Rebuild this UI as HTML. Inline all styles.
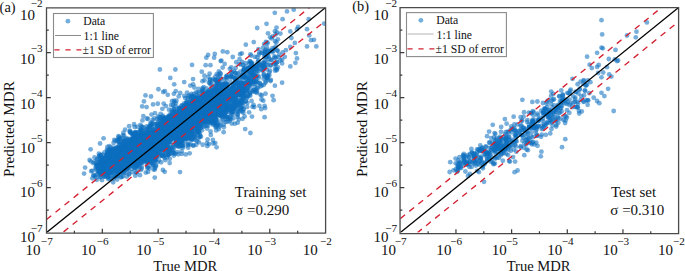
<!DOCTYPE html><html><head><meta charset="utf-8"><style>html,body{margin:0;padding:0;background:#fff;width:685px;height:271px;overflow:hidden;}svg{display:block}</style></head><body><svg xmlns="http://www.w3.org/2000/svg" width="685" height="271" viewBox="0 0 685 271" font-family='"Liberation Serif", serif' fill="#111"><clipPath id="ca"><rect x="46.5" y="7.6" width="279.1" height="225.0"/></clipPath><g clip-path="url(#ca)" fill="#0d6fbe" fill-opacity="0.56"><circle cx="119.06" cy="168.07" r="2.4"/><circle cx="171.29" cy="128.56" r="2.4"/><circle cx="186.04" cy="114.1" r="2.4"/><circle cx="103.53" cy="166.3" r="2.4"/><circle cx="121.78" cy="151.91" r="2.4"/><circle cx="247.36" cy="90.76" r="2.4"/><circle cx="110.79" cy="155.19" r="2.4"/><circle cx="119.23" cy="158.8" r="2.4"/><circle cx="255.54" cy="91.9" r="2.4"/><circle cx="189.02" cy="139.14" r="2.4"/><circle cx="152.86" cy="142.19" r="2.4"/><circle cx="173.02" cy="105.25" r="2.4"/><circle cx="195.04" cy="101.21" r="2.4"/><circle cx="139.69" cy="143.36" r="2.4"/><circle cx="120.38" cy="150.51" r="2.4"/><circle cx="215.08" cy="93.02" r="2.4"/><circle cx="196.15" cy="115.65" r="2.4"/><circle cx="173.16" cy="116.81" r="2.4"/><circle cx="220.34" cy="96.39" r="2.4"/><circle cx="178.44" cy="130.1" r="2.4"/><circle cx="277.83" cy="-3.04" r="2.4"/><circle cx="129.74" cy="143.51" r="2.4"/><circle cx="179.11" cy="127.92" r="2.4"/><circle cx="169.05" cy="119.64" r="2.4"/><circle cx="150.65" cy="153.04" r="2.4"/><circle cx="184.6" cy="132.43" r="2.4"/><circle cx="134.07" cy="124.23" r="2.4"/><circle cx="217.64" cy="93.3" r="2.4"/><circle cx="230.66" cy="105.82" r="2.4"/><circle cx="119.09" cy="171.75" r="2.4"/><circle cx="166.69" cy="133.9" r="2.4"/><circle cx="139.95" cy="157.48" r="2.4"/><circle cx="112.67" cy="151.11" r="2.4"/><circle cx="237.62" cy="114.27" r="2.4"/><circle cx="161.44" cy="125.71" r="2.4"/><circle cx="121.75" cy="163.31" r="2.4"/><circle cx="196.59" cy="128.38" r="2.4"/><circle cx="129.42" cy="153.12" r="2.4"/><circle cx="239.1" cy="104.76" r="2.4"/><circle cx="131.51" cy="158.29" r="2.4"/><circle cx="104.42" cy="170.39" r="2.4"/><circle cx="129.21" cy="173.72" r="2.4"/><circle cx="149.59" cy="156.53" r="2.4"/><circle cx="166.96" cy="129.95" r="2.4"/><circle cx="240.41" cy="111.13" r="2.4"/><circle cx="200.19" cy="136" r="2.4"/><circle cx="148.69" cy="155.09" r="2.4"/><circle cx="100.62" cy="160.45" r="2.4"/><circle cx="123.46" cy="148.48" r="2.4"/><circle cx="165.65" cy="142.74" r="2.4"/><circle cx="199.23" cy="105.93" r="2.4"/><circle cx="108.28" cy="162.16" r="2.4"/><circle cx="104.62" cy="176.64" r="2.4"/><circle cx="226.06" cy="87.03" r="2.4"/><circle cx="184.06" cy="124.75" r="2.4"/><circle cx="144.39" cy="154.32" r="2.4"/><circle cx="145.6" cy="155.76" r="2.4"/><circle cx="113.53" cy="178.77" r="2.4"/><circle cx="125.26" cy="154.47" r="2.4"/><circle cx="102.61" cy="159.72" r="2.4"/><circle cx="224.7" cy="100.88" r="2.4"/><circle cx="166.58" cy="136.99" r="2.4"/><circle cx="118.87" cy="163.19" r="2.4"/><circle cx="206.78" cy="101.04" r="2.4"/><circle cx="128.49" cy="153.94" r="2.4"/><circle cx="109.46" cy="173.72" r="2.4"/><circle cx="185.59" cy="122.63" r="2.4"/><circle cx="237.57" cy="84.2" r="2.4"/><circle cx="103.15" cy="165.62" r="2.4"/><circle cx="218.17" cy="105.87" r="2.4"/><circle cx="127.72" cy="160.06" r="2.4"/><circle cx="114.05" cy="156.72" r="2.4"/><circle cx="100.93" cy="171.05" r="2.4"/><circle cx="142.17" cy="147.35" r="2.4"/><circle cx="204.82" cy="108.71" r="2.4"/><circle cx="170.41" cy="116.57" r="2.4"/><circle cx="227.53" cy="99.38" r="2.4"/><circle cx="131.52" cy="133.42" r="2.4"/><circle cx="145.3" cy="158.35" r="2.4"/><circle cx="137.28" cy="151.08" r="2.4"/><circle cx="275.35" cy="68.14" r="2.4"/><circle cx="252.25" cy="76.32" r="2.4"/><circle cx="148.88" cy="140.58" r="2.4"/><circle cx="162.29" cy="117.02" r="2.4"/><circle cx="145.17" cy="137.12" r="2.4"/><circle cx="207.97" cy="113.9" r="2.4"/><circle cx="105.73" cy="164.41" r="2.4"/><circle cx="110.33" cy="161.11" r="2.4"/><circle cx="157.79" cy="147.65" r="2.4"/><circle cx="135.44" cy="141.2" r="2.4"/><circle cx="225.93" cy="92.83" r="2.4"/><circle cx="207.2" cy="113.56" r="2.4"/><circle cx="177.97" cy="133.95" r="2.4"/><circle cx="194.84" cy="105.79" r="2.4"/><circle cx="199.42" cy="114.79" r="2.4"/><circle cx="213.84" cy="89.56" r="2.4"/><circle cx="247.11" cy="72.92" r="2.4"/><circle cx="122.04" cy="164.14" r="2.4"/><circle cx="189.64" cy="153.36" r="2.4"/><circle cx="121.18" cy="156.51" r="2.4"/><circle cx="163.3" cy="141.73" r="2.4"/><circle cx="214.76" cy="115.26" r="2.4"/><circle cx="237.29" cy="106.51" r="2.4"/><circle cx="210.09" cy="79.38" r="2.4"/><circle cx="104.88" cy="166.76" r="2.4"/><circle cx="151.51" cy="114.59" r="2.4"/><circle cx="123.91" cy="149.78" r="2.4"/><circle cx="121.23" cy="151.21" r="2.4"/><circle cx="135.33" cy="132.18" r="2.4"/><circle cx="151.2" cy="161.07" r="2.4"/><circle cx="109.29" cy="170.03" r="2.4"/><circle cx="231.35" cy="94.71" r="2.4"/><circle cx="191.14" cy="128.7" r="2.4"/><circle cx="123.45" cy="145.51" r="2.4"/><circle cx="171.14" cy="139.33" r="2.4"/><circle cx="112.02" cy="151.02" r="2.4"/><circle cx="187.43" cy="145.42" r="2.4"/><circle cx="133.56" cy="158.85" r="2.4"/><circle cx="105.48" cy="166.07" r="2.4"/><circle cx="117.19" cy="154.28" r="2.4"/><circle cx="179.33" cy="126.39" r="2.4"/><circle cx="191.23" cy="98.68" r="2.4"/><circle cx="146.65" cy="131.59" r="2.4"/><circle cx="192.18" cy="95.97" r="2.4"/><circle cx="150.48" cy="147.93" r="2.4"/><circle cx="119.36" cy="150.8" r="2.4"/><circle cx="145.3" cy="151.18" r="2.4"/><circle cx="156.55" cy="123.62" r="2.4"/><circle cx="242.32" cy="111.57" r="2.4"/><circle cx="117.25" cy="164.7" r="2.4"/><circle cx="113.1" cy="162.16" r="2.4"/><circle cx="180.23" cy="131.03" r="2.4"/><circle cx="264.12" cy="44.03" r="2.4"/><circle cx="240.74" cy="106.88" r="2.4"/><circle cx="200.63" cy="121.1" r="2.4"/><circle cx="110.22" cy="167.73" r="2.4"/><circle cx="218.41" cy="101.81" r="2.4"/><circle cx="198.08" cy="128.63" r="2.4"/><circle cx="121.22" cy="152.76" r="2.4"/><circle cx="166.39" cy="129.18" r="2.4"/><circle cx="107.38" cy="176.78" r="2.4"/><circle cx="217.58" cy="125.03" r="2.4"/><circle cx="203.48" cy="100.22" r="2.4"/><circle cx="218.08" cy="83.57" r="2.4"/><circle cx="210.29" cy="122.22" r="2.4"/><circle cx="138.56" cy="150.48" r="2.4"/><circle cx="215.38" cy="116.94" r="2.4"/><circle cx="136.02" cy="142.91" r="2.4"/><circle cx="120.37" cy="168.09" r="2.4"/><circle cx="155.87" cy="147.39" r="2.4"/><circle cx="171.08" cy="127.71" r="2.4"/><circle cx="141.17" cy="147.09" r="2.4"/><circle cx="186.67" cy="108.91" r="2.4"/><circle cx="186.19" cy="116.86" r="2.4"/><circle cx="134.7" cy="168.23" r="2.4"/><circle cx="189.12" cy="114.05" r="2.4"/><circle cx="151.21" cy="155.13" r="2.4"/><circle cx="206.04" cy="92.55" r="2.4"/><circle cx="141.81" cy="135.29" r="2.4"/><circle cx="217.01" cy="90.14" r="2.4"/><circle cx="159.34" cy="117.48" r="2.4"/><circle cx="179.04" cy="118.61" r="2.4"/><circle cx="196.59" cy="98.12" r="2.4"/><circle cx="174.02" cy="120.13" r="2.4"/><circle cx="137.2" cy="143.16" r="2.4"/><circle cx="276.35" cy="42.28" r="2.4"/><circle cx="114.49" cy="157.28" r="2.4"/><circle cx="146.66" cy="130.21" r="2.4"/><circle cx="178.44" cy="134.47" r="2.4"/><circle cx="103.53" cy="173.69" r="2.4"/><circle cx="122.77" cy="162.84" r="2.4"/><circle cx="217.1" cy="82.85" r="2.4"/><circle cx="214.33" cy="105.43" r="2.4"/><circle cx="191.23" cy="130.78" r="2.4"/><circle cx="239.2" cy="104.06" r="2.4"/><circle cx="209.47" cy="99.51" r="2.4"/><circle cx="142.99" cy="145.87" r="2.4"/><circle cx="192.39" cy="97.31" r="2.4"/><circle cx="148.8" cy="148.31" r="2.4"/><circle cx="208.52" cy="100.19" r="2.4"/><circle cx="155.08" cy="150.66" r="2.4"/><circle cx="122.53" cy="153.84" r="2.4"/><circle cx="232.76" cy="57.02" r="2.4"/><circle cx="199.13" cy="119.1" r="2.4"/><circle cx="207.67" cy="108.49" r="2.4"/><circle cx="179.96" cy="116.05" r="2.4"/><circle cx="214.17" cy="115.35" r="2.4"/><circle cx="163.97" cy="141.03" r="2.4"/><circle cx="180.86" cy="129.89" r="2.4"/><circle cx="109.56" cy="157.31" r="2.4"/><circle cx="179.3" cy="140.27" r="2.4"/><circle cx="219.94" cy="84.6" r="2.4"/><circle cx="201.44" cy="108.47" r="2.4"/><circle cx="217.81" cy="99.98" r="2.4"/><circle cx="170.83" cy="131.64" r="2.4"/><circle cx="233.93" cy="93.64" r="2.4"/><circle cx="116.21" cy="176.34" r="2.4"/><circle cx="232.58" cy="77.19" r="2.4"/><circle cx="153.18" cy="153.15" r="2.4"/><circle cx="113.78" cy="149.39" r="2.4"/><circle cx="188.65" cy="121.43" r="2.4"/><circle cx="164.96" cy="137.3" r="2.4"/><circle cx="161.21" cy="132.94" r="2.4"/><circle cx="227.34" cy="77.32" r="2.4"/><circle cx="120.36" cy="157.86" r="2.4"/><circle cx="188.3" cy="127.11" r="2.4"/><circle cx="159.15" cy="137.38" r="2.4"/><circle cx="175.44" cy="153.83" r="2.4"/><circle cx="171.3" cy="146.95" r="2.4"/><circle cx="119.84" cy="167.6" r="2.4"/><circle cx="173.11" cy="135.19" r="2.4"/><circle cx="229.5" cy="121" r="2.4"/><circle cx="125.06" cy="146.52" r="2.4"/><circle cx="98.87" cy="169.66" r="2.4"/><circle cx="110.35" cy="160.72" r="2.4"/><circle cx="165.66" cy="122.11" r="2.4"/><circle cx="272.05" cy="60.23" r="2.4"/><circle cx="106.49" cy="168.67" r="2.4"/><circle cx="176.56" cy="114.19" r="2.4"/><circle cx="117.88" cy="139.69" r="2.4"/><circle cx="159.83" cy="142.22" r="2.4"/><circle cx="130.14" cy="151.51" r="2.4"/><circle cx="202.78" cy="104.75" r="2.4"/><circle cx="177.35" cy="130.05" r="2.4"/><circle cx="141.47" cy="145.66" r="2.4"/><circle cx="136.9" cy="163.62" r="2.4"/><circle cx="230.58" cy="109.93" r="2.4"/><circle cx="211.28" cy="112.55" r="2.4"/><circle cx="162.32" cy="155.33" r="2.4"/><circle cx="157.99" cy="134.55" r="2.4"/><circle cx="206.49" cy="101.06" r="2.4"/><circle cx="269.17" cy="50.53" r="2.4"/><circle cx="112.15" cy="164.17" r="2.4"/><circle cx="123.35" cy="147.87" r="2.4"/><circle cx="151.92" cy="133.8" r="2.4"/><circle cx="172.49" cy="124.95" r="2.4"/><circle cx="110.94" cy="163.57" r="2.4"/><circle cx="108.08" cy="151.37" r="2.4"/><circle cx="131.84" cy="161.79" r="2.4"/><circle cx="155.24" cy="159.32" r="2.4"/><circle cx="206.78" cy="121.9" r="2.4"/><circle cx="187.27" cy="107.4" r="2.4"/><circle cx="103.64" cy="165.1" r="2.4"/><circle cx="106.63" cy="164.74" r="2.4"/><circle cx="164.56" cy="157.94" r="2.4"/><circle cx="232.39" cy="96.89" r="2.4"/><circle cx="243.03" cy="102.68" r="2.4"/><circle cx="152.31" cy="165.72" r="2.4"/><circle cx="235.41" cy="78.1" r="2.4"/><circle cx="247.68" cy="82.65" r="2.4"/><circle cx="158.15" cy="125.99" r="2.4"/><circle cx="207.9" cy="108.53" r="2.4"/><circle cx="152.35" cy="136.79" r="2.4"/><circle cx="122.58" cy="163.51" r="2.4"/><circle cx="182.22" cy="118.82" r="2.4"/><circle cx="113.14" cy="161.04" r="2.4"/><circle cx="195.12" cy="105.09" r="2.4"/><circle cx="218.93" cy="95.01" r="2.4"/><circle cx="243.16" cy="98.03" r="2.4"/><circle cx="163.99" cy="134.39" r="2.4"/><circle cx="117.49" cy="157.86" r="2.4"/><circle cx="239.39" cy="95.12" r="2.4"/><circle cx="231.35" cy="96.6" r="2.4"/><circle cx="266.93" cy="47.56" r="2.4"/><circle cx="184.95" cy="110.23" r="2.4"/><circle cx="196.6" cy="114.83" r="2.4"/><circle cx="153.46" cy="164.88" r="2.4"/><circle cx="126.73" cy="145.42" r="2.4"/><circle cx="142" cy="132.16" r="2.4"/><circle cx="203.8" cy="111.99" r="2.4"/><circle cx="146.67" cy="159.83" r="2.4"/><circle cx="199.31" cy="106.3" r="2.4"/><circle cx="171.7" cy="128.61" r="2.4"/><circle cx="164.13" cy="126.56" r="2.4"/><circle cx="266.95" cy="69.41" r="2.4"/><circle cx="124.34" cy="141.05" r="2.4"/><circle cx="169.55" cy="122.56" r="2.4"/><circle cx="123.44" cy="170.61" r="2.4"/><circle cx="250.8" cy="67.73" r="2.4"/><circle cx="169.76" cy="132.07" r="2.4"/><circle cx="147.65" cy="139.19" r="2.4"/><circle cx="124.65" cy="153.53" r="2.4"/><circle cx="184.97" cy="120.38" r="2.4"/><circle cx="157.07" cy="137.67" r="2.4"/><circle cx="118.87" cy="159.36" r="2.4"/><circle cx="104.29" cy="169.37" r="2.4"/><circle cx="156" cy="144.23" r="2.4"/><circle cx="183.38" cy="126.23" r="2.4"/><circle cx="174.09" cy="123.63" r="2.4"/><circle cx="238.72" cy="84.97" r="2.4"/><circle cx="242.01" cy="102.96" r="2.4"/><circle cx="250.34" cy="67.47" r="2.4"/><circle cx="217.18" cy="102" r="2.4"/><circle cx="168.19" cy="129.19" r="2.4"/><circle cx="174.8" cy="121.04" r="2.4"/><circle cx="156.84" cy="137.24" r="2.4"/><circle cx="157.15" cy="133.29" r="2.4"/><circle cx="106.02" cy="172.14" r="2.4"/><circle cx="217.02" cy="81.08" r="2.4"/><circle cx="135.57" cy="132.15" r="2.4"/><circle cx="103.66" cy="158.43" r="2.4"/><circle cx="166.61" cy="138.77" r="2.4"/><circle cx="203.36" cy="103.39" r="2.4"/><circle cx="162.29" cy="139.83" r="2.4"/><circle cx="152.18" cy="126.43" r="2.4"/><circle cx="194.4" cy="122.36" r="2.4"/><circle cx="123.88" cy="166.08" r="2.4"/><circle cx="98.82" cy="168.14" r="2.4"/><circle cx="184.72" cy="128.23" r="2.4"/><circle cx="175.76" cy="91.14" r="2.4"/><circle cx="230.32" cy="99.21" r="2.4"/><circle cx="159.45" cy="136.36" r="2.4"/><circle cx="214.73" cy="105.26" r="2.4"/><circle cx="100.92" cy="156.12" r="2.4"/><circle cx="103.22" cy="162.16" r="2.4"/><circle cx="185.62" cy="119.76" r="2.4"/><circle cx="132.79" cy="138.12" r="2.4"/><circle cx="110.3" cy="160.42" r="2.4"/><circle cx="118.95" cy="160.82" r="2.4"/><circle cx="153.67" cy="145.56" r="2.4"/><circle cx="148.38" cy="133.56" r="2.4"/><circle cx="180.57" cy="122.07" r="2.4"/><circle cx="235.47" cy="106.39" r="2.4"/><circle cx="152.39" cy="131.28" r="2.4"/><circle cx="126.88" cy="165.13" r="2.4"/><circle cx="182.63" cy="144.98" r="2.4"/><circle cx="93.58" cy="174.89" r="2.4"/><circle cx="155.08" cy="161.09" r="2.4"/><circle cx="145.58" cy="148.54" r="2.4"/><circle cx="155.45" cy="140.16" r="2.4"/><circle cx="107.63" cy="165.28" r="2.4"/><circle cx="179.18" cy="134.67" r="2.4"/><circle cx="189.36" cy="129.67" r="2.4"/><circle cx="208.46" cy="97.37" r="2.4"/><circle cx="260.47" cy="94.68" r="2.4"/><circle cx="150.86" cy="137.01" r="2.4"/><circle cx="194.07" cy="112.73" r="2.4"/><circle cx="163.14" cy="138.26" r="2.4"/><circle cx="131.22" cy="144.78" r="2.4"/><circle cx="235.9" cy="105.9" r="2.4"/><circle cx="207.87" cy="94.96" r="2.4"/><circle cx="253.01" cy="70.42" r="2.4"/><circle cx="221.26" cy="78.78" r="2.4"/><circle cx="243.8" cy="109.43" r="2.4"/><circle cx="118.99" cy="156.88" r="2.4"/><circle cx="100.28" cy="167.15" r="2.4"/><circle cx="128.91" cy="174.49" r="2.4"/><circle cx="158.92" cy="142.12" r="2.4"/><circle cx="198.72" cy="111.91" r="2.4"/><circle cx="162.64" cy="145.54" r="2.4"/><circle cx="173.3" cy="123.93" r="2.4"/><circle cx="210.39" cy="96.02" r="2.4"/><circle cx="110.81" cy="166.21" r="2.4"/><circle cx="197.32" cy="116.84" r="2.4"/><circle cx="107.28" cy="157.95" r="2.4"/><circle cx="135.94" cy="160.57" r="2.4"/><circle cx="204.06" cy="102.34" r="2.4"/><circle cx="198.03" cy="102.06" r="2.4"/><circle cx="157.96" cy="141.1" r="2.4"/><circle cx="142.4" cy="143.92" r="2.4"/><circle cx="222.53" cy="96.93" r="2.4"/><circle cx="139.61" cy="143.06" r="2.4"/><circle cx="104.05" cy="176.56" r="2.4"/><circle cx="135.75" cy="165.55" r="2.4"/><circle cx="101.79" cy="172.09" r="2.4"/><circle cx="219.21" cy="110.99" r="2.4"/><circle cx="118.18" cy="148.55" r="2.4"/><circle cx="271.66" cy="38.38" r="2.4"/><circle cx="130.93" cy="144.53" r="2.4"/><circle cx="144.01" cy="136.38" r="2.4"/><circle cx="183.67" cy="132.42" r="2.4"/><circle cx="144.32" cy="152.87" r="2.4"/><circle cx="154.31" cy="157.31" r="2.4"/><circle cx="115.64" cy="149.87" r="2.4"/><circle cx="155.68" cy="136.7" r="2.4"/><circle cx="102.76" cy="165.27" r="2.4"/><circle cx="132.47" cy="163.09" r="2.4"/><circle cx="241.38" cy="99.4" r="2.4"/><circle cx="140.46" cy="144.62" r="2.4"/><circle cx="139.07" cy="149.54" r="2.4"/><circle cx="197.47" cy="102.17" r="2.4"/><circle cx="234.31" cy="92.21" r="2.4"/><circle cx="142.58" cy="153.17" r="2.4"/><circle cx="153.89" cy="153.95" r="2.4"/><circle cx="202.86" cy="109.88" r="2.4"/><circle cx="215.81" cy="86.34" r="2.4"/><circle cx="187.84" cy="98.42" r="2.4"/><circle cx="126.15" cy="162.44" r="2.4"/><circle cx="126.4" cy="152.68" r="2.4"/><circle cx="209.87" cy="111.01" r="2.4"/><circle cx="201.64" cy="108.56" r="2.4"/><circle cx="237.71" cy="122.72" r="2.4"/><circle cx="213.62" cy="110.02" r="2.4"/><circle cx="160.2" cy="155.79" r="2.4"/><circle cx="119.72" cy="139.13" r="2.4"/><circle cx="236.2" cy="98.36" r="2.4"/><circle cx="199.91" cy="104.91" r="2.4"/><circle cx="182.39" cy="122.61" r="2.4"/><circle cx="197.85" cy="126.79" r="2.4"/><circle cx="155.13" cy="136.34" r="2.4"/><circle cx="149.25" cy="132.24" r="2.4"/><circle cx="182.25" cy="122.69" r="2.4"/><circle cx="168.93" cy="124.72" r="2.4"/><circle cx="201.97" cy="90.82" r="2.4"/><circle cx="250.26" cy="72.3" r="2.4"/><circle cx="226.35" cy="98.98" r="2.4"/><circle cx="155.46" cy="157.18" r="2.4"/><circle cx="153.35" cy="156.31" r="2.4"/><circle cx="246.88" cy="98.17" r="2.4"/><circle cx="156.46" cy="133.73" r="2.4"/><circle cx="217.28" cy="87.26" r="2.4"/><circle cx="114.03" cy="158.15" r="2.4"/><circle cx="164.43" cy="126.7" r="2.4"/><circle cx="173.71" cy="153.12" r="2.4"/><circle cx="218.86" cy="99.48" r="2.4"/><circle cx="233.03" cy="114.23" r="2.4"/><circle cx="122.45" cy="147.83" r="2.4"/><circle cx="188.33" cy="104.85" r="2.4"/><circle cx="190.08" cy="105.88" r="2.4"/><circle cx="122.29" cy="149.58" r="2.4"/><circle cx="223.6" cy="84.54" r="2.4"/><circle cx="179.07" cy="108" r="2.4"/><circle cx="263.05" cy="70.58" r="2.4"/><circle cx="127.18" cy="141.33" r="2.4"/><circle cx="174.97" cy="133.44" r="2.4"/><circle cx="146.46" cy="158.9" r="2.4"/><circle cx="192.04" cy="64.88" r="2.4"/><circle cx="187" cy="111.31" r="2.4"/><circle cx="173.17" cy="124.64" r="2.4"/><circle cx="146.66" cy="153.16" r="2.4"/><circle cx="171.95" cy="126.65" r="2.4"/><circle cx="153.32" cy="142.19" r="2.4"/><circle cx="236.28" cy="62.23" r="2.4"/><circle cx="165.91" cy="131.84" r="2.4"/><circle cx="167.85" cy="127.68" r="2.4"/><circle cx="137.34" cy="153.28" r="2.4"/><circle cx="136.67" cy="145.29" r="2.4"/><circle cx="258.42" cy="49.05" r="2.4"/><circle cx="145.13" cy="152.45" r="2.4"/><circle cx="230.89" cy="99.71" r="2.4"/><circle cx="185.06" cy="140.98" r="2.4"/><circle cx="277.44" cy="50.64" r="2.4"/><circle cx="124.05" cy="142.94" r="2.4"/><circle cx="252.49" cy="91.88" r="2.4"/><circle cx="212.35" cy="107.46" r="2.4"/><circle cx="181.18" cy="137.3" r="2.4"/><circle cx="201.95" cy="112.77" r="2.4"/><circle cx="204.08" cy="118.98" r="2.4"/><circle cx="164.04" cy="138.97" r="2.4"/><circle cx="190.87" cy="129.35" r="2.4"/><circle cx="133.12" cy="150.83" r="2.4"/><circle cx="101.83" cy="160.07" r="2.4"/><circle cx="197.06" cy="102.08" r="2.4"/><circle cx="167.74" cy="152.39" r="2.4"/><circle cx="240.25" cy="71.67" r="2.4"/><circle cx="138.11" cy="141.99" r="2.4"/><circle cx="220.58" cy="86.21" r="2.4"/><circle cx="238.19" cy="95.1" r="2.4"/><circle cx="264.77" cy="54.67" r="2.4"/><circle cx="123.35" cy="140.96" r="2.4"/><circle cx="124.2" cy="166.34" r="2.4"/><circle cx="133.08" cy="145.42" r="2.4"/><circle cx="151.8" cy="140" r="2.4"/><circle cx="117.21" cy="162.1" r="2.4"/><circle cx="122.17" cy="154.09" r="2.4"/><circle cx="101.07" cy="169.83" r="2.4"/><circle cx="249.19" cy="63.68" r="2.4"/><circle cx="151.75" cy="156.95" r="2.4"/><circle cx="189.63" cy="115.44" r="2.4"/><circle cx="164.91" cy="141.02" r="2.4"/><circle cx="207.4" cy="108.73" r="2.4"/><circle cx="218.36" cy="111.18" r="2.4"/><circle cx="154.83" cy="169.54" r="2.4"/><circle cx="176.46" cy="100.67" r="2.4"/><circle cx="114.69" cy="153.75" r="2.4"/><circle cx="141.12" cy="145.01" r="2.4"/><circle cx="132.3" cy="151.06" r="2.4"/><circle cx="144.36" cy="145.12" r="2.4"/><circle cx="146.6" cy="148.08" r="2.4"/><circle cx="182.19" cy="122.37" r="2.4"/><circle cx="147.77" cy="132.38" r="2.4"/><circle cx="146.94" cy="151.67" r="2.4"/><circle cx="223.15" cy="109.1" r="2.4"/><circle cx="99.11" cy="156.63" r="2.4"/><circle cx="96.02" cy="170.06" r="2.4"/><circle cx="108.68" cy="161.61" r="2.4"/><circle cx="230.26" cy="96.17" r="2.4"/><circle cx="190.76" cy="108.5" r="2.4"/><circle cx="204.96" cy="101.09" r="2.4"/><circle cx="260.61" cy="65.06" r="2.4"/><circle cx="131.63" cy="159.77" r="2.4"/><circle cx="244.6" cy="96.2" r="2.4"/><circle cx="135.09" cy="149.15" r="2.4"/><circle cx="174.09" cy="108.74" r="2.4"/><circle cx="197.74" cy="130.57" r="2.4"/><circle cx="216.73" cy="100.96" r="2.4"/><circle cx="135.87" cy="143.35" r="2.4"/><circle cx="168.11" cy="138.47" r="2.4"/><circle cx="106.73" cy="161.61" r="2.4"/><circle cx="141.46" cy="147.97" r="2.4"/><circle cx="277.89" cy="39.28" r="2.4"/><circle cx="240.12" cy="54.26" r="2.4"/><circle cx="183.22" cy="126.17" r="2.4"/><circle cx="214.8" cy="96.63" r="2.4"/><circle cx="239.31" cy="84.53" r="2.4"/><circle cx="147.64" cy="143" r="2.4"/><circle cx="277.42" cy="50.59" r="2.4"/><circle cx="164.06" cy="155.77" r="2.4"/><circle cx="123.33" cy="153.74" r="2.4"/><circle cx="175.7" cy="139.44" r="2.4"/><circle cx="184.9" cy="126.48" r="2.4"/><circle cx="199.5" cy="106.62" r="2.4"/><circle cx="196.24" cy="106.76" r="2.4"/><circle cx="105.99" cy="168.1" r="2.4"/><circle cx="191.54" cy="121.87" r="2.4"/><circle cx="245.13" cy="86.98" r="2.4"/><circle cx="196.11" cy="126.2" r="2.4"/><circle cx="272.67" cy="36.48" r="2.4"/><circle cx="173.04" cy="111.54" r="2.4"/><circle cx="219.12" cy="100.65" r="2.4"/><circle cx="120.71" cy="145.41" r="2.4"/><circle cx="237.51" cy="80.99" r="2.4"/><circle cx="162.35" cy="148.13" r="2.4"/><circle cx="232.81" cy="84.69" r="2.4"/><circle cx="146.09" cy="142.25" r="2.4"/><circle cx="189.38" cy="115.92" r="2.4"/><circle cx="226.21" cy="112.36" r="2.4"/><circle cx="202.34" cy="115.72" r="2.4"/><circle cx="188.73" cy="144.3" r="2.4"/><circle cx="269.11" cy="58.76" r="2.4"/><circle cx="113.36" cy="163.32" r="2.4"/><circle cx="115.33" cy="165.46" r="2.4"/><circle cx="178.8" cy="139.41" r="2.4"/><circle cx="258.87" cy="54.64" r="2.4"/><circle cx="198.54" cy="137.98" r="2.4"/><circle cx="144.52" cy="142.08" r="2.4"/><circle cx="116.13" cy="158.97" r="2.4"/><circle cx="164.03" cy="124.12" r="2.4"/><circle cx="168.58" cy="147.89" r="2.4"/><circle cx="166.87" cy="130.64" r="2.4"/><circle cx="188.65" cy="106.59" r="2.4"/><circle cx="139.34" cy="149.48" r="2.4"/><circle cx="233.7" cy="107.52" r="2.4"/><circle cx="141.52" cy="166.52" r="2.4"/><circle cx="116.04" cy="164.96" r="2.4"/><circle cx="150.04" cy="127.42" r="2.4"/><circle cx="250.12" cy="61.3" r="2.4"/><circle cx="123.4" cy="155.26" r="2.4"/><circle cx="140.03" cy="138.95" r="2.4"/><circle cx="246.79" cy="71.97" r="2.4"/><circle cx="149.92" cy="140.49" r="2.4"/><circle cx="225.5" cy="104.26" r="2.4"/><circle cx="106.7" cy="155.16" r="2.4"/><circle cx="235.69" cy="101.58" r="2.4"/><circle cx="134.34" cy="148.52" r="2.4"/><circle cx="126.37" cy="147.02" r="2.4"/><circle cx="207.27" cy="94.45" r="2.4"/><circle cx="261.56" cy="52.54" r="2.4"/><circle cx="208.93" cy="91.55" r="2.4"/><circle cx="242.81" cy="75.4" r="2.4"/><circle cx="178.97" cy="123.75" r="2.4"/><circle cx="121.32" cy="155.59" r="2.4"/><circle cx="226.79" cy="95.51" r="2.4"/><circle cx="156.64" cy="134.12" r="2.4"/><circle cx="144.94" cy="135.86" r="2.4"/><circle cx="171.52" cy="128.87" r="2.4"/><circle cx="104.77" cy="157.56" r="2.4"/><circle cx="101.14" cy="162.98" r="2.4"/><circle cx="138.15" cy="147.92" r="2.4"/><circle cx="185.22" cy="131.64" r="2.4"/><circle cx="208.45" cy="101.62" r="2.4"/><circle cx="260.31" cy="68.55" r="2.4"/><circle cx="220.61" cy="95.2" r="2.4"/><circle cx="252.29" cy="62.99" r="2.4"/><circle cx="191.14" cy="108.91" r="2.4"/><circle cx="205.91" cy="98.34" r="2.4"/><circle cx="183.99" cy="128.96" r="2.4"/><circle cx="112.42" cy="172.73" r="2.4"/><circle cx="109.46" cy="165.22" r="2.4"/><circle cx="210.24" cy="105.37" r="2.4"/><circle cx="129.43" cy="151.15" r="2.4"/><circle cx="215.39" cy="84.7" r="2.4"/><circle cx="166.27" cy="131.37" r="2.4"/><circle cx="96.94" cy="159.25" r="2.4"/><circle cx="180.24" cy="127.13" r="2.4"/><circle cx="163.29" cy="147.97" r="2.4"/><circle cx="111.31" cy="154.84" r="2.4"/><circle cx="137.69" cy="160.54" r="2.4"/><circle cx="144.1" cy="160.4" r="2.4"/><circle cx="149.58" cy="150.3" r="2.4"/><circle cx="201.64" cy="109.72" r="2.4"/><circle cx="124.5" cy="147.54" r="2.4"/><circle cx="163.32" cy="136.54" r="2.4"/><circle cx="186.82" cy="104.02" r="2.4"/><circle cx="254.6" cy="77.88" r="2.4"/><circle cx="117.15" cy="179.48" r="2.4"/><circle cx="112.11" cy="167.95" r="2.4"/><circle cx="127.94" cy="167.32" r="2.4"/><circle cx="132" cy="156.24" r="2.4"/><circle cx="123.87" cy="171.33" r="2.4"/><circle cx="111.62" cy="168.52" r="2.4"/><circle cx="130.45" cy="158.86" r="2.4"/><circle cx="132.39" cy="144.18" r="2.4"/><circle cx="168.47" cy="126.55" r="2.4"/><circle cx="192.81" cy="122.47" r="2.4"/><circle cx="152.14" cy="141.35" r="2.4"/><circle cx="124.63" cy="156.25" r="2.4"/><circle cx="114.3" cy="139.9" r="2.4"/><circle cx="137.97" cy="163.91" r="2.4"/><circle cx="125" cy="172.63" r="2.4"/><circle cx="168.68" cy="150.64" r="2.4"/><circle cx="231.52" cy="111.35" r="2.4"/><circle cx="203.14" cy="113.22" r="2.4"/><circle cx="129.56" cy="147.59" r="2.4"/><circle cx="104.96" cy="165.61" r="2.4"/><circle cx="110.35" cy="163.78" r="2.4"/><circle cx="162.26" cy="139.51" r="2.4"/><circle cx="152.1" cy="142.96" r="2.4"/><circle cx="197.94" cy="121.85" r="2.4"/><circle cx="112.78" cy="155.19" r="2.4"/><circle cx="136.77" cy="150.02" r="2.4"/><circle cx="198.44" cy="111.29" r="2.4"/><circle cx="181.19" cy="118.21" r="2.4"/><circle cx="173.78" cy="123.89" r="2.4"/><circle cx="239.16" cy="80.33" r="2.4"/><circle cx="116.92" cy="167.41" r="2.4"/><circle cx="128.47" cy="149.81" r="2.4"/><circle cx="180.82" cy="142.5" r="2.4"/><circle cx="180.79" cy="143.47" r="2.4"/><circle cx="277.03" cy="62.19" r="2.4"/><circle cx="274.56" cy="48.57" r="2.4"/><circle cx="183.97" cy="113.34" r="2.4"/><circle cx="210.03" cy="101.33" r="2.4"/><circle cx="200.2" cy="98.07" r="2.4"/><circle cx="119.68" cy="170.1" r="2.4"/><circle cx="186.16" cy="128.76" r="2.4"/><circle cx="143.97" cy="151.52" r="2.4"/><circle cx="151.45" cy="152.24" r="2.4"/><circle cx="122.96" cy="155.59" r="2.4"/><circle cx="97.59" cy="164.85" r="2.4"/><circle cx="227.68" cy="93.81" r="2.4"/><circle cx="203.23" cy="111.5" r="2.4"/><circle cx="208.91" cy="82.7" r="2.4"/><circle cx="141.48" cy="146.86" r="2.4"/><circle cx="159.66" cy="136.86" r="2.4"/><circle cx="125.75" cy="144.01" r="2.4"/><circle cx="186.14" cy="103.88" r="2.4"/><circle cx="224.71" cy="107.26" r="2.4"/><circle cx="213.45" cy="115.22" r="2.4"/><circle cx="249.39" cy="67.9" r="2.4"/><circle cx="137.6" cy="139.41" r="2.4"/><circle cx="200.79" cy="103.28" r="2.4"/><circle cx="118.8" cy="160.85" r="2.4"/><circle cx="176.6" cy="121.57" r="2.4"/><circle cx="116.49" cy="171.96" r="2.4"/><circle cx="177.18" cy="138.47" r="2.4"/><circle cx="177.44" cy="110.68" r="2.4"/><circle cx="149.76" cy="156.18" r="2.4"/><circle cx="150.12" cy="147.04" r="2.4"/><circle cx="202.3" cy="106.33" r="2.4"/><circle cx="168.68" cy="129.19" r="2.4"/><circle cx="158.29" cy="151.38" r="2.4"/><circle cx="116.83" cy="164.25" r="2.4"/><circle cx="140.67" cy="144.32" r="2.4"/><circle cx="226.31" cy="103.27" r="2.4"/><circle cx="270.11" cy="37.31" r="2.4"/><circle cx="153.45" cy="146.11" r="2.4"/><circle cx="231.45" cy="76.91" r="2.4"/><circle cx="232.12" cy="95.77" r="2.4"/><circle cx="131.65" cy="143.62" r="2.4"/><circle cx="139.48" cy="145.35" r="2.4"/><circle cx="199.99" cy="110.25" r="2.4"/><circle cx="144.01" cy="159.02" r="2.4"/><circle cx="259.22" cy="64.5" r="2.4"/><circle cx="152.31" cy="143.71" r="2.4"/><circle cx="205.32" cy="104.66" r="2.4"/><circle cx="201.71" cy="120.46" r="2.4"/><circle cx="131.02" cy="160.13" r="2.4"/><circle cx="230.36" cy="108.18" r="2.4"/><circle cx="147.2" cy="146.56" r="2.4"/><circle cx="116.46" cy="150.82" r="2.4"/><circle cx="107.52" cy="164.17" r="2.4"/><circle cx="164.53" cy="146.02" r="2.4"/><circle cx="190.65" cy="127.35" r="2.4"/><circle cx="139.14" cy="167.29" r="2.4"/><circle cx="225.26" cy="116.47" r="2.4"/><circle cx="138.6" cy="154.62" r="2.4"/><circle cx="226.39" cy="106.88" r="2.4"/><circle cx="104.43" cy="168.18" r="2.4"/><circle cx="137.91" cy="136.58" r="2.4"/><circle cx="123.41" cy="149.56" r="2.4"/><circle cx="163.95" cy="122.16" r="2.4"/><circle cx="150.31" cy="146.49" r="2.4"/><circle cx="156.48" cy="139.56" r="2.4"/><circle cx="227.24" cy="107.64" r="2.4"/><circle cx="182.85" cy="139.25" r="2.4"/><circle cx="186.62" cy="137.51" r="2.4"/><circle cx="155.82" cy="147.09" r="2.4"/><circle cx="218.71" cy="94.52" r="2.4"/><circle cx="171.64" cy="110.22" r="2.4"/><circle cx="207.89" cy="109.88" r="2.4"/><circle cx="242.79" cy="105.56" r="2.4"/><circle cx="187.58" cy="126.2" r="2.4"/><circle cx="162.17" cy="135.36" r="2.4"/><circle cx="138.05" cy="159.76" r="2.4"/><circle cx="242.12" cy="92.38" r="2.4"/><circle cx="211.05" cy="100.33" r="2.4"/><circle cx="217.15" cy="100.77" r="2.4"/><circle cx="132.11" cy="148.7" r="2.4"/><circle cx="162.39" cy="137.01" r="2.4"/><circle cx="234.48" cy="95.57" r="2.4"/><circle cx="135.57" cy="138.45" r="2.4"/><circle cx="219.81" cy="91.99" r="2.4"/><circle cx="176.94" cy="125.55" r="2.4"/><circle cx="131.74" cy="146.42" r="2.4"/><circle cx="153.77" cy="145.02" r="2.4"/><circle cx="111.66" cy="159.61" r="2.4"/><circle cx="196.55" cy="110.96" r="2.4"/><circle cx="204.79" cy="108.24" r="2.4"/><circle cx="103.59" cy="138.3" r="2.4"/><circle cx="143.36" cy="146.83" r="2.4"/><circle cx="211.71" cy="99.53" r="2.4"/><circle cx="129.16" cy="126.14" r="2.4"/><circle cx="176.7" cy="141.85" r="2.4"/><circle cx="218.31" cy="101.47" r="2.4"/><circle cx="181.46" cy="113.29" r="2.4"/><circle cx="118.17" cy="154.37" r="2.4"/><circle cx="241.29" cy="89.55" r="2.4"/><circle cx="208" cy="115.27" r="2.4"/><circle cx="180.73" cy="122.91" r="2.4"/><circle cx="147.78" cy="155.77" r="2.4"/><circle cx="183.25" cy="112.54" r="2.4"/><circle cx="156.03" cy="139.86" r="2.4"/><circle cx="117.67" cy="161.79" r="2.4"/><circle cx="118.16" cy="148.51" r="2.4"/><circle cx="106.68" cy="172.21" r="2.4"/><circle cx="124.94" cy="163.66" r="2.4"/><circle cx="135.51" cy="142.43" r="2.4"/><circle cx="190.99" cy="113.41" r="2.4"/><circle cx="182.94" cy="135.55" r="2.4"/><circle cx="184.45" cy="129.74" r="2.4"/><circle cx="221.35" cy="102.67" r="2.4"/><circle cx="114.36" cy="167.36" r="2.4"/><circle cx="155.66" cy="139.55" r="2.4"/><circle cx="112.11" cy="161.55" r="2.4"/><circle cx="159.86" cy="134.72" r="2.4"/><circle cx="112.04" cy="161.48" r="2.4"/><circle cx="110.16" cy="158.19" r="2.4"/><circle cx="115.65" cy="164.37" r="2.4"/><circle cx="155.8" cy="139.76" r="2.4"/><circle cx="210.74" cy="102.54" r="2.4"/><circle cx="140.62" cy="139.14" r="2.4"/><circle cx="207.2" cy="101.51" r="2.4"/><circle cx="133.78" cy="156.06" r="2.4"/><circle cx="141.36" cy="149.31" r="2.4"/><circle cx="167.31" cy="125.5" r="2.4"/><circle cx="111.47" cy="164.44" r="2.4"/><circle cx="164.11" cy="135.34" r="2.4"/><circle cx="183.43" cy="105.57" r="2.4"/><circle cx="221.84" cy="90.84" r="2.4"/><circle cx="108.53" cy="156.54" r="2.4"/><circle cx="217.22" cy="108.17" r="2.4"/><circle cx="181.42" cy="139.15" r="2.4"/><circle cx="182.67" cy="119.21" r="2.4"/><circle cx="107.68" cy="150.33" r="2.4"/><circle cx="233.58" cy="111.32" r="2.4"/><circle cx="139.98" cy="162.74" r="2.4"/><circle cx="178.06" cy="121.42" r="2.4"/><circle cx="176.93" cy="124.38" r="2.4"/><circle cx="241.55" cy="107.43" r="2.4"/><circle cx="186.03" cy="105.82" r="2.4"/><circle cx="133.62" cy="155.99" r="2.4"/><circle cx="194.94" cy="114.16" r="2.4"/><circle cx="182.46" cy="129.21" r="2.4"/><circle cx="173.33" cy="128.34" r="2.4"/><circle cx="189.86" cy="127.37" r="2.4"/><circle cx="178.66" cy="137.22" r="2.4"/><circle cx="148.34" cy="157.9" r="2.4"/><circle cx="191.91" cy="114.82" r="2.4"/><circle cx="112.71" cy="153.14" r="2.4"/><circle cx="168.39" cy="139.93" r="2.4"/><circle cx="164.67" cy="151.29" r="2.4"/><circle cx="130.96" cy="148.09" r="2.4"/><circle cx="181.19" cy="112.21" r="2.4"/><circle cx="196.08" cy="118.85" r="2.4"/><circle cx="118.56" cy="148.77" r="2.4"/><circle cx="142.74" cy="153.12" r="2.4"/><circle cx="109.48" cy="151.07" r="2.4"/><circle cx="185.41" cy="114.04" r="2.4"/><circle cx="112.46" cy="171.09" r="2.4"/><circle cx="133.24" cy="142.78" r="2.4"/><circle cx="163.97" cy="137.39" r="2.4"/><circle cx="164.52" cy="136.74" r="2.4"/><circle cx="104.41" cy="167.72" r="2.4"/><circle cx="255.06" cy="75.62" r="2.4"/><circle cx="133.33" cy="158" r="2.4"/><circle cx="187.28" cy="117.33" r="2.4"/><circle cx="132.23" cy="140.54" r="2.4"/><circle cx="185.21" cy="98.09" r="2.4"/><circle cx="150.58" cy="134.39" r="2.4"/><circle cx="145.77" cy="140.38" r="2.4"/><circle cx="167.74" cy="126.25" r="2.4"/><circle cx="183.83" cy="125.92" r="2.4"/><circle cx="185.56" cy="138.28" r="2.4"/><circle cx="198.85" cy="103.88" r="2.4"/><circle cx="138.75" cy="152.08" r="2.4"/><circle cx="113.87" cy="157.42" r="2.4"/><circle cx="136.6" cy="161.48" r="2.4"/><circle cx="146.91" cy="138.95" r="2.4"/><circle cx="186.9" cy="109.74" r="2.4"/><circle cx="159.24" cy="139.09" r="2.4"/><circle cx="144.74" cy="138.78" r="2.4"/><circle cx="114.81" cy="161.86" r="2.4"/><circle cx="185.33" cy="119.76" r="2.4"/><circle cx="116.45" cy="163.61" r="2.4"/><circle cx="173.81" cy="155.49" r="2.4"/><circle cx="198.83" cy="110.49" r="2.4"/><circle cx="189.2" cy="115.48" r="2.4"/><circle cx="123.44" cy="149.51" r="2.4"/><circle cx="151.03" cy="126.63" r="2.4"/><circle cx="252.22" cy="67.39" r="2.4"/><circle cx="113.75" cy="157.13" r="2.4"/><circle cx="197.39" cy="122.62" r="2.4"/><circle cx="162.35" cy="108.82" r="2.4"/><circle cx="187.8" cy="143.6" r="2.4"/><circle cx="156.34" cy="147.02" r="2.4"/><circle cx="118.39" cy="160.35" r="2.4"/><circle cx="180.36" cy="108.57" r="2.4"/><circle cx="96.5" cy="164.91" r="2.4"/><circle cx="229.93" cy="90.68" r="2.4"/><circle cx="217" cy="119.83" r="2.4"/><circle cx="153.53" cy="147.47" r="2.4"/><circle cx="176.75" cy="116.23" r="2.4"/><circle cx="175.33" cy="132.51" r="2.4"/><circle cx="276.62" cy="69.26" r="2.4"/><circle cx="106.4" cy="162.45" r="2.4"/><circle cx="142.84" cy="152.01" r="2.4"/><circle cx="158.21" cy="139.28" r="2.4"/><circle cx="214.97" cy="101.42" r="2.4"/><circle cx="205.29" cy="117.69" r="2.4"/><circle cx="160.51" cy="141.44" r="2.4"/><circle cx="98.95" cy="153.59" r="2.4"/><circle cx="192.84" cy="119.26" r="2.4"/><circle cx="158.17" cy="143.98" r="2.4"/><circle cx="117.41" cy="162.66" r="2.4"/><circle cx="190.36" cy="115.47" r="2.4"/><circle cx="163.55" cy="132.13" r="2.4"/><circle cx="144.06" cy="154.69" r="2.4"/><circle cx="138.82" cy="149.95" r="2.4"/><circle cx="174.37" cy="102.11" r="2.4"/><circle cx="135.81" cy="163" r="2.4"/><circle cx="156.27" cy="132.11" r="2.4"/><circle cx="252.65" cy="66.36" r="2.4"/><circle cx="168.21" cy="147.21" r="2.4"/><circle cx="136.62" cy="163.58" r="2.4"/><circle cx="174.43" cy="135" r="2.4"/><circle cx="243.75" cy="68.72" r="2.4"/><circle cx="230.42" cy="99.94" r="2.4"/><circle cx="197.17" cy="113.97" r="2.4"/><circle cx="238.45" cy="88.44" r="2.4"/><circle cx="209.65" cy="107.69" r="2.4"/><circle cx="197.6" cy="92.61" r="2.4"/><circle cx="161.17" cy="134.19" r="2.4"/><circle cx="121.99" cy="163.3" r="2.4"/><circle cx="205.61" cy="104.08" r="2.4"/><circle cx="190.83" cy="112.26" r="2.4"/><circle cx="267.12" cy="77.39" r="2.4"/><circle cx="146.11" cy="144.63" r="2.4"/><circle cx="232.83" cy="99.24" r="2.4"/><circle cx="131.71" cy="164.6" r="2.4"/><circle cx="254.56" cy="86.65" r="2.4"/><circle cx="107.01" cy="165.33" r="2.4"/><circle cx="146.62" cy="160.81" r="2.4"/><circle cx="267.42" cy="65.31" r="2.4"/><circle cx="196.19" cy="144.83" r="2.4"/><circle cx="119.89" cy="166.19" r="2.4"/><circle cx="96.77" cy="179.84" r="2.4"/><circle cx="136.02" cy="157.95" r="2.4"/><circle cx="253.73" cy="42.08" r="2.4"/><circle cx="218.13" cy="78.79" r="2.4"/><circle cx="161.23" cy="135.03" r="2.4"/><circle cx="210.43" cy="65.17" r="2.4"/><circle cx="239.33" cy="103.38" r="2.4"/><circle cx="143.15" cy="153.43" r="2.4"/><circle cx="232.28" cy="93.32" r="2.4"/><circle cx="138.88" cy="132.05" r="2.4"/><circle cx="147.2" cy="145.79" r="2.4"/><circle cx="106.58" cy="154.97" r="2.4"/><circle cx="123.51" cy="159.73" r="2.4"/><circle cx="178.7" cy="145.78" r="2.4"/><circle cx="102.46" cy="165.46" r="2.4"/><circle cx="177.97" cy="117.36" r="2.4"/><circle cx="124.88" cy="151.16" r="2.4"/><circle cx="208.34" cy="90.68" r="2.4"/><circle cx="118.98" cy="166.91" r="2.4"/><circle cx="130.09" cy="154.51" r="2.4"/><circle cx="138.79" cy="147.55" r="2.4"/><circle cx="183.31" cy="119.35" r="2.4"/><circle cx="218.8" cy="91.74" r="2.4"/><circle cx="209.08" cy="95.51" r="2.4"/><circle cx="207.1" cy="111.38" r="2.4"/><circle cx="197.83" cy="124.03" r="2.4"/><circle cx="177.61" cy="133.26" r="2.4"/><circle cx="149.15" cy="148.61" r="2.4"/><circle cx="126.27" cy="161.58" r="2.4"/><circle cx="229.86" cy="104.35" r="2.4"/><circle cx="158.51" cy="134.65" r="2.4"/><circle cx="193.18" cy="105.79" r="2.4"/><circle cx="110.46" cy="154.99" r="2.4"/><circle cx="151.72" cy="136.86" r="2.4"/><circle cx="115.11" cy="157.1" r="2.4"/><circle cx="150.83" cy="148.69" r="2.4"/><circle cx="205.81" cy="112.4" r="2.4"/><circle cx="148.94" cy="143.26" r="2.4"/><circle cx="197.9" cy="132.61" r="2.4"/><circle cx="118.3" cy="155.11" r="2.4"/><circle cx="155.11" cy="160.23" r="2.4"/><circle cx="158.64" cy="121.18" r="2.4"/><circle cx="172.68" cy="123.42" r="2.4"/><circle cx="133.1" cy="155.31" r="2.4"/><circle cx="200.39" cy="110.87" r="2.4"/><circle cx="234.16" cy="96.3" r="2.4"/><circle cx="219.57" cy="82.01" r="2.4"/><circle cx="103.98" cy="158.38" r="2.4"/><circle cx="169.69" cy="131.4" r="2.4"/><circle cx="149.35" cy="146.7" r="2.4"/><circle cx="181.88" cy="118.58" r="2.4"/><circle cx="112.69" cy="155.39" r="2.4"/><circle cx="205.23" cy="109.49" r="2.4"/><circle cx="159.58" cy="143.63" r="2.4"/><circle cx="253.5" cy="104.84" r="2.4"/><circle cx="101.24" cy="172.2" r="2.4"/><circle cx="159.71" cy="150.69" r="2.4"/><circle cx="169.49" cy="150.75" r="2.4"/><circle cx="223.11" cy="114.6" r="2.4"/><circle cx="209.61" cy="73.64" r="2.4"/><circle cx="126.58" cy="152.25" r="2.4"/><circle cx="144.25" cy="141.54" r="2.4"/><circle cx="206.22" cy="113.9" r="2.4"/><circle cx="159.99" cy="117.53" r="2.4"/><circle cx="137.97" cy="147.18" r="2.4"/><circle cx="248.22" cy="68.41" r="2.4"/><circle cx="225.5" cy="83.76" r="2.4"/><circle cx="150.95" cy="138.96" r="2.4"/><circle cx="178.51" cy="107.87" r="2.4"/><circle cx="247.7" cy="92.99" r="2.4"/><circle cx="131.43" cy="156.45" r="2.4"/><circle cx="241.28" cy="82.98" r="2.4"/><circle cx="234.69" cy="91.75" r="2.4"/><circle cx="204.72" cy="104.69" r="2.4"/><circle cx="198.48" cy="88.94" r="2.4"/><circle cx="198.33" cy="116.13" r="2.4"/><circle cx="177.74" cy="123.2" r="2.4"/><circle cx="183.25" cy="128.54" r="2.4"/><circle cx="128.73" cy="158.14" r="2.4"/><circle cx="180.39" cy="146.01" r="2.4"/><circle cx="196.53" cy="107.98" r="2.4"/><circle cx="169.32" cy="116.74" r="2.4"/><circle cx="197.47" cy="114.25" r="2.4"/><circle cx="165.43" cy="117.87" r="2.4"/><circle cx="217.87" cy="113.97" r="2.4"/><circle cx="203.84" cy="110.65" r="2.4"/><circle cx="113.51" cy="161.91" r="2.4"/><circle cx="211.8" cy="94.31" r="2.4"/><circle cx="141.03" cy="147.08" r="2.4"/><circle cx="112.42" cy="156.07" r="2.4"/><circle cx="118.03" cy="140.96" r="2.4"/><circle cx="146.53" cy="156.18" r="2.4"/><circle cx="174.92" cy="129.67" r="2.4"/><circle cx="147.41" cy="142.56" r="2.4"/><circle cx="129.59" cy="160.1" r="2.4"/><circle cx="211.79" cy="99.82" r="2.4"/><circle cx="153.53" cy="169.58" r="2.4"/><circle cx="232.17" cy="106.49" r="2.4"/><circle cx="135.36" cy="155.15" r="2.4"/><circle cx="199.06" cy="130.27" r="2.4"/><circle cx="151.24" cy="124.67" r="2.4"/><circle cx="226.85" cy="75.89" r="2.4"/><circle cx="192.62" cy="103.43" r="2.4"/><circle cx="197.37" cy="97.49" r="2.4"/><circle cx="114.04" cy="153.95" r="2.4"/><circle cx="208.77" cy="110.01" r="2.4"/><circle cx="150.81" cy="147.11" r="2.4"/><circle cx="206.93" cy="143.22" r="2.4"/><circle cx="225.92" cy="88.03" r="2.4"/><circle cx="118.2" cy="158.61" r="2.4"/><circle cx="100.17" cy="177.07" r="2.4"/><circle cx="209.87" cy="115.75" r="2.4"/><circle cx="267.58" cy="55.24" r="2.4"/><circle cx="238.81" cy="119.42" r="2.4"/><circle cx="162.23" cy="144.82" r="2.4"/><circle cx="223.61" cy="124.65" r="2.4"/><circle cx="102.36" cy="167.11" r="2.4"/><circle cx="108.91" cy="162" r="2.4"/><circle cx="183.13" cy="147.53" r="2.4"/><circle cx="175.34" cy="135.96" r="2.4"/><circle cx="221.9" cy="93.86" r="2.4"/><circle cx="133.81" cy="158.25" r="2.4"/><circle cx="166.07" cy="119.58" r="2.4"/><circle cx="143.55" cy="131.12" r="2.4"/><circle cx="157.84" cy="151.66" r="2.4"/><circle cx="186.92" cy="129.21" r="2.4"/><circle cx="126.68" cy="151.08" r="2.4"/><circle cx="199.22" cy="118.28" r="2.4"/><circle cx="159.21" cy="142.88" r="2.4"/><circle cx="157.32" cy="148.16" r="2.4"/><circle cx="137.09" cy="155.81" r="2.4"/><circle cx="166.46" cy="130.27" r="2.4"/><circle cx="182.16" cy="110.37" r="2.4"/><circle cx="156.13" cy="137.97" r="2.4"/><circle cx="172.21" cy="122.7" r="2.4"/><circle cx="191.09" cy="117.15" r="2.4"/><circle cx="227.28" cy="89.81" r="2.4"/><circle cx="180.17" cy="113.91" r="2.4"/><circle cx="154.77" cy="152.24" r="2.4"/><circle cx="262.92" cy="47.95" r="2.4"/><circle cx="125.24" cy="150.12" r="2.4"/><circle cx="106.71" cy="157.71" r="2.4"/><circle cx="241.05" cy="82.74" r="2.4"/><circle cx="138.36" cy="155.77" r="2.4"/><circle cx="122.29" cy="160.78" r="2.4"/><circle cx="155.15" cy="140.53" r="2.4"/><circle cx="149.19" cy="168.5" r="2.4"/><circle cx="150.85" cy="151.43" r="2.4"/><circle cx="227.15" cy="102.3" r="2.4"/><circle cx="141.82" cy="153.37" r="2.4"/><circle cx="119.64" cy="165.84" r="2.4"/><circle cx="131.31" cy="160.82" r="2.4"/><circle cx="256.21" cy="79.31" r="2.4"/><circle cx="161.28" cy="144.04" r="2.4"/><circle cx="151.7" cy="132.84" r="2.4"/><circle cx="213.2" cy="106.13" r="2.4"/><circle cx="250.07" cy="84.27" r="2.4"/><circle cx="172.85" cy="121.32" r="2.4"/><circle cx="219.93" cy="102.22" r="2.4"/><circle cx="138.18" cy="149.7" r="2.4"/><circle cx="150.25" cy="132.93" r="2.4"/><circle cx="182.4" cy="113.25" r="2.4"/><circle cx="134.22" cy="157.44" r="2.4"/><circle cx="139.68" cy="160.69" r="2.4"/><circle cx="127.35" cy="159.45" r="2.4"/><circle cx="137.86" cy="144.06" r="2.4"/><circle cx="224.74" cy="115.35" r="2.4"/><circle cx="216.29" cy="110.38" r="2.4"/><circle cx="117.01" cy="161.3" r="2.4"/><circle cx="150.04" cy="160.63" r="2.4"/><circle cx="204.05" cy="95.69" r="2.4"/><circle cx="228.98" cy="97.04" r="2.4"/><circle cx="180.05" cy="141.61" r="2.4"/><circle cx="204.74" cy="125.98" r="2.4"/><circle cx="134.36" cy="149.4" r="2.4"/><circle cx="213.97" cy="91.03" r="2.4"/><circle cx="221.13" cy="94.2" r="2.4"/><circle cx="158.2" cy="139.1" r="2.4"/><circle cx="134.14" cy="151.65" r="2.4"/><circle cx="104.43" cy="152.52" r="2.4"/><circle cx="190.14" cy="106.43" r="2.4"/><circle cx="190.58" cy="144.54" r="2.4"/><circle cx="92.03" cy="170.85" r="2.4"/><circle cx="174.28" cy="122.77" r="2.4"/><circle cx="251.19" cy="82.96" r="2.4"/><circle cx="103.57" cy="162.17" r="2.4"/><circle cx="120.3" cy="152.8" r="2.4"/><circle cx="108.79" cy="168.35" r="2.4"/><circle cx="162.37" cy="123.25" r="2.4"/><circle cx="155.08" cy="140.53" r="2.4"/><circle cx="231.3" cy="76.15" r="2.4"/><circle cx="110.17" cy="159.55" r="2.4"/><circle cx="129.18" cy="155.83" r="2.4"/><circle cx="251.01" cy="62.77" r="2.4"/><circle cx="101.22" cy="163.28" r="2.4"/><circle cx="137.42" cy="126.87" r="2.4"/><circle cx="156.41" cy="133.8" r="2.4"/><circle cx="90.58" cy="161.29" r="2.4"/><circle cx="141.36" cy="156.12" r="2.4"/><circle cx="186.25" cy="120.45" r="2.4"/><circle cx="188.05" cy="125.9" r="2.4"/><circle cx="187.1" cy="131.18" r="2.4"/><circle cx="193.27" cy="114.69" r="2.4"/><circle cx="187.94" cy="135.71" r="2.4"/><circle cx="104.71" cy="164.61" r="2.4"/><circle cx="193.85" cy="102.43" r="2.4"/><circle cx="183.47" cy="117.11" r="2.4"/><circle cx="131.6" cy="155.91" r="2.4"/><circle cx="159.97" cy="145.46" r="2.4"/><circle cx="134.4" cy="144.25" r="2.4"/><circle cx="230.81" cy="75.54" r="2.4"/><circle cx="140.18" cy="150.56" r="2.4"/><circle cx="123.89" cy="156.3" r="2.4"/><circle cx="216.62" cy="95.05" r="2.4"/><circle cx="210.41" cy="110" r="2.4"/><circle cx="227.37" cy="91.85" r="2.4"/><circle cx="197.19" cy="109.38" r="2.4"/><circle cx="159.59" cy="128.09" r="2.4"/><circle cx="167.89" cy="139.95" r="2.4"/><circle cx="179.32" cy="124.4" r="2.4"/><circle cx="185.24" cy="117.83" r="2.4"/><circle cx="254.08" cy="90.09" r="2.4"/><circle cx="138.3" cy="153.88" r="2.4"/><circle cx="211.65" cy="103.1" r="2.4"/><circle cx="100.64" cy="177.23" r="2.4"/><circle cx="127.73" cy="158.4" r="2.4"/><circle cx="253.71" cy="90.46" r="2.4"/><circle cx="136.28" cy="153.81" r="2.4"/><circle cx="172.97" cy="135.83" r="2.4"/><circle cx="243.49" cy="91.08" r="2.4"/><circle cx="193.82" cy="110.34" r="2.4"/><circle cx="169.74" cy="119.92" r="2.4"/><circle cx="200.87" cy="103.96" r="2.4"/><circle cx="275.41" cy="64.07" r="2.4"/><circle cx="252.33" cy="76.09" r="2.4"/><circle cx="126.47" cy="165.57" r="2.4"/><circle cx="120.68" cy="152.7" r="2.4"/><circle cx="141.47" cy="140.03" r="2.4"/><circle cx="121.39" cy="162.15" r="2.4"/><circle cx="210.9" cy="105.75" r="2.4"/><circle cx="223.64" cy="84.15" r="2.4"/><circle cx="120.77" cy="151.96" r="2.4"/><circle cx="111.2" cy="162.75" r="2.4"/><circle cx="146.5" cy="152.95" r="2.4"/><circle cx="198.61" cy="132.45" r="2.4"/><circle cx="211.96" cy="108.84" r="2.4"/><circle cx="165.79" cy="145.68" r="2.4"/><circle cx="191.54" cy="119.63" r="2.4"/><circle cx="243.82" cy="76.83" r="2.4"/><circle cx="233.66" cy="108.98" r="2.4"/><circle cx="117.54" cy="163.25" r="2.4"/><circle cx="202.63" cy="112.21" r="2.4"/><circle cx="213.06" cy="121.51" r="2.4"/><circle cx="240.75" cy="89.87" r="2.4"/><circle cx="159.77" cy="146.69" r="2.4"/><circle cx="122.93" cy="154.07" r="2.4"/><circle cx="167.65" cy="128.64" r="2.4"/><circle cx="153.04" cy="136.63" r="2.4"/><circle cx="156.34" cy="143.59" r="2.4"/><circle cx="217.74" cy="98.21" r="2.4"/><circle cx="193.42" cy="116.49" r="2.4"/><circle cx="197.6" cy="102.28" r="2.4"/><circle cx="193.54" cy="145.69" r="2.4"/><circle cx="120.91" cy="161.82" r="2.4"/><circle cx="108.89" cy="167.39" r="2.4"/><circle cx="156.52" cy="137.6" r="2.4"/><circle cx="226.86" cy="84.37" r="2.4"/><circle cx="192.96" cy="116.22" r="2.4"/><circle cx="215.67" cy="99.74" r="2.4"/><circle cx="189.11" cy="124.14" r="2.4"/><circle cx="214.42" cy="99" r="2.4"/><circle cx="202.64" cy="120.99" r="2.4"/><circle cx="229.41" cy="88.84" r="2.4"/><circle cx="270.79" cy="65.52" r="2.4"/><circle cx="207" cy="128.49" r="2.4"/><circle cx="219.64" cy="102.36" r="2.4"/><circle cx="112.01" cy="156.18" r="2.4"/><circle cx="105.06" cy="160.1" r="2.4"/><circle cx="245.71" cy="83.2" r="2.4"/><circle cx="134.41" cy="152.6" r="2.4"/><circle cx="143.91" cy="142.07" r="2.4"/><circle cx="120" cy="153.86" r="2.4"/><circle cx="190.88" cy="136.47" r="2.4"/><circle cx="103.74" cy="168.55" r="2.4"/><circle cx="217.07" cy="102.1" r="2.4"/><circle cx="142.93" cy="148.64" r="2.4"/><circle cx="207.53" cy="99.92" r="2.4"/><circle cx="241.74" cy="76.18" r="2.4"/><circle cx="199.12" cy="110.28" r="2.4"/><circle cx="160.67" cy="141.53" r="2.4"/><circle cx="189.46" cy="102.4" r="2.4"/><circle cx="228.03" cy="106.01" r="2.4"/><circle cx="202.33" cy="110.61" r="2.4"/><circle cx="136.45" cy="132.92" r="2.4"/><circle cx="97.27" cy="165.52" r="2.4"/><circle cx="233.55" cy="85.37" r="2.4"/><circle cx="189.24" cy="122.81" r="2.4"/><circle cx="109.71" cy="155.44" r="2.4"/><circle cx="178.71" cy="96.38" r="2.4"/><circle cx="184.23" cy="117.63" r="2.4"/><circle cx="142.23" cy="151.82" r="2.4"/><circle cx="235.08" cy="78.65" r="2.4"/><circle cx="134.69" cy="126.94" r="2.4"/><circle cx="121.21" cy="151.91" r="2.4"/><circle cx="144.47" cy="155.12" r="2.4"/><circle cx="148.56" cy="143.72" r="2.4"/><circle cx="234.59" cy="102.3" r="2.4"/><circle cx="194.19" cy="99.58" r="2.4"/><circle cx="118.13" cy="162.38" r="2.4"/><circle cx="156.33" cy="134.98" r="2.4"/><circle cx="115.44" cy="158.51" r="2.4"/><circle cx="201.47" cy="103.86" r="2.4"/><circle cx="227.95" cy="116.88" r="2.4"/><circle cx="114.13" cy="159.15" r="2.4"/><circle cx="171.37" cy="129.78" r="2.4"/><circle cx="135.38" cy="149.71" r="2.4"/><circle cx="141.06" cy="159.87" r="2.4"/><circle cx="208.02" cy="92.07" r="2.4"/><circle cx="274.22" cy="64.09" r="2.4"/><circle cx="140.2" cy="145.12" r="2.4"/><circle cx="177.5" cy="133.07" r="2.4"/><circle cx="144.61" cy="147.14" r="2.4"/><circle cx="109.49" cy="164.74" r="2.4"/><circle cx="186.18" cy="138.68" r="2.4"/><circle cx="122.83" cy="161.14" r="2.4"/><circle cx="198.72" cy="98.45" r="2.4"/><circle cx="208.08" cy="125.85" r="2.4"/><circle cx="121" cy="156.36" r="2.4"/><circle cx="185.28" cy="138.49" r="2.4"/><circle cx="130.28" cy="139.48" r="2.4"/><circle cx="210.75" cy="120.9" r="2.4"/><circle cx="141.18" cy="159.34" r="2.4"/><circle cx="199.01" cy="113.93" r="2.4"/><circle cx="192.84" cy="108.84" r="2.4"/><circle cx="182.22" cy="146.23" r="2.4"/><circle cx="131.59" cy="151.38" r="2.4"/><circle cx="223.73" cy="88.76" r="2.4"/><circle cx="150.87" cy="145.68" r="2.4"/><circle cx="212.02" cy="110.29" r="2.4"/><circle cx="167.82" cy="130.33" r="2.4"/><circle cx="164" cy="118.9" r="2.4"/><circle cx="202.48" cy="88.14" r="2.4"/><circle cx="148.9" cy="126.82" r="2.4"/><circle cx="210.8" cy="134.89" r="2.4"/><circle cx="163.55" cy="124.84" r="2.4"/><circle cx="206.99" cy="95.82" r="2.4"/><circle cx="200.22" cy="109.52" r="2.4"/><circle cx="254.13" cy="66.73" r="2.4"/><circle cx="158.43" cy="89.25" r="2.4"/><circle cx="150.05" cy="146.15" r="2.4"/><circle cx="173.73" cy="132.88" r="2.4"/><circle cx="159.82" cy="132.6" r="2.4"/><circle cx="200.7" cy="116.19" r="2.4"/><circle cx="136.15" cy="156.85" r="2.4"/><circle cx="260.64" cy="86.24" r="2.4"/><circle cx="209.19" cy="100.83" r="2.4"/><circle cx="193.01" cy="136.17" r="2.4"/><circle cx="142.02" cy="147.99" r="2.4"/><circle cx="218.95" cy="110.16" r="2.4"/><circle cx="244.32" cy="68.74" r="2.4"/><circle cx="215.68" cy="86.35" r="2.4"/><circle cx="242.21" cy="61.95" r="2.4"/><circle cx="113.95" cy="166.28" r="2.4"/><circle cx="207.1" cy="117.33" r="2.4"/><circle cx="230.43" cy="91.25" r="2.4"/><circle cx="167.99" cy="155.05" r="2.4"/><circle cx="112.23" cy="166.57" r="2.4"/><circle cx="177.5" cy="116.1" r="2.4"/><circle cx="135.08" cy="149.94" r="2.4"/><circle cx="104.33" cy="159.73" r="2.4"/><circle cx="250.15" cy="88.57" r="2.4"/><circle cx="223.35" cy="104.2" r="2.4"/><circle cx="190.86" cy="121.11" r="2.4"/><circle cx="208.3" cy="96.79" r="2.4"/><circle cx="196.31" cy="102.88" r="2.4"/><circle cx="166.09" cy="124.63" r="2.4"/><circle cx="118.04" cy="157.05" r="2.4"/><circle cx="141.58" cy="151.65" r="2.4"/><circle cx="172.26" cy="135.82" r="2.4"/><circle cx="183.22" cy="126.25" r="2.4"/><circle cx="143.37" cy="161.7" r="2.4"/><circle cx="118.87" cy="164.83" r="2.4"/><circle cx="149.11" cy="162.05" r="2.4"/><circle cx="127.09" cy="151.47" r="2.4"/><circle cx="248.2" cy="78.77" r="2.4"/><circle cx="132.05" cy="163.01" r="2.4"/><circle cx="156.38" cy="132.15" r="2.4"/><circle cx="177.4" cy="128.22" r="2.4"/><circle cx="136.46" cy="150.64" r="2.4"/><circle cx="170.66" cy="128.4" r="2.4"/><circle cx="178.96" cy="123.83" r="2.4"/><circle cx="107.34" cy="169.43" r="2.4"/><circle cx="255.1" cy="83.68" r="2.4"/><circle cx="176.84" cy="142.04" r="2.4"/><circle cx="121.52" cy="152.6" r="2.4"/><circle cx="124.64" cy="148.33" r="2.4"/><circle cx="204.88" cy="115.67" r="2.4"/><circle cx="168.88" cy="143.28" r="2.4"/><circle cx="137.19" cy="140.74" r="2.4"/><circle cx="154.35" cy="131.71" r="2.4"/><circle cx="168.7" cy="154.06" r="2.4"/><circle cx="153.13" cy="133.46" r="2.4"/><circle cx="135.71" cy="158.52" r="2.4"/><circle cx="159.48" cy="125.02" r="2.4"/><circle cx="162.26" cy="132.94" r="2.4"/><circle cx="198.73" cy="118.87" r="2.4"/><circle cx="128.76" cy="158.18" r="2.4"/><circle cx="106.71" cy="166.24" r="2.4"/><circle cx="223.63" cy="132.19" r="2.4"/><circle cx="110.61" cy="156.8" r="2.4"/><circle cx="190.42" cy="122.6" r="2.4"/><circle cx="178.42" cy="115.47" r="2.4"/><circle cx="272.52" cy="95.79" r="2.4"/><circle cx="127.69" cy="148.05" r="2.4"/><circle cx="235.49" cy="92.29" r="2.4"/><circle cx="119.31" cy="166.22" r="2.4"/><circle cx="125.1" cy="139.98" r="2.4"/><circle cx="193.71" cy="108.45" r="2.4"/><circle cx="124.28" cy="164.23" r="2.4"/><circle cx="183.86" cy="131.17" r="2.4"/><circle cx="196.84" cy="108.87" r="2.4"/><circle cx="118.62" cy="136.26" r="2.4"/><circle cx="215.45" cy="92.56" r="2.4"/><circle cx="160.47" cy="142.62" r="2.4"/><circle cx="266.55" cy="23.84" r="2.4"/><circle cx="98.86" cy="166.94" r="2.4"/><circle cx="112.01" cy="151.14" r="2.4"/><circle cx="188.77" cy="112.89" r="2.4"/><circle cx="137.15" cy="152.58" r="2.4"/><circle cx="157.6" cy="146.08" r="2.4"/><circle cx="241.2" cy="95.28" r="2.4"/><circle cx="149.32" cy="147" r="2.4"/><circle cx="107.71" cy="152.89" r="2.4"/><circle cx="121.1" cy="158.71" r="2.4"/><circle cx="179.38" cy="132.98" r="2.4"/><circle cx="212.75" cy="92.7" r="2.4"/><circle cx="209.84" cy="82.58" r="2.4"/><circle cx="167.33" cy="130.68" r="2.4"/><circle cx="134.68" cy="138.72" r="2.4"/><circle cx="119.05" cy="155.55" r="2.4"/><circle cx="132.37" cy="134.64" r="2.4"/><circle cx="129.16" cy="154.82" r="2.4"/><circle cx="240.78" cy="93.48" r="2.4"/><circle cx="158.31" cy="144.42" r="2.4"/><circle cx="117.39" cy="157.14" r="2.4"/><circle cx="191.41" cy="117.04" r="2.4"/><circle cx="165.3" cy="143.11" r="2.4"/><circle cx="103.61" cy="167.6" r="2.4"/><circle cx="276.71" cy="70.15" r="2.4"/><circle cx="254.58" cy="81.77" r="2.4"/><circle cx="137.9" cy="135.97" r="2.4"/><circle cx="223.48" cy="102.14" r="2.4"/><circle cx="164.99" cy="147.76" r="2.4"/><circle cx="196.64" cy="119.41" r="2.4"/><circle cx="193.64" cy="121.41" r="2.4"/><circle cx="205.59" cy="109.88" r="2.4"/><circle cx="162.93" cy="152.71" r="2.4"/><circle cx="121.6" cy="143.43" r="2.4"/><circle cx="218.02" cy="114.56" r="2.4"/><circle cx="162.92" cy="139.73" r="2.4"/><circle cx="163.15" cy="126.48" r="2.4"/><circle cx="210.09" cy="105.66" r="2.4"/><circle cx="198.38" cy="101.1" r="2.4"/><circle cx="155.52" cy="129.97" r="2.4"/><circle cx="190.92" cy="96.5" r="2.4"/><circle cx="112.76" cy="166.41" r="2.4"/><circle cx="116.81" cy="156.34" r="2.4"/><circle cx="136.79" cy="161.57" r="2.4"/><circle cx="140.34" cy="149.98" r="2.4"/><circle cx="163.73" cy="141.02" r="2.4"/><circle cx="133.15" cy="151.07" r="2.4"/><circle cx="250.28" cy="95.72" r="2.4"/><circle cx="161.16" cy="162.36" r="2.4"/><circle cx="154.74" cy="134.61" r="2.4"/><circle cx="239.27" cy="87.7" r="2.4"/><circle cx="216.45" cy="87.13" r="2.4"/><circle cx="211.95" cy="103.98" r="2.4"/><circle cx="242.76" cy="83.77" r="2.4"/><circle cx="206.34" cy="121.48" r="2.4"/><circle cx="143.95" cy="101.4" r="2.4"/><circle cx="262.81" cy="65.26" r="2.4"/><circle cx="103.19" cy="169.49" r="2.4"/><circle cx="237.93" cy="73.54" r="2.4"/><circle cx="159.95" cy="127.22" r="2.4"/><circle cx="148.46" cy="141.02" r="2.4"/><circle cx="167.76" cy="119.12" r="2.4"/><circle cx="157.19" cy="142.25" r="2.4"/><circle cx="229.14" cy="105.2" r="2.4"/><circle cx="218.35" cy="75.11" r="2.4"/><circle cx="207.99" cy="110.12" r="2.4"/><circle cx="133.7" cy="134.25" r="2.4"/><circle cx="162.84" cy="144.48" r="2.4"/><circle cx="111.48" cy="157.1" r="2.4"/><circle cx="207.31" cy="95.96" r="2.4"/><circle cx="106.12" cy="171.54" r="2.4"/><circle cx="156.65" cy="154.53" r="2.4"/><circle cx="122.23" cy="163.34" r="2.4"/><circle cx="227.34" cy="101.75" r="2.4"/><circle cx="244.13" cy="86.19" r="2.4"/><circle cx="141.69" cy="153.64" r="2.4"/><circle cx="231.82" cy="109.31" r="2.4"/><circle cx="126.02" cy="162.66" r="2.4"/><circle cx="202.31" cy="120.93" r="2.4"/><circle cx="136.23" cy="145.75" r="2.4"/><circle cx="163.64" cy="141.95" r="2.4"/><circle cx="187.43" cy="137.94" r="2.4"/><circle cx="150.35" cy="153.76" r="2.4"/><circle cx="128.8" cy="157.16" r="2.4"/><circle cx="184.06" cy="138.41" r="2.4"/><circle cx="216.14" cy="97.76" r="2.4"/><circle cx="146.3" cy="160.15" r="2.4"/><circle cx="137.2" cy="153.78" r="2.4"/><circle cx="111.69" cy="164.33" r="2.4"/><circle cx="129.77" cy="147.74" r="2.4"/><circle cx="102.92" cy="168.03" r="2.4"/><circle cx="136.09" cy="157.63" r="2.4"/><circle cx="204.64" cy="119.87" r="2.4"/><circle cx="117.11" cy="167.59" r="2.4"/><circle cx="192.61" cy="96.32" r="2.4"/><circle cx="142.44" cy="120.41" r="2.4"/><circle cx="133.16" cy="138.77" r="2.4"/><circle cx="169.05" cy="130.33" r="2.4"/><circle cx="162.32" cy="133.45" r="2.4"/><circle cx="163.82" cy="149.26" r="2.4"/><circle cx="117.52" cy="167.18" r="2.4"/><circle cx="180.68" cy="112.86" r="2.4"/><circle cx="239.29" cy="87.37" r="2.4"/><circle cx="98.01" cy="161.56" r="2.4"/><circle cx="112.36" cy="161.62" r="2.4"/><circle cx="183.78" cy="119.2" r="2.4"/><circle cx="145.77" cy="146.45" r="2.4"/><circle cx="136.4" cy="146.84" r="2.4"/><circle cx="144.31" cy="136.69" r="2.4"/><circle cx="244.88" cy="92.11" r="2.4"/><circle cx="188.28" cy="122.77" r="2.4"/><circle cx="103.86" cy="169.28" r="2.4"/><circle cx="138.37" cy="149.59" r="2.4"/><circle cx="111.59" cy="159.12" r="2.4"/><circle cx="176.83" cy="127.54" r="2.4"/><circle cx="241.05" cy="109.52" r="2.4"/><circle cx="107.94" cy="166.77" r="2.4"/><circle cx="103.38" cy="170.3" r="2.4"/><circle cx="103.66" cy="167.7" r="2.4"/><circle cx="139.36" cy="155.13" r="2.4"/><circle cx="124.36" cy="158.53" r="2.4"/><circle cx="267.4" cy="42.42" r="2.4"/><circle cx="212.79" cy="98.54" r="2.4"/><circle cx="251.53" cy="63.84" r="2.4"/><circle cx="182.89" cy="139.53" r="2.4"/><circle cx="221.17" cy="109.99" r="2.4"/><circle cx="201.96" cy="120.14" r="2.4"/><circle cx="142.05" cy="139" r="2.4"/><circle cx="193.54" cy="108.6" r="2.4"/><circle cx="141.65" cy="153.38" r="2.4"/><circle cx="166.29" cy="141.15" r="2.4"/><circle cx="221.48" cy="100.31" r="2.4"/><circle cx="132.01" cy="140.05" r="2.4"/><circle cx="125.58" cy="142.83" r="2.4"/><circle cx="227.24" cy="109.26" r="2.4"/><circle cx="166.14" cy="124.72" r="2.4"/><circle cx="125.43" cy="153.92" r="2.4"/><circle cx="145.67" cy="133.29" r="2.4"/><circle cx="140.43" cy="124.85" r="2.4"/><circle cx="237.69" cy="82.64" r="2.4"/><circle cx="167.5" cy="126.08" r="2.4"/><circle cx="244.66" cy="116.39" r="2.4"/><circle cx="167.15" cy="129.36" r="2.4"/><circle cx="251.59" cy="100.93" r="2.4"/><circle cx="243.51" cy="92.87" r="2.4"/><circle cx="181.11" cy="114.11" r="2.4"/><circle cx="214.78" cy="122.29" r="2.4"/><circle cx="141.35" cy="129.28" r="2.4"/><circle cx="117.22" cy="160.53" r="2.4"/><circle cx="186.44" cy="113.43" r="2.4"/><circle cx="108.37" cy="167.66" r="2.4"/><circle cx="166.75" cy="126.61" r="2.4"/><circle cx="188.75" cy="125.03" r="2.4"/><circle cx="211.5" cy="105.73" r="2.4"/><circle cx="237.81" cy="117.07" r="2.4"/><circle cx="129.68" cy="144.16" r="2.4"/><circle cx="230.24" cy="87.91" r="2.4"/><circle cx="170.86" cy="137.15" r="2.4"/><circle cx="189.15" cy="122.5" r="2.4"/><circle cx="165.97" cy="154.93" r="2.4"/><circle cx="226.45" cy="104.66" r="2.4"/><circle cx="143.16" cy="143.85" r="2.4"/><circle cx="97.5" cy="166" r="2.4"/><circle cx="222.74" cy="90.43" r="2.4"/><circle cx="194.86" cy="102.49" r="2.4"/><circle cx="203.15" cy="100.5" r="2.4"/><circle cx="118.45" cy="155.88" r="2.4"/><circle cx="129.97" cy="151.4" r="2.4"/><circle cx="189.54" cy="121.37" r="2.4"/><circle cx="208.08" cy="92.66" r="2.4"/><circle cx="194.79" cy="131.29" r="2.4"/><circle cx="185.24" cy="132.13" r="2.4"/><circle cx="193.85" cy="112.03" r="2.4"/><circle cx="121.77" cy="169.85" r="2.4"/><circle cx="164.37" cy="138.26" r="2.4"/><circle cx="147.31" cy="161.86" r="2.4"/><circle cx="206.28" cy="117.2" r="2.4"/><circle cx="173.88" cy="93.8" r="2.4"/><circle cx="203.7" cy="126.58" r="2.4"/><circle cx="199.8" cy="99.52" r="2.4"/><circle cx="240.15" cy="95.19" r="2.4"/><circle cx="228.23" cy="109.76" r="2.4"/><circle cx="107.77" cy="172.54" r="2.4"/><circle cx="195.76" cy="107.34" r="2.4"/><circle cx="153.49" cy="147.3" r="2.4"/><circle cx="115.17" cy="159.46" r="2.4"/><circle cx="168.29" cy="116.4" r="2.4"/><circle cx="225.52" cy="112.75" r="2.4"/><circle cx="216.58" cy="126.97" r="2.4"/><circle cx="115.86" cy="157.74" r="2.4"/><circle cx="129.43" cy="138.85" r="2.4"/><circle cx="199.82" cy="108.32" r="2.4"/><circle cx="267.34" cy="43.58" r="2.4"/><circle cx="111.8" cy="154.39" r="2.4"/><circle cx="113.47" cy="158.33" r="2.4"/><circle cx="199.92" cy="125.42" r="2.4"/><circle cx="188.16" cy="117.29" r="2.4"/><circle cx="219.28" cy="85.41" r="2.4"/><circle cx="128.86" cy="147.72" r="2.4"/><circle cx="170.57" cy="130.46" r="2.4"/><circle cx="217.4" cy="96.02" r="2.4"/><circle cx="154.74" cy="143.27" r="2.4"/><circle cx="157.16" cy="134.09" r="2.4"/><circle cx="104.38" cy="165.9" r="2.4"/><circle cx="216.84" cy="82.36" r="2.4"/><circle cx="163.79" cy="132.25" r="2.4"/><circle cx="154.13" cy="139.72" r="2.4"/><circle cx="193.94" cy="134.47" r="2.4"/><circle cx="227.53" cy="121.76" r="2.4"/><circle cx="230.42" cy="96.26" r="2.4"/><circle cx="149.13" cy="148.96" r="2.4"/><circle cx="187.03" cy="101.07" r="2.4"/><circle cx="155.46" cy="148.77" r="2.4"/><circle cx="224.64" cy="108.79" r="2.4"/><circle cx="216.07" cy="92.01" r="2.4"/><circle cx="194.88" cy="136.87" r="2.4"/><circle cx="221.64" cy="99.24" r="2.4"/><circle cx="172.79" cy="151.95" r="2.4"/><circle cx="181.61" cy="151.2" r="2.4"/><circle cx="123.85" cy="170.17" r="2.4"/><circle cx="201.81" cy="110.54" r="2.4"/><circle cx="141.5" cy="150.83" r="2.4"/><circle cx="180.28" cy="126.92" r="2.4"/><circle cx="93.47" cy="175.8" r="2.4"/><circle cx="156.85" cy="139.48" r="2.4"/><circle cx="188.13" cy="119.42" r="2.4"/><circle cx="190.32" cy="116.97" r="2.4"/><circle cx="180.56" cy="110.09" r="2.4"/><circle cx="136.42" cy="141.01" r="2.4"/><circle cx="193.79" cy="122.93" r="2.4"/><circle cx="194.8" cy="122.19" r="2.4"/><circle cx="184.36" cy="133.9" r="2.4"/><circle cx="153.99" cy="140.82" r="2.4"/><circle cx="122.37" cy="150.39" r="2.4"/><circle cx="179.53" cy="110.18" r="2.4"/><circle cx="107.82" cy="162.16" r="2.4"/><circle cx="243.41" cy="93.46" r="2.4"/><circle cx="150.55" cy="154.77" r="2.4"/><circle cx="140.76" cy="170.06" r="2.4"/><circle cx="164.37" cy="119.29" r="2.4"/><circle cx="115.59" cy="164.27" r="2.4"/><circle cx="234.62" cy="96.6" r="2.4"/><circle cx="276.53" cy="27.6" r="2.4"/><circle cx="221.59" cy="106.07" r="2.4"/><circle cx="182.01" cy="124.52" r="2.4"/><circle cx="252.13" cy="73.16" r="2.4"/><circle cx="147.44" cy="162.23" r="2.4"/><circle cx="166.42" cy="149.08" r="2.4"/><circle cx="125.1" cy="129.53" r="2.4"/><circle cx="160.7" cy="135.25" r="2.4"/><circle cx="247.14" cy="106.92" r="2.4"/><circle cx="195.12" cy="119.32" r="2.4"/><circle cx="177.95" cy="127.24" r="2.4"/><circle cx="176.55" cy="121.67" r="2.4"/><circle cx="190.95" cy="119.46" r="2.4"/><circle cx="187.27" cy="133.08" r="2.4"/><circle cx="164.63" cy="136.06" r="2.4"/><circle cx="172.94" cy="118.08" r="2.4"/><circle cx="115.24" cy="164.15" r="2.4"/><circle cx="163.34" cy="156.18" r="2.4"/><circle cx="196.8" cy="125.5" r="2.4"/><circle cx="132.39" cy="172.18" r="2.4"/><circle cx="139.92" cy="137.56" r="2.4"/><circle cx="218.12" cy="97.77" r="2.4"/><circle cx="120.09" cy="160.94" r="2.4"/><circle cx="128.47" cy="151.06" r="2.4"/><circle cx="220.68" cy="74.09" r="2.4"/><circle cx="117.99" cy="164.18" r="2.4"/><circle cx="143.23" cy="158.82" r="2.4"/><circle cx="241.64" cy="75.34" r="2.4"/><circle cx="159.04" cy="160.2" r="2.4"/><circle cx="220.49" cy="103.24" r="2.4"/><circle cx="210.99" cy="83.64" r="2.4"/><circle cx="101.48" cy="158.05" r="2.4"/><circle cx="131.86" cy="153.44" r="2.4"/><circle cx="242.09" cy="88.53" r="2.4"/><circle cx="146.16" cy="147.58" r="2.4"/><circle cx="157.77" cy="141.45" r="2.4"/><circle cx="249.76" cy="80.01" r="2.4"/><circle cx="116.41" cy="150.63" r="2.4"/><circle cx="269.87" cy="51.03" r="2.4"/><circle cx="192.66" cy="102.79" r="2.4"/><circle cx="189.99" cy="106.84" r="2.4"/><circle cx="91.26" cy="171.16" r="2.4"/><circle cx="190.32" cy="122.45" r="2.4"/><circle cx="221.37" cy="60.57" r="2.4"/><circle cx="156.38" cy="149.94" r="2.4"/><circle cx="111.19" cy="153.63" r="2.4"/><circle cx="119.55" cy="164.6" r="2.4"/><circle cx="111.86" cy="159.19" r="2.4"/><circle cx="159.33" cy="141.78" r="2.4"/><circle cx="220.41" cy="107.02" r="2.4"/><circle cx="108.94" cy="167.2" r="2.4"/><circle cx="158.03" cy="147.25" r="2.4"/><circle cx="157.34" cy="140.97" r="2.4"/><circle cx="156.95" cy="119.05" r="2.4"/><circle cx="175.22" cy="125.58" r="2.4"/><circle cx="176.45" cy="139.65" r="2.4"/><circle cx="129.68" cy="148.37" r="2.4"/><circle cx="216.23" cy="130.44" r="2.4"/><circle cx="173.83" cy="133.25" r="2.4"/><circle cx="150.48" cy="123.24" r="2.4"/><circle cx="264.59" cy="117.17" r="2.4"/><circle cx="201.49" cy="115.77" r="2.4"/><circle cx="123.91" cy="148.14" r="2.4"/><circle cx="268.02" cy="33.28" r="2.4"/><circle cx="182.66" cy="110.27" r="2.4"/><circle cx="148.82" cy="149.36" r="2.4"/><circle cx="134.37" cy="137.78" r="2.4"/><circle cx="110.39" cy="149.62" r="2.4"/><circle cx="135.28" cy="153.34" r="2.4"/><circle cx="141.62" cy="146.83" r="2.4"/><circle cx="149.36" cy="153.13" r="2.4"/><circle cx="184.72" cy="108.28" r="2.4"/><circle cx="128" cy="165.35" r="2.4"/><circle cx="153.08" cy="104.47" r="2.4"/><circle cx="161.78" cy="133.71" r="2.4"/><circle cx="112.67" cy="157.28" r="2.4"/><circle cx="166.88" cy="139.85" r="2.4"/><circle cx="172.57" cy="122.52" r="2.4"/><circle cx="241.42" cy="88.39" r="2.4"/><circle cx="161.9" cy="140.46" r="2.4"/><circle cx="198.87" cy="131.41" r="2.4"/><circle cx="197.53" cy="113.43" r="2.4"/><circle cx="125.58" cy="159.11" r="2.4"/><circle cx="181.06" cy="116.29" r="2.4"/><circle cx="164.13" cy="134.97" r="2.4"/><circle cx="123.86" cy="157.67" r="2.4"/><circle cx="102.46" cy="168.69" r="2.4"/><circle cx="113.71" cy="166.71" r="2.4"/><circle cx="235.22" cy="83.24" r="2.4"/><circle cx="152.51" cy="156.14" r="2.4"/><circle cx="112.46" cy="169.85" r="2.4"/><circle cx="264.91" cy="60.69" r="2.4"/><circle cx="194.66" cy="98.24" r="2.4"/><circle cx="157.86" cy="138.01" r="2.4"/><circle cx="224.46" cy="99.29" r="2.4"/><circle cx="201.78" cy="71.67" r="2.4"/><circle cx="159.41" cy="134.24" r="2.4"/><circle cx="203.36" cy="116.52" r="2.4"/><circle cx="206.55" cy="105.78" r="2.4"/><circle cx="125.19" cy="146.59" r="2.4"/><circle cx="203.12" cy="113.46" r="2.4"/><circle cx="243.51" cy="75.39" r="2.4"/><circle cx="198.72" cy="116.82" r="2.4"/><circle cx="217.11" cy="99.53" r="2.4"/><circle cx="216.57" cy="147.28" r="2.4"/><circle cx="167.08" cy="122.1" r="2.4"/><circle cx="180.33" cy="114.86" r="2.4"/><circle cx="211.38" cy="99.89" r="2.4"/><circle cx="190.55" cy="114.18" r="2.4"/><circle cx="110.86" cy="166.67" r="2.4"/><circle cx="109.18" cy="155.37" r="2.4"/><circle cx="139.32" cy="151.04" r="2.4"/><circle cx="220.63" cy="91.07" r="2.4"/><circle cx="132.14" cy="165.87" r="2.4"/><circle cx="145.83" cy="129.57" r="2.4"/><circle cx="221.56" cy="95.51" r="2.4"/><circle cx="119.11" cy="158.27" r="2.4"/><circle cx="140.33" cy="156.4" r="2.4"/><circle cx="137.04" cy="159.51" r="2.4"/><circle cx="107.04" cy="162.63" r="2.4"/><circle cx="207.33" cy="146.05" r="2.4"/><circle cx="146.06" cy="134.9" r="2.4"/><circle cx="158.29" cy="125.87" r="2.4"/><circle cx="147.8" cy="155.25" r="2.4"/><circle cx="110.08" cy="164.6" r="2.4"/><circle cx="225.85" cy="77.15" r="2.4"/><circle cx="119.9" cy="157.72" r="2.4"/><circle cx="141.13" cy="133.1" r="2.4"/><circle cx="203.83" cy="122.69" r="2.4"/><circle cx="149.96" cy="152.38" r="2.4"/><circle cx="172.36" cy="123.8" r="2.4"/><circle cx="147.41" cy="158.47" r="2.4"/><circle cx="180.04" cy="172.05" r="2.4"/><circle cx="145.6" cy="152.75" r="2.4"/><circle cx="165.18" cy="138.17" r="2.4"/><circle cx="97.84" cy="169.11" r="2.4"/><circle cx="100.12" cy="162.49" r="2.4"/><circle cx="172.38" cy="127.85" r="2.4"/><circle cx="220.4" cy="108.79" r="2.4"/><circle cx="217.81" cy="104.67" r="2.4"/><circle cx="174.89" cy="130.94" r="2.4"/><circle cx="192.31" cy="129.89" r="2.4"/><circle cx="196.3" cy="109.49" r="2.4"/><circle cx="205.22" cy="112.23" r="2.4"/><circle cx="149.3" cy="159.19" r="2.4"/><circle cx="163.75" cy="125.53" r="2.4"/><circle cx="213.48" cy="118.03" r="2.4"/><circle cx="131.36" cy="148.99" r="2.4"/><circle cx="114.48" cy="168.45" r="2.4"/><circle cx="238.42" cy="101.42" r="2.4"/><circle cx="100.35" cy="162.03" r="2.4"/><circle cx="237.09" cy="111.19" r="2.4"/><circle cx="242.98" cy="77.47" r="2.4"/><circle cx="124.27" cy="141.05" r="2.4"/><circle cx="209.41" cy="99.4" r="2.4"/><circle cx="141.59" cy="162.32" r="2.4"/><circle cx="139.1" cy="144.4" r="2.4"/><circle cx="235.31" cy="91.48" r="2.4"/><circle cx="210.96" cy="105.99" r="2.4"/><circle cx="162.3" cy="128.21" r="2.4"/><circle cx="181.54" cy="121.3" r="2.4"/><circle cx="276.98" cy="32.52" r="2.4"/><circle cx="203.92" cy="114.75" r="2.4"/><circle cx="106.94" cy="149.73" r="2.4"/><circle cx="216.91" cy="112.31" r="2.4"/><circle cx="224.47" cy="111.75" r="2.4"/><circle cx="233.87" cy="98" r="2.4"/><circle cx="189.05" cy="112.63" r="2.4"/><circle cx="105.29" cy="158.39" r="2.4"/><circle cx="230.7" cy="112.86" r="2.4"/><circle cx="160.31" cy="139.71" r="2.4"/><circle cx="128.62" cy="151.74" r="2.4"/><circle cx="130.3" cy="132.68" r="2.4"/><circle cx="129.32" cy="157.38" r="2.4"/><circle cx="220.14" cy="116.03" r="2.4"/><circle cx="111.13" cy="172.99" r="2.4"/><circle cx="244.04" cy="88.29" r="2.4"/><circle cx="100.62" cy="164.46" r="2.4"/><circle cx="204.15" cy="106.16" r="2.4"/><circle cx="133.4" cy="153.96" r="2.4"/><circle cx="173.51" cy="137.5" r="2.4"/><circle cx="125.91" cy="153.79" r="2.4"/><circle cx="238.62" cy="88.33" r="2.4"/><circle cx="122.9" cy="135.39" r="2.4"/><circle cx="166.66" cy="134.96" r="2.4"/><circle cx="187.08" cy="134.26" r="2.4"/><circle cx="164.73" cy="141.46" r="2.4"/><circle cx="131.38" cy="156.29" r="2.4"/><circle cx="141.75" cy="168.69" r="2.4"/><circle cx="249.65" cy="82.26" r="2.4"/><circle cx="118.59" cy="159.03" r="2.4"/><circle cx="100.82" cy="165.28" r="2.4"/><circle cx="241.16" cy="100.82" r="2.4"/><circle cx="235.13" cy="94.42" r="2.4"/><circle cx="198.35" cy="111.24" r="2.4"/><circle cx="167.39" cy="125.01" r="2.4"/><circle cx="257.36" cy="66.45" r="2.4"/><circle cx="159.07" cy="152.59" r="2.4"/><circle cx="99.4" cy="164.38" r="2.4"/><circle cx="162.18" cy="124.37" r="2.4"/><circle cx="175.58" cy="131.12" r="2.4"/><circle cx="178.33" cy="154.26" r="2.4"/><circle cx="235.61" cy="80.9" r="2.4"/><circle cx="110.37" cy="155.33" r="2.4"/><circle cx="227.78" cy="97.44" r="2.4"/><circle cx="174.58" cy="134.05" r="2.4"/><circle cx="205.64" cy="93.94" r="2.4"/><circle cx="159.15" cy="135.34" r="2.4"/><circle cx="142.62" cy="148.32" r="2.4"/><circle cx="148.18" cy="146.56" r="2.4"/><circle cx="139.58" cy="145.21" r="2.4"/><circle cx="164.78" cy="125.59" r="2.4"/><circle cx="185.51" cy="121.61" r="2.4"/><circle cx="223.08" cy="111.99" r="2.4"/><circle cx="125.51" cy="160.4" r="2.4"/><circle cx="164.28" cy="134.09" r="2.4"/><circle cx="175.99" cy="125.09" r="2.4"/><circle cx="220.62" cy="105.37" r="2.4"/><circle cx="202.16" cy="103" r="2.4"/><circle cx="189.21" cy="125.18" r="2.4"/><circle cx="196.74" cy="101.54" r="2.4"/><circle cx="164.01" cy="121.61" r="2.4"/><circle cx="218.43" cy="92.54" r="2.4"/><circle cx="224.35" cy="97.51" r="2.4"/><circle cx="180.92" cy="115.97" r="2.4"/><circle cx="117.44" cy="174.26" r="2.4"/><circle cx="160.91" cy="124.28" r="2.4"/><circle cx="138.2" cy="161.64" r="2.4"/><circle cx="127.95" cy="161.38" r="2.4"/><circle cx="142.7" cy="151.99" r="2.4"/><circle cx="220.84" cy="121.45" r="2.4"/><circle cx="149.88" cy="146.48" r="2.4"/><circle cx="161.39" cy="142.69" r="2.4"/><circle cx="154.8" cy="143.9" r="2.4"/><circle cx="126.94" cy="146.55" r="2.4"/><circle cx="181.66" cy="122.07" r="2.4"/><circle cx="159.57" cy="149.68" r="2.4"/><circle cx="250.46" cy="85.04" r="2.4"/><circle cx="188.52" cy="131.3" r="2.4"/><circle cx="275.06" cy="41.24" r="2.4"/><circle cx="228.8" cy="111.71" r="2.4"/><circle cx="170.07" cy="141.89" r="2.4"/><circle cx="100.48" cy="157.14" r="2.4"/><circle cx="130.92" cy="156.14" r="2.4"/><circle cx="117.77" cy="158.23" r="2.4"/><circle cx="206.51" cy="105.22" r="2.4"/><circle cx="120.35" cy="172.47" r="2.4"/><circle cx="192.43" cy="116.07" r="2.4"/><circle cx="146.33" cy="138.11" r="2.4"/><circle cx="168.61" cy="134.67" r="2.4"/><circle cx="209.66" cy="98.34" r="2.4"/><circle cx="142.93" cy="154.93" r="2.4"/><circle cx="125.13" cy="158.76" r="2.4"/><circle cx="141.48" cy="155.81" r="2.4"/><circle cx="253.37" cy="81.65" r="2.4"/><circle cx="178.98" cy="140.85" r="2.4"/><circle cx="141.35" cy="158.98" r="2.4"/><circle cx="121.47" cy="155.36" r="2.4"/><circle cx="110.45" cy="171.88" r="2.4"/><circle cx="147.94" cy="144.67" r="2.4"/><circle cx="187.87" cy="96.5" r="2.4"/><circle cx="165.24" cy="133.08" r="2.4"/><circle cx="219.49" cy="100.16" r="2.4"/><circle cx="181.5" cy="142.59" r="2.4"/><circle cx="149.48" cy="149.61" r="2.4"/><circle cx="216.27" cy="122.77" r="2.4"/><circle cx="113.46" cy="169.32" r="2.4"/><circle cx="210.14" cy="89.87" r="2.4"/><circle cx="234.01" cy="102.68" r="2.4"/><circle cx="212.97" cy="107.16" r="2.4"/><circle cx="114.86" cy="165.24" r="2.4"/><circle cx="183.07" cy="129.12" r="2.4"/><circle cx="217.63" cy="106.93" r="2.4"/><circle cx="158.85" cy="141.85" r="2.4"/><circle cx="225.69" cy="96.84" r="2.4"/><circle cx="124.33" cy="159.97" r="2.4"/><circle cx="175.51" cy="126.2" r="2.4"/><circle cx="179.76" cy="108.99" r="2.4"/><circle cx="215.11" cy="109.01" r="2.4"/><circle cx="158.91" cy="144.87" r="2.4"/><circle cx="137.29" cy="137.84" r="2.4"/><circle cx="202.46" cy="124.4" r="2.4"/><circle cx="117.05" cy="164.54" r="2.4"/><circle cx="152.7" cy="137.38" r="2.4"/><circle cx="166.83" cy="129.04" r="2.4"/><circle cx="215.03" cy="124.26" r="2.4"/><circle cx="160.7" cy="149.86" r="2.4"/><circle cx="180.33" cy="129.33" r="2.4"/><circle cx="197.33" cy="103.62" r="2.4"/><circle cx="196.92" cy="103.6" r="2.4"/><circle cx="264.19" cy="67.52" r="2.4"/><circle cx="166.14" cy="139.76" r="2.4"/><circle cx="181.72" cy="127.51" r="2.4"/><circle cx="101.33" cy="166.56" r="2.4"/><circle cx="127.96" cy="167.61" r="2.4"/><circle cx="135.96" cy="172.63" r="2.4"/><circle cx="130.68" cy="154.99" r="2.4"/><circle cx="174.13" cy="100.69" r="2.4"/><circle cx="129.01" cy="151.01" r="2.4"/><circle cx="181.47" cy="141.42" r="2.4"/><circle cx="222.09" cy="117.37" r="2.4"/><circle cx="111.12" cy="161.65" r="2.4"/><circle cx="135.13" cy="161.84" r="2.4"/><circle cx="170.92" cy="130.43" r="2.4"/><circle cx="106.83" cy="170.44" r="2.4"/><circle cx="121.13" cy="166.76" r="2.4"/><circle cx="182.19" cy="139.91" r="2.4"/><circle cx="157.15" cy="136.32" r="2.4"/><circle cx="239.73" cy="85.89" r="2.4"/><circle cx="181.53" cy="123.24" r="2.4"/><circle cx="209.73" cy="100.16" r="2.4"/><circle cx="149.61" cy="145.11" r="2.4"/><circle cx="154" cy="134.77" r="2.4"/><circle cx="227.64" cy="109.2" r="2.4"/><circle cx="188.06" cy="115.39" r="2.4"/><circle cx="242.87" cy="93.35" r="2.4"/><circle cx="136.47" cy="154.32" r="2.4"/><circle cx="117.1" cy="163.47" r="2.4"/><circle cx="197.17" cy="109.35" r="2.4"/><circle cx="118.58" cy="156.75" r="2.4"/><circle cx="111.62" cy="157.32" r="2.4"/><circle cx="155.87" cy="149.81" r="2.4"/><circle cx="198.55" cy="114.7" r="2.4"/><circle cx="151.65" cy="159.09" r="2.4"/><circle cx="209.05" cy="100.63" r="2.4"/><circle cx="165.02" cy="123.22" r="2.4"/><circle cx="141.04" cy="156.19" r="2.4"/><circle cx="176.31" cy="118.51" r="2.4"/><circle cx="186.48" cy="137.51" r="2.4"/><circle cx="122.07" cy="138.58" r="2.4"/><circle cx="184.6" cy="120.87" r="2.4"/><circle cx="124.68" cy="151.48" r="2.4"/><circle cx="267.33" cy="75.55" r="2.4"/><circle cx="175.91" cy="103.72" r="2.4"/><circle cx="129.87" cy="153.15" r="2.4"/><circle cx="106.19" cy="167.86" r="2.4"/><circle cx="131.15" cy="144.78" r="2.4"/><circle cx="145.73" cy="153.33" r="2.4"/><circle cx="181.97" cy="126.7" r="2.4"/><circle cx="195.14" cy="119.92" r="2.4"/><circle cx="202.38" cy="121.19" r="2.4"/><circle cx="163.01" cy="120.24" r="2.4"/><circle cx="190.24" cy="102.25" r="2.4"/><circle cx="179.09" cy="133.6" r="2.4"/><circle cx="142.67" cy="133.42" r="2.4"/><circle cx="131.77" cy="144.79" r="2.4"/><circle cx="157.11" cy="143.01" r="2.4"/><circle cx="199.02" cy="104.19" r="2.4"/><circle cx="119.9" cy="142.1" r="2.4"/><circle cx="191.09" cy="124.86" r="2.4"/><circle cx="101.67" cy="171.31" r="2.4"/><circle cx="126.81" cy="162.38" r="2.4"/><circle cx="196.07" cy="92.47" r="2.4"/><circle cx="218.72" cy="90.05" r="2.4"/><circle cx="211.44" cy="114.5" r="2.4"/><circle cx="198.1" cy="114.53" r="2.4"/><circle cx="136.71" cy="146.1" r="2.4"/><circle cx="185.97" cy="102.73" r="2.4"/><circle cx="241.57" cy="88.07" r="2.4"/><circle cx="250.4" cy="54.31" r="2.4"/><circle cx="134.54" cy="148.52" r="2.4"/><circle cx="268.49" cy="56.7" r="2.4"/><circle cx="112.39" cy="164.87" r="2.4"/><circle cx="191.29" cy="112.13" r="2.4"/><circle cx="137.07" cy="141.89" r="2.4"/><circle cx="114.22" cy="171.73" r="2.4"/><circle cx="181.38" cy="119.35" r="2.4"/><circle cx="130.87" cy="140.86" r="2.4"/><circle cx="214.79" cy="90.25" r="2.4"/><circle cx="165.92" cy="133.05" r="2.4"/><circle cx="138.91" cy="148.39" r="2.4"/><circle cx="98.99" cy="172.64" r="2.4"/><circle cx="199.38" cy="119.17" r="2.4"/><circle cx="191.16" cy="120.73" r="2.4"/><circle cx="218.19" cy="113.62" r="2.4"/><circle cx="154.86" cy="139.6" r="2.4"/><circle cx="243" cy="92.33" r="2.4"/><circle cx="102.38" cy="166.51" r="2.4"/><circle cx="244.22" cy="69.88" r="2.4"/><circle cx="211.02" cy="99.49" r="2.4"/><circle cx="115.38" cy="153.46" r="2.4"/><circle cx="113.61" cy="157.72" r="2.4"/><circle cx="208.72" cy="118.85" r="2.4"/><circle cx="135.34" cy="139.21" r="2.4"/><circle cx="199.22" cy="126.19" r="2.4"/><circle cx="224.28" cy="105.53" r="2.4"/><circle cx="117.57" cy="150.42" r="2.4"/><circle cx="146.61" cy="126.46" r="2.4"/><circle cx="237.42" cy="114.93" r="2.4"/><circle cx="168.18" cy="135.23" r="2.4"/><circle cx="122.51" cy="163.35" r="2.4"/><circle cx="113.2" cy="149.99" r="2.4"/><circle cx="118.28" cy="142.04" r="2.4"/><circle cx="115.86" cy="156.33" r="2.4"/><circle cx="151.16" cy="132.69" r="2.4"/><circle cx="213.06" cy="108.11" r="2.4"/><circle cx="164.69" cy="150.15" r="2.4"/><circle cx="114.82" cy="155.56" r="2.4"/><circle cx="150.55" cy="146.65" r="2.4"/><circle cx="169.06" cy="123.63" r="2.4"/><circle cx="164.02" cy="138.82" r="2.4"/><circle cx="191.86" cy="101.57" r="2.4"/><circle cx="197.66" cy="114.54" r="2.4"/><circle cx="208.18" cy="104.43" r="2.4"/><circle cx="176.54" cy="112.35" r="2.4"/><circle cx="103.79" cy="162.26" r="2.4"/><circle cx="211.86" cy="88.12" r="2.4"/><circle cx="214.21" cy="106.04" r="2.4"/><circle cx="205.19" cy="117.3" r="2.4"/><circle cx="162.51" cy="127.61" r="2.4"/><circle cx="235.29" cy="84.42" r="2.4"/><circle cx="114.53" cy="165.51" r="2.4"/><circle cx="206.93" cy="118.02" r="2.4"/><circle cx="185.29" cy="127.79" r="2.4"/><circle cx="200.61" cy="111.01" r="2.4"/><circle cx="110.3" cy="161.81" r="2.4"/><circle cx="267.3" cy="75.54" r="2.4"/><circle cx="103.85" cy="169.68" r="2.4"/><circle cx="125.85" cy="152.26" r="2.4"/><circle cx="173.77" cy="118.71" r="2.4"/><circle cx="181.89" cy="105.49" r="2.4"/><circle cx="126" cy="159.07" r="2.4"/><circle cx="141.39" cy="157.01" r="2.4"/><circle cx="243.08" cy="75.47" r="2.4"/><circle cx="146.16" cy="149.44" r="2.4"/><circle cx="163.59" cy="129.97" r="2.4"/><circle cx="116.67" cy="152.82" r="2.4"/><circle cx="181.31" cy="128.45" r="2.4"/><circle cx="200.73" cy="108.84" r="2.4"/><circle cx="207.04" cy="121.36" r="2.4"/><circle cx="133.69" cy="164.61" r="2.4"/><circle cx="152.9" cy="135.96" r="2.4"/><circle cx="193.8" cy="93.81" r="2.4"/><circle cx="270.86" cy="80.01" r="2.4"/><circle cx="211.89" cy="120.06" r="2.4"/><circle cx="131.81" cy="152.81" r="2.4"/><circle cx="110.03" cy="156.82" r="2.4"/><circle cx="147.12" cy="160.8" r="2.4"/><circle cx="175.6" cy="128.33" r="2.4"/><circle cx="139.23" cy="135.44" r="2.4"/><circle cx="215.41" cy="127.1" r="2.4"/><circle cx="137.05" cy="158.13" r="2.4"/><circle cx="118.41" cy="153.84" r="2.4"/><circle cx="186.18" cy="110.95" r="2.4"/><circle cx="210.24" cy="115.93" r="2.4"/><circle cx="129.8" cy="145.63" r="2.4"/><circle cx="147.91" cy="137.04" r="2.4"/><circle cx="137.51" cy="162.8" r="2.4"/><circle cx="103.55" cy="163.89" r="2.4"/><circle cx="197.99" cy="120.36" r="2.4"/><circle cx="107.63" cy="164.74" r="2.4"/><circle cx="187.57" cy="118.06" r="2.4"/><circle cx="189.79" cy="131.82" r="2.4"/><circle cx="175.72" cy="146.25" r="2.4"/><circle cx="106.18" cy="172.93" r="2.4"/><circle cx="105.24" cy="176.34" r="2.4"/><circle cx="173.54" cy="134.33" r="2.4"/><circle cx="170.04" cy="118.2" r="2.4"/><circle cx="100.21" cy="171.15" r="2.4"/><circle cx="98.6" cy="172.28" r="2.4"/><circle cx="212.5" cy="109.26" r="2.4"/><circle cx="146.6" cy="140.99" r="2.4"/><circle cx="203.21" cy="111.1" r="2.4"/><circle cx="128.91" cy="153.99" r="2.4"/><circle cx="138.33" cy="155.66" r="2.4"/><circle cx="238.22" cy="90.53" r="2.4"/><circle cx="128.78" cy="155.96" r="2.4"/><circle cx="158.38" cy="128.69" r="2.4"/><circle cx="171.19" cy="132.69" r="2.4"/><circle cx="202.42" cy="97.37" r="2.4"/><circle cx="146.08" cy="143.12" r="2.4"/><circle cx="193.05" cy="114.38" r="2.4"/><circle cx="132.23" cy="168.79" r="2.4"/><circle cx="197.78" cy="115.06" r="2.4"/><circle cx="101.8" cy="168.63" r="2.4"/><circle cx="127.25" cy="145.93" r="2.4"/><circle cx="109.32" cy="158.77" r="2.4"/><circle cx="115.33" cy="156.43" r="2.4"/><circle cx="208.25" cy="108.72" r="2.4"/><circle cx="166.27" cy="125.11" r="2.4"/><circle cx="214.23" cy="123.37" r="2.4"/><circle cx="272.49" cy="48.13" r="2.4"/><circle cx="127.15" cy="156.87" r="2.4"/><circle cx="211.74" cy="115.38" r="2.4"/><circle cx="270.05" cy="70.55" r="2.4"/><circle cx="144.48" cy="146.52" r="2.4"/><circle cx="111.8" cy="162.21" r="2.4"/><circle cx="165.94" cy="126.7" r="2.4"/><circle cx="177.5" cy="134.75" r="2.4"/><circle cx="198.78" cy="126.46" r="2.4"/><circle cx="181.58" cy="113.27" r="2.4"/><circle cx="143.41" cy="127.32" r="2.4"/><circle cx="123.82" cy="164.58" r="2.4"/><circle cx="148.78" cy="152.97" r="2.4"/><circle cx="166.95" cy="131.66" r="2.4"/><circle cx="127.08" cy="157.31" r="2.4"/><circle cx="142.98" cy="141.59" r="2.4"/><circle cx="234.59" cy="106.42" r="2.4"/><circle cx="160.53" cy="144.1" r="2.4"/><circle cx="118.6" cy="136.88" r="2.4"/><circle cx="195.44" cy="103.86" r="2.4"/><circle cx="150.89" cy="129.82" r="2.4"/><circle cx="173.55" cy="124.72" r="2.4"/><circle cx="156.2" cy="148.85" r="2.4"/><circle cx="117.12" cy="150.68" r="2.4"/><circle cx="206.42" cy="88.38" r="2.4"/><circle cx="181.29" cy="127.42" r="2.4"/><circle cx="95.7" cy="163.17" r="2.4"/><circle cx="182.52" cy="122.09" r="2.4"/><circle cx="160.84" cy="155.21" r="2.4"/><circle cx="162.12" cy="130.86" r="2.4"/><circle cx="204.1" cy="100.27" r="2.4"/><circle cx="135.07" cy="167.77" r="2.4"/><circle cx="157.21" cy="125.73" r="2.4"/><circle cx="119.73" cy="168.65" r="2.4"/><circle cx="181" cy="138.57" r="2.4"/><circle cx="162.49" cy="146.06" r="2.4"/><circle cx="106.21" cy="164.44" r="2.4"/><circle cx="133.37" cy="151.64" r="2.4"/><circle cx="156.56" cy="157.18" r="2.4"/><circle cx="175.96" cy="125.97" r="2.4"/><circle cx="114.05" cy="158.6" r="2.4"/><circle cx="188.65" cy="126.88" r="2.4"/><circle cx="220.52" cy="125.04" r="2.4"/><circle cx="147.78" cy="156.26" r="2.4"/><circle cx="110.22" cy="166.18" r="2.4"/><circle cx="121.6" cy="152.28" r="2.4"/><circle cx="210.72" cy="109.47" r="2.4"/><circle cx="176.01" cy="124.77" r="2.4"/><circle cx="120.12" cy="138.23" r="2.4"/><circle cx="124.59" cy="156.8" r="2.4"/><circle cx="223.51" cy="102.61" r="2.4"/><circle cx="197.5" cy="105.27" r="2.4"/><circle cx="199.92" cy="97.91" r="2.4"/><circle cx="120.73" cy="149.23" r="2.4"/><circle cx="136.69" cy="168.09" r="2.4"/><circle cx="150.75" cy="162.97" r="2.4"/><circle cx="133.88" cy="162.01" r="2.4"/><circle cx="252.94" cy="83.56" r="2.4"/><circle cx="190.44" cy="128.4" r="2.4"/><circle cx="179.05" cy="143.76" r="2.4"/><circle cx="159.22" cy="145.12" r="2.4"/><circle cx="203.25" cy="115.11" r="2.4"/><circle cx="166.91" cy="142.38" r="2.4"/><circle cx="165.93" cy="106.08" r="2.4"/><circle cx="122.34" cy="152.15" r="2.4"/><circle cx="221.65" cy="114.69" r="2.4"/><circle cx="110.13" cy="154.09" r="2.4"/><circle cx="240.8" cy="91.81" r="2.4"/><circle cx="243.48" cy="97.84" r="2.4"/><circle cx="174.74" cy="134.33" r="2.4"/><circle cx="123.95" cy="135.72" r="2.4"/><circle cx="131.62" cy="156.59" r="2.4"/><circle cx="120.63" cy="164.76" r="2.4"/><circle cx="200.72" cy="118.63" r="2.4"/><circle cx="151.98" cy="134.38" r="2.4"/><circle cx="148.97" cy="148.56" r="2.4"/><circle cx="147.34" cy="154.93" r="2.4"/><circle cx="197.09" cy="123.41" r="2.4"/><circle cx="233.19" cy="111.95" r="2.4"/><circle cx="175.21" cy="127.54" r="2.4"/><circle cx="118.17" cy="153.8" r="2.4"/><circle cx="124.99" cy="152.13" r="2.4"/><circle cx="202.92" cy="111.64" r="2.4"/><circle cx="211.2" cy="92.79" r="2.4"/><circle cx="181.93" cy="118.53" r="2.4"/><circle cx="214.02" cy="119.56" r="2.4"/><circle cx="196.81" cy="119.36" r="2.4"/><circle cx="178.54" cy="138.63" r="2.4"/><circle cx="218.75" cy="92.87" r="2.4"/><circle cx="129.64" cy="156.28" r="2.4"/><circle cx="122.52" cy="159.29" r="2.4"/><circle cx="144.53" cy="150.63" r="2.4"/><circle cx="155.11" cy="128.6" r="2.4"/><circle cx="256.11" cy="81.73" r="2.4"/><circle cx="221.91" cy="109.82" r="2.4"/><circle cx="207.61" cy="106.62" r="2.4"/><circle cx="236.47" cy="92.77" r="2.4"/><circle cx="154.89" cy="129.26" r="2.4"/><circle cx="240.85" cy="86.04" r="2.4"/><circle cx="127.02" cy="155.97" r="2.4"/><circle cx="154.09" cy="141.59" r="2.4"/><circle cx="144.28" cy="135.32" r="2.4"/><circle cx="128.12" cy="151.01" r="2.4"/><circle cx="250.71" cy="71.9" r="2.4"/><circle cx="155.9" cy="165.34" r="2.4"/><circle cx="231.05" cy="118.98" r="2.4"/><circle cx="185.32" cy="122.25" r="2.4"/><circle cx="109.12" cy="157.49" r="2.4"/><circle cx="161.94" cy="132.64" r="2.4"/><circle cx="213.66" cy="102.87" r="2.4"/><circle cx="145.82" cy="172.57" r="2.4"/><circle cx="142.14" cy="147.76" r="2.4"/><circle cx="114.14" cy="167.43" r="2.4"/><circle cx="167.69" cy="154.74" r="2.4"/><circle cx="252.84" cy="90.79" r="2.4"/><circle cx="101.14" cy="169.88" r="2.4"/><circle cx="235.26" cy="91.69" r="2.4"/><circle cx="185.78" cy="116.46" r="2.4"/><circle cx="140.4" cy="148.28" r="2.4"/><circle cx="238.26" cy="91.07" r="2.4"/><circle cx="247.11" cy="89.58" r="2.4"/><circle cx="271.01" cy="59.66" r="2.4"/><circle cx="166.07" cy="146.48" r="2.4"/><circle cx="159.25" cy="133.85" r="2.4"/><circle cx="195.3" cy="116.28" r="2.4"/><circle cx="235.77" cy="73.25" r="2.4"/><circle cx="150.19" cy="140.04" r="2.4"/><circle cx="147.65" cy="150.45" r="2.4"/><circle cx="158.44" cy="138.97" r="2.4"/><circle cx="101.75" cy="165.66" r="2.4"/><circle cx="224.89" cy="98.52" r="2.4"/><circle cx="165.35" cy="160.18" r="2.4"/><circle cx="166.65" cy="142.77" r="2.4"/><circle cx="190.62" cy="99.8" r="2.4"/><circle cx="218.88" cy="100.45" r="2.4"/><circle cx="201.42" cy="97.48" r="2.4"/><circle cx="147.88" cy="150.59" r="2.4"/><circle cx="142.42" cy="162.93" r="2.4"/><circle cx="147.82" cy="147.69" r="2.4"/><circle cx="176" cy="133.86" r="2.4"/><circle cx="219.22" cy="108.46" r="2.4"/><circle cx="97.43" cy="159.54" r="2.4"/><circle cx="186.59" cy="106.6" r="2.4"/><circle cx="225.65" cy="111.67" r="2.4"/><circle cx="180.23" cy="92.94" r="2.4"/><circle cx="154.56" cy="130.66" r="2.4"/><circle cx="167.69" cy="146.73" r="2.4"/><circle cx="173.48" cy="122.72" r="2.4"/><circle cx="189.78" cy="116.24" r="2.4"/><circle cx="111.49" cy="160.47" r="2.4"/><circle cx="215.86" cy="120.25" r="2.4"/><circle cx="178.81" cy="122.7" r="2.4"/><circle cx="139.94" cy="157.82" r="2.4"/><circle cx="243.2" cy="65.12" r="2.4"/><circle cx="157.01" cy="150.74" r="2.4"/><circle cx="212.76" cy="122.87" r="2.4"/><circle cx="142.82" cy="142.81" r="2.4"/><circle cx="178.31" cy="136.69" r="2.4"/><circle cx="127.68" cy="142.38" r="2.4"/><circle cx="139.45" cy="165.51" r="2.4"/><circle cx="147.27" cy="136.1" r="2.4"/><circle cx="121.18" cy="165.1" r="2.4"/><circle cx="210.3" cy="110.7" r="2.4"/><circle cx="164.36" cy="134.78" r="2.4"/><circle cx="149.78" cy="152.7" r="2.4"/><circle cx="183.65" cy="119.03" r="2.4"/><circle cx="133.31" cy="158.96" r="2.4"/><circle cx="162.55" cy="122.6" r="2.4"/><circle cx="181.13" cy="115.23" r="2.4"/><circle cx="188.16" cy="147.72" r="2.4"/><circle cx="160.38" cy="122.73" r="2.4"/><circle cx="207.4" cy="103.56" r="2.4"/><circle cx="230.55" cy="106.81" r="2.4"/><circle cx="264.09" cy="62.41" r="2.4"/><circle cx="180.05" cy="122.8" r="2.4"/><circle cx="265.31" cy="52.39" r="2.4"/><circle cx="251.16" cy="63.07" r="2.4"/><circle cx="193.92" cy="98.22" r="2.4"/><circle cx="119.9" cy="168.1" r="2.4"/><circle cx="191.84" cy="113.68" r="2.4"/><circle cx="175.86" cy="137.94" r="2.4"/><circle cx="200.98" cy="127.81" r="2.4"/><circle cx="139.06" cy="154.83" r="2.4"/><circle cx="149.68" cy="143.05" r="2.4"/><circle cx="139.84" cy="147.86" r="2.4"/><circle cx="168.2" cy="136.84" r="2.4"/><circle cx="197.79" cy="111.71" r="2.4"/><circle cx="137.5" cy="144.68" r="2.4"/><circle cx="158.14" cy="153.37" r="2.4"/><circle cx="194.88" cy="118.49" r="2.4"/><circle cx="208.99" cy="110.52" r="2.4"/><circle cx="243.59" cy="95.51" r="2.4"/><circle cx="178.84" cy="136.35" r="2.4"/><circle cx="263.72" cy="63.76" r="2.4"/><circle cx="140.63" cy="145.73" r="2.4"/><circle cx="187.15" cy="102.32" r="2.4"/><circle cx="209.79" cy="105.62" r="2.4"/><circle cx="112.68" cy="159.19" r="2.4"/><circle cx="214.89" cy="117.59" r="2.4"/><circle cx="220.8" cy="99.53" r="2.4"/><circle cx="180.4" cy="113.3" r="2.4"/><circle cx="245.8" cy="44.68" r="2.4"/><circle cx="200.51" cy="106.33" r="2.4"/><circle cx="152.58" cy="120" r="2.4"/><circle cx="218.46" cy="82.18" r="2.4"/><circle cx="174.1" cy="109.19" r="2.4"/><circle cx="198.05" cy="106.11" r="2.4"/><circle cx="200.03" cy="110.73" r="2.4"/><circle cx="213.2" cy="78.82" r="2.4"/><circle cx="220.23" cy="106.67" r="2.4"/><circle cx="129.16" cy="153.19" r="2.4"/><circle cx="105.29" cy="169.24" r="2.4"/><circle cx="111.6" cy="166.99" r="2.4"/><circle cx="166.36" cy="148.1" r="2.4"/><circle cx="265.64" cy="49.61" r="2.4"/><circle cx="163.71" cy="146.39" r="2.4"/><circle cx="245.83" cy="82.58" r="2.4"/><circle cx="142.2" cy="142.12" r="2.4"/><circle cx="120.96" cy="160.94" r="2.4"/><circle cx="158.13" cy="149.11" r="2.4"/><circle cx="225.73" cy="107.75" r="2.4"/><circle cx="266.79" cy="77.81" r="2.4"/><circle cx="176.9" cy="127.51" r="2.4"/><circle cx="154.43" cy="150.94" r="2.4"/><circle cx="214.98" cy="89.52" r="2.4"/><circle cx="160.77" cy="142.71" r="2.4"/><circle cx="143.45" cy="140.96" r="2.4"/><circle cx="209.57" cy="115.35" r="2.4"/><circle cx="112.65" cy="172.78" r="2.4"/><circle cx="213.09" cy="107.67" r="2.4"/><circle cx="258.53" cy="60.31" r="2.4"/><circle cx="115.45" cy="154.53" r="2.4"/><circle cx="213.99" cy="93.84" r="2.4"/><circle cx="102.36" cy="168.2" r="2.4"/><circle cx="118.55" cy="161.77" r="2.4"/><circle cx="142.14" cy="150.05" r="2.4"/><circle cx="108" cy="159.92" r="2.4"/><circle cx="165.17" cy="129.53" r="2.4"/><circle cx="163.2" cy="130.69" r="2.4"/><circle cx="125.87" cy="163.44" r="2.4"/><circle cx="274.97" cy="31.15" r="2.4"/><circle cx="134.23" cy="167.09" r="2.4"/><circle cx="239.11" cy="94.13" r="2.4"/><circle cx="177.57" cy="131.95" r="2.4"/><circle cx="202.6" cy="108.85" r="2.4"/><circle cx="207.47" cy="114.04" r="2.4"/><circle cx="196.79" cy="100.9" r="2.4"/><circle cx="218.91" cy="111.96" r="2.4"/><circle cx="233.9" cy="84.29" r="2.4"/><circle cx="120.89" cy="166.47" r="2.4"/><circle cx="113.52" cy="162.06" r="2.4"/><circle cx="164.78" cy="131.47" r="2.4"/><circle cx="116.12" cy="153.4" r="2.4"/><circle cx="184.5" cy="134.93" r="2.4"/><circle cx="252.51" cy="106.87" r="2.4"/><circle cx="173.52" cy="116.83" r="2.4"/><circle cx="124.62" cy="163.82" r="2.4"/><circle cx="117.4" cy="163.88" r="2.4"/><circle cx="175.97" cy="132.5" r="2.4"/><circle cx="207.43" cy="92.29" r="2.4"/><circle cx="218.39" cy="89.85" r="2.4"/><circle cx="209.52" cy="92.36" r="2.4"/><circle cx="166.36" cy="120.44" r="2.4"/><circle cx="232.5" cy="87.29" r="2.4"/><circle cx="177.26" cy="130.55" r="2.4"/><circle cx="198.04" cy="99.51" r="2.4"/><circle cx="93.93" cy="161.9" r="2.4"/><circle cx="170.04" cy="129.36" r="2.4"/><circle cx="113.18" cy="182.36" r="2.4"/><circle cx="130.87" cy="162.9" r="2.4"/><circle cx="143.33" cy="116.06" r="2.4"/><circle cx="181.97" cy="131.52" r="2.4"/><circle cx="111.71" cy="151.08" r="2.4"/><circle cx="202.47" cy="81.22" r="2.4"/><circle cx="156.47" cy="139.07" r="2.4"/><circle cx="131.62" cy="152.58" r="2.4"/><circle cx="259.41" cy="52.75" r="2.4"/><circle cx="194.75" cy="97.56" r="2.4"/><circle cx="148.21" cy="167.32" r="2.4"/><circle cx="118.26" cy="165.38" r="2.4"/><circle cx="169.94" cy="117.58" r="2.4"/><circle cx="212.2" cy="104.72" r="2.4"/><circle cx="173.12" cy="146.93" r="2.4"/><circle cx="144.53" cy="143.4" r="2.4"/><circle cx="116.86" cy="168.67" r="2.4"/><circle cx="132.45" cy="146.1" r="2.4"/><circle cx="215.47" cy="92" r="2.4"/><circle cx="123.42" cy="162.98" r="2.4"/><circle cx="277.88" cy="67.49" r="2.4"/><circle cx="205.18" cy="103.21" r="2.4"/><circle cx="157.67" cy="144.28" r="2.4"/><circle cx="127.55" cy="157.11" r="2.4"/><circle cx="166.47" cy="144.43" r="2.4"/><circle cx="257.65" cy="82.38" r="2.4"/><circle cx="117.71" cy="170.95" r="2.4"/><circle cx="135.24" cy="142.61" r="2.4"/><circle cx="111.75" cy="154.2" r="2.4"/><circle cx="204.3" cy="119.87" r="2.4"/><circle cx="256.82" cy="91.44" r="2.4"/><circle cx="179.55" cy="117.36" r="2.4"/><circle cx="142.83" cy="139.21" r="2.4"/><circle cx="264.38" cy="56.92" r="2.4"/><circle cx="183.94" cy="111" r="2.4"/><circle cx="262.04" cy="52.69" r="2.4"/><circle cx="153.44" cy="142.17" r="2.4"/><circle cx="121.46" cy="159.11" r="2.4"/><circle cx="110.71" cy="165.84" r="2.4"/><circle cx="138.53" cy="148.37" r="2.4"/><circle cx="161.9" cy="155.7" r="2.4"/><circle cx="210.8" cy="91.57" r="2.4"/><circle cx="166.95" cy="144.51" r="2.4"/><circle cx="138.84" cy="146.08" r="2.4"/><circle cx="238.84" cy="83.85" r="2.4"/><circle cx="182.47" cy="126.71" r="2.4"/><circle cx="186.22" cy="120.19" r="2.4"/><circle cx="220.98" cy="108.56" r="2.4"/><circle cx="196.22" cy="123.21" r="2.4"/><circle cx="134.95" cy="144.21" r="2.4"/><circle cx="257.81" cy="62.01" r="2.4"/><circle cx="123.67" cy="169.78" r="2.4"/><circle cx="123.52" cy="153.4" r="2.4"/><circle cx="192.99" cy="145.34" r="2.4"/><circle cx="183.3" cy="121.49" r="2.4"/><circle cx="133.21" cy="149.91" r="2.4"/><circle cx="200.95" cy="136.67" r="2.4"/><circle cx="114.96" cy="148.82" r="2.4"/><circle cx="167.84" cy="148.83" r="2.4"/><circle cx="254.92" cy="56.92" r="2.4"/><circle cx="237.61" cy="109.6" r="2.4"/><circle cx="186.38" cy="113.41" r="2.4"/><circle cx="216" cy="125.78" r="2.4"/><circle cx="195.09" cy="119.91" r="2.4"/><circle cx="133.77" cy="162.11" r="2.4"/><circle cx="228.71" cy="94.16" r="2.4"/><circle cx="187.44" cy="130.11" r="2.4"/><circle cx="185.21" cy="126.7" r="2.4"/><circle cx="258.03" cy="68.95" r="2.4"/><circle cx="179.89" cy="144.14" r="2.4"/><circle cx="146.79" cy="118.52" r="2.4"/><circle cx="160.36" cy="137.46" r="2.4"/><circle cx="179.39" cy="134.94" r="2.4"/><circle cx="231.73" cy="89.09" r="2.4"/><circle cx="225.35" cy="119.05" r="2.4"/><circle cx="156.88" cy="124.24" r="2.4"/><circle cx="169.74" cy="114.46" r="2.4"/><circle cx="107.49" cy="175.44" r="2.4"/><circle cx="191.53" cy="132.36" r="2.4"/><circle cx="217.71" cy="108.31" r="2.4"/><circle cx="128.78" cy="147.98" r="2.4"/><circle cx="191.04" cy="108.9" r="2.4"/><circle cx="120.69" cy="148.78" r="2.4"/><circle cx="224.67" cy="86.85" r="2.4"/><circle cx="205.36" cy="121.62" r="2.4"/><circle cx="249.64" cy="81.33" r="2.4"/><circle cx="140.91" cy="150.71" r="2.4"/><circle cx="124.93" cy="151.05" r="2.4"/><circle cx="181.57" cy="125.27" r="2.4"/><circle cx="108.82" cy="178.14" r="2.4"/><circle cx="221.14" cy="105.81" r="2.4"/><circle cx="129.72" cy="131.8" r="2.4"/><circle cx="119.73" cy="159.57" r="2.4"/><circle cx="121.8" cy="142.92" r="2.4"/><circle cx="201.12" cy="113.42" r="2.4"/><circle cx="107.39" cy="164.6" r="2.4"/><circle cx="160.26" cy="139.36" r="2.4"/><circle cx="126.51" cy="159.57" r="2.4"/><circle cx="213.76" cy="94.67" r="2.4"/><circle cx="108.19" cy="168.03" r="2.4"/><circle cx="128.59" cy="170.18" r="2.4"/><circle cx="212.23" cy="90.68" r="2.4"/><circle cx="173.65" cy="126.66" r="2.4"/><circle cx="117.18" cy="163.94" r="2.4"/><circle cx="153.15" cy="136.21" r="2.4"/><circle cx="159.96" cy="137.02" r="2.4"/><circle cx="207.16" cy="120.57" r="2.4"/><circle cx="170.29" cy="119.5" r="2.4"/><circle cx="222.84" cy="51.46" r="2.4"/><circle cx="176.53" cy="128.92" r="2.4"/><circle cx="135.53" cy="158.45" r="2.4"/><circle cx="176.52" cy="115.98" r="2.4"/><circle cx="224.62" cy="84.26" r="2.4"/><circle cx="140.4" cy="156.78" r="2.4"/><circle cx="191.04" cy="134.64" r="2.4"/><circle cx="182.86" cy="139.21" r="2.4"/><circle cx="199.52" cy="118.49" r="2.4"/><circle cx="151.6" cy="155.32" r="2.4"/><circle cx="132.85" cy="159.2" r="2.4"/><circle cx="195.28" cy="119.64" r="2.4"/><circle cx="226.46" cy="116.91" r="2.4"/><circle cx="167.32" cy="132.5" r="2.4"/><circle cx="120.21" cy="148.25" r="2.4"/><circle cx="217.95" cy="124.36" r="2.4"/><circle cx="175.43" cy="132.28" r="2.4"/><circle cx="197.92" cy="120.23" r="2.4"/><circle cx="115.24" cy="166.37" r="2.4"/><circle cx="214.5" cy="105.95" r="2.4"/><circle cx="153.35" cy="152.93" r="2.4"/><circle cx="236.05" cy="84.23" r="2.4"/><circle cx="135.81" cy="154.48" r="2.4"/><circle cx="96.5" cy="174.73" r="2.4"/><circle cx="145.87" cy="144.8" r="2.4"/><circle cx="204.31" cy="109.57" r="2.4"/><circle cx="203.67" cy="87.09" r="2.4"/><circle cx="226.46" cy="95.79" r="2.4"/><circle cx="130.59" cy="157.44" r="2.4"/><circle cx="184.94" cy="106.41" r="2.4"/><circle cx="111.16" cy="159.56" r="2.4"/><circle cx="132.55" cy="150.77" r="2.4"/><circle cx="106.75" cy="153.79" r="2.4"/><circle cx="190.04" cy="124.54" r="2.4"/><circle cx="237.48" cy="94.24" r="2.4"/><circle cx="185.99" cy="131.79" r="2.4"/><circle cx="186.23" cy="104.96" r="2.4"/><circle cx="239.74" cy="108.75" r="2.4"/><circle cx="147.33" cy="167.94" r="2.4"/><circle cx="179.55" cy="137.22" r="2.4"/><circle cx="218.99" cy="81.68" r="2.4"/><circle cx="128.3" cy="145.78" r="2.4"/><circle cx="201.08" cy="127.38" r="2.4"/><circle cx="111.79" cy="167.99" r="2.4"/><circle cx="152.95" cy="123.8" r="2.4"/><circle cx="126.98" cy="165.13" r="2.4"/><circle cx="161.79" cy="140.05" r="2.4"/><circle cx="129.72" cy="161.61" r="2.4"/><circle cx="109.37" cy="146.07" r="2.4"/><circle cx="163.49" cy="147.16" r="2.4"/><circle cx="155.87" cy="166.37" r="2.4"/><circle cx="205.93" cy="107.37" r="2.4"/><circle cx="99.76" cy="165.09" r="2.4"/><circle cx="191.04" cy="127.5" r="2.4"/><circle cx="106.51" cy="170.01" r="2.4"/><circle cx="169.34" cy="154.19" r="2.4"/><circle cx="101.54" cy="172.56" r="2.4"/><circle cx="241.8" cy="53.29" r="2.4"/><circle cx="169.63" cy="163.08" r="2.4"/><circle cx="168.13" cy="122.81" r="2.4"/><circle cx="110.87" cy="147.42" r="2.4"/><circle cx="214.84" cy="79.92" r="2.4"/><circle cx="138.42" cy="146.94" r="2.4"/><circle cx="167.15" cy="122.22" r="2.4"/><circle cx="204.01" cy="95.97" r="2.4"/><circle cx="215.68" cy="118.89" r="2.4"/><circle cx="155.27" cy="133.47" r="2.4"/><circle cx="109.27" cy="169.57" r="2.4"/><circle cx="136.86" cy="137.02" r="2.4"/><circle cx="106.1" cy="167.75" r="2.4"/><circle cx="188.73" cy="117.36" r="2.4"/><circle cx="232.06" cy="112.31" r="2.4"/><circle cx="113.34" cy="155.12" r="2.4"/><circle cx="106.76" cy="159.98" r="2.4"/><circle cx="197.15" cy="118.17" r="2.4"/><circle cx="181.84" cy="140.8" r="2.4"/><circle cx="137.4" cy="157.97" r="2.4"/><circle cx="138.24" cy="149.55" r="2.4"/><circle cx="211.46" cy="120.82" r="2.4"/><circle cx="101.74" cy="170.93" r="2.4"/><circle cx="134.81" cy="145.7" r="2.4"/><circle cx="151.95" cy="140.28" r="2.4"/><circle cx="212.66" cy="96.38" r="2.4"/><circle cx="145.16" cy="140.77" r="2.4"/><circle cx="108.23" cy="172.23" r="2.4"/><circle cx="207.45" cy="107.31" r="2.4"/><circle cx="198.8" cy="132.06" r="2.4"/><circle cx="118.9" cy="167.71" r="2.4"/><circle cx="204.97" cy="107.58" r="2.4"/><circle cx="189.22" cy="123.39" r="2.4"/><circle cx="152.7" cy="141.06" r="2.4"/><circle cx="182.66" cy="135.04" r="2.4"/><circle cx="171.78" cy="124.35" r="2.4"/><circle cx="216.06" cy="106.82" r="2.4"/><circle cx="257.13" cy="70.73" r="2.4"/><circle cx="148.91" cy="129.61" r="2.4"/><circle cx="113.68" cy="150.55" r="2.4"/><circle cx="152.24" cy="153.91" r="2.4"/><circle cx="185.74" cy="154.47" r="2.4"/><circle cx="137.03" cy="165.79" r="2.4"/><circle cx="122.74" cy="146.95" r="2.4"/><circle cx="130.79" cy="140.09" r="2.4"/><circle cx="226.62" cy="87.6" r="2.4"/><circle cx="202.75" cy="92.69" r="2.4"/><circle cx="118.64" cy="161.71" r="2.4"/><circle cx="143.09" cy="155.18" r="2.4"/><circle cx="139.07" cy="139.29" r="2.4"/><circle cx="116.8" cy="156.84" r="2.4"/><circle cx="224.67" cy="63.97" r="2.4"/><circle cx="141.63" cy="142.04" r="2.4"/><circle cx="180.72" cy="124.92" r="2.4"/><circle cx="154.74" cy="158.92" r="2.4"/><circle cx="110.74" cy="154.33" r="2.4"/><circle cx="105.06" cy="162.96" r="2.4"/><circle cx="199.78" cy="122.32" r="2.4"/><circle cx="189.91" cy="125.35" r="2.4"/><circle cx="170.28" cy="77.92" r="2.4"/><circle cx="125.92" cy="158.59" r="2.4"/><circle cx="148.85" cy="156.16" r="2.4"/><circle cx="172.38" cy="127.19" r="2.4"/><circle cx="131.33" cy="147.08" r="2.4"/><circle cx="182.41" cy="107.99" r="2.4"/><circle cx="224.79" cy="91.02" r="2.4"/><circle cx="125.97" cy="152.53" r="2.4"/><circle cx="248.38" cy="83.92" r="2.4"/><circle cx="172.5" cy="149.95" r="2.4"/><circle cx="274.76" cy="57.53" r="2.4"/><circle cx="267.04" cy="77.79" r="2.4"/><circle cx="109.77" cy="149.75" r="2.4"/><circle cx="197.84" cy="117.87" r="2.4"/><circle cx="135.19" cy="148.02" r="2.4"/><circle cx="188.88" cy="110.05" r="2.4"/><circle cx="235.97" cy="105.44" r="2.4"/><circle cx="165.43" cy="147.13" r="2.4"/><circle cx="193.58" cy="104.04" r="2.4"/><circle cx="195.78" cy="103.22" r="2.4"/><circle cx="127.38" cy="169.15" r="2.4"/><circle cx="160.84" cy="136.85" r="2.4"/><circle cx="141.91" cy="137.24" r="2.4"/><circle cx="168.94" cy="141.9" r="2.4"/><circle cx="210.65" cy="104.97" r="2.4"/><circle cx="121.37" cy="155.31" r="2.4"/><circle cx="179.02" cy="131.36" r="2.4"/><circle cx="171.98" cy="132.8" r="2.4"/><circle cx="155.11" cy="167.67" r="2.4"/><circle cx="225.21" cy="111.83" r="2.4"/><circle cx="150.23" cy="148.2" r="2.4"/><circle cx="217.21" cy="100.63" r="2.4"/><circle cx="110.83" cy="150.78" r="2.4"/><circle cx="162.76" cy="115.61" r="2.4"/><circle cx="116.3" cy="147.51" r="2.4"/><circle cx="226.24" cy="97.32" r="2.4"/><circle cx="195.29" cy="126.16" r="2.4"/><circle cx="130.85" cy="153.95" r="2.4"/><circle cx="153.34" cy="133.68" r="2.4"/><circle cx="118.87" cy="159.33" r="2.4"/><circle cx="234.83" cy="88.62" r="2.4"/><circle cx="236.78" cy="75.4" r="2.4"/><circle cx="236.69" cy="104.25" r="2.4"/><circle cx="186.64" cy="127.19" r="2.4"/><circle cx="138.16" cy="135.7" r="2.4"/><circle cx="165.11" cy="130.42" r="2.4"/><circle cx="195.33" cy="106.07" r="2.4"/><circle cx="160.79" cy="136.83" r="2.4"/><circle cx="108.82" cy="172.77" r="2.4"/><circle cx="174.98" cy="106.09" r="2.4"/><circle cx="113.3" cy="168.15" r="2.4"/><circle cx="134.04" cy="142.7" r="2.4"/><circle cx="220.4" cy="93.23" r="2.4"/><circle cx="187.84" cy="110.39" r="2.4"/><circle cx="216.69" cy="116.07" r="2.4"/><circle cx="197.45" cy="109.5" r="2.4"/><circle cx="194.28" cy="138.32" r="2.4"/><circle cx="135.75" cy="150.9" r="2.4"/><circle cx="201.85" cy="116.85" r="2.4"/><circle cx="118.74" cy="146.91" r="2.4"/><circle cx="101" cy="166.43" r="2.4"/><circle cx="148.66" cy="149.41" r="2.4"/><circle cx="123.01" cy="157.07" r="2.4"/><circle cx="199.83" cy="133.78" r="2.4"/><circle cx="141.15" cy="150.73" r="2.4"/><circle cx="104.72" cy="164.16" r="2.4"/><circle cx="212.88" cy="118.79" r="2.4"/><circle cx="249.82" cy="83.29" r="2.4"/><circle cx="202.28" cy="108.38" r="2.4"/><circle cx="259.17" cy="63.49" r="2.4"/><circle cx="214.2" cy="96.81" r="2.4"/><circle cx="247.78" cy="69.02" r="2.4"/><circle cx="196.54" cy="95.62" r="2.4"/><circle cx="214.5" cy="107" r="2.4"/><circle cx="216.39" cy="97.24" r="2.4"/><circle cx="117.39" cy="161.15" r="2.4"/><circle cx="145.96" cy="150.72" r="2.4"/><circle cx="188.27" cy="123.89" r="2.4"/><circle cx="146.18" cy="154.97" r="2.4"/><circle cx="231.92" cy="93.19" r="2.4"/><circle cx="108.22" cy="157.84" r="2.4"/><circle cx="118.98" cy="162.6" r="2.4"/><circle cx="147.07" cy="150.47" r="2.4"/><circle cx="149.18" cy="152.34" r="2.4"/><circle cx="223.42" cy="114.36" r="2.4"/><circle cx="100.05" cy="174.01" r="2.4"/><circle cx="222.35" cy="95.13" r="2.4"/><circle cx="270.49" cy="81.01" r="2.4"/><circle cx="107.42" cy="146.8" r="2.4"/><circle cx="257.33" cy="57.24" r="2.4"/><circle cx="194.67" cy="117.16" r="2.4"/><circle cx="119.54" cy="167.28" r="2.4"/><circle cx="223.15" cy="91.23" r="2.4"/><circle cx="117.74" cy="162.49" r="2.4"/><circle cx="154.98" cy="113.05" r="2.4"/><circle cx="134.53" cy="152.33" r="2.4"/><circle cx="155.02" cy="136.9" r="2.4"/><circle cx="121.47" cy="165.61" r="2.4"/><circle cx="154.25" cy="132.86" r="2.4"/><circle cx="181.3" cy="119.73" r="2.4"/><circle cx="166.29" cy="128.81" r="2.4"/><circle cx="174.48" cy="114.14" r="2.4"/><circle cx="236.92" cy="100.1" r="2.4"/><circle cx="227.25" cy="117.09" r="2.4"/><circle cx="116.85" cy="174.27" r="2.4"/><circle cx="206.08" cy="113.88" r="2.4"/><circle cx="216.53" cy="107.43" r="2.4"/><circle cx="241.32" cy="91.42" r="2.4"/><circle cx="156.21" cy="134.87" r="2.4"/><circle cx="245.63" cy="63.18" r="2.4"/><circle cx="179.55" cy="132.84" r="2.4"/><circle cx="166.92" cy="120.18" r="2.4"/><circle cx="172.57" cy="138.35" r="2.4"/><circle cx="158.95" cy="147.19" r="2.4"/><circle cx="199.08" cy="106.63" r="2.4"/><circle cx="175.94" cy="122.32" r="2.4"/><circle cx="233.16" cy="85.44" r="2.4"/><circle cx="166.99" cy="150.95" r="2.4"/><circle cx="107.9" cy="153.12" r="2.4"/><circle cx="123.02" cy="154.31" r="2.4"/><circle cx="159.01" cy="146.81" r="2.4"/><circle cx="167.34" cy="136.2" r="2.4"/><circle cx="219.73" cy="99.26" r="2.4"/><circle cx="184.45" cy="124.52" r="2.4"/><circle cx="124.81" cy="162.64" r="2.4"/><circle cx="143.49" cy="132.92" r="2.4"/><circle cx="176.58" cy="129.94" r="2.4"/><circle cx="216.04" cy="98.76" r="2.4"/><circle cx="201.95" cy="110.28" r="2.4"/><circle cx="191.73" cy="113.59" r="2.4"/><circle cx="136.91" cy="172.05" r="2.4"/><circle cx="181.53" cy="105.98" r="2.4"/><circle cx="135.48" cy="136.11" r="2.4"/><circle cx="109.99" cy="162.45" r="2.4"/><circle cx="209.98" cy="95" r="2.4"/><circle cx="193.17" cy="117.12" r="2.4"/><circle cx="208.08" cy="54.89" r="2.4"/><circle cx="136.5" cy="165.78" r="2.4"/><circle cx="103.39" cy="170.37" r="2.4"/><circle cx="161.48" cy="148.35" r="2.4"/><circle cx="148.78" cy="157.42" r="2.4"/><circle cx="173.63" cy="149.77" r="2.4"/><circle cx="153.64" cy="142.06" r="2.4"/><circle cx="107.15" cy="156.97" r="2.4"/><circle cx="110.49" cy="159.21" r="2.4"/><circle cx="151.4" cy="150.93" r="2.4"/><circle cx="184.24" cy="95.84" r="2.4"/><circle cx="125.66" cy="159.52" r="2.4"/><circle cx="126.22" cy="151.71" r="2.4"/><circle cx="133.6" cy="156.63" r="2.4"/><circle cx="207.18" cy="122.99" r="2.4"/><circle cx="210.93" cy="99.09" r="2.4"/><circle cx="169.57" cy="149.41" r="2.4"/><circle cx="108.25" cy="169.92" r="2.4"/><circle cx="251.99" cy="116.53" r="2.4"/><circle cx="230.99" cy="94.61" r="2.4"/><circle cx="143.36" cy="143.17" r="2.4"/><circle cx="97.78" cy="165.18" r="2.4"/><circle cx="170.23" cy="136.18" r="2.4"/><circle cx="124.63" cy="158.64" r="2.4"/><circle cx="154.41" cy="136.61" r="2.4"/><circle cx="157.22" cy="147.15" r="2.4"/><circle cx="144.78" cy="146.22" r="2.4"/><circle cx="242.53" cy="79.98" r="2.4"/><circle cx="155.75" cy="141.61" r="2.4"/><circle cx="116.75" cy="157.59" r="2.4"/><circle cx="182.18" cy="118.08" r="2.4"/><circle cx="235.64" cy="98.66" r="2.4"/><circle cx="133.52" cy="134.18" r="2.4"/><circle cx="172.47" cy="138.1" r="2.4"/><circle cx="154.1" cy="142.9" r="2.4"/><circle cx="196.92" cy="110.55" r="2.4"/><circle cx="144.9" cy="145.8" r="2.4"/><circle cx="136.86" cy="162.6" r="2.4"/><circle cx="262.46" cy="66.89" r="2.4"/><circle cx="221.61" cy="116.38" r="2.4"/><circle cx="201.07" cy="113.74" r="2.4"/><circle cx="194.07" cy="113.42" r="2.4"/><circle cx="249.38" cy="71.61" r="2.4"/><circle cx="108.69" cy="164.02" r="2.4"/><circle cx="162.93" cy="140.76" r="2.4"/><circle cx="189.18" cy="95.52" r="2.4"/><circle cx="119.1" cy="159.99" r="2.4"/><circle cx="198.52" cy="122.15" r="2.4"/><circle cx="210.07" cy="102.15" r="2.4"/><circle cx="265.89" cy="41.91" r="2.4"/><circle cx="182.65" cy="138.53" r="2.4"/><circle cx="242.43" cy="100.32" r="2.4"/><circle cx="153.42" cy="135.77" r="2.4"/><circle cx="245.11" cy="66.53" r="2.4"/><circle cx="172.43" cy="126.45" r="2.4"/><circle cx="212.84" cy="98.42" r="2.4"/><circle cx="139.17" cy="154.08" r="2.4"/><circle cx="168.01" cy="133.75" r="2.4"/><circle cx="179.49" cy="118.53" r="2.4"/><circle cx="173.61" cy="136.94" r="2.4"/><circle cx="245.72" cy="101.47" r="2.4"/><circle cx="165.26" cy="125.53" r="2.4"/><circle cx="232.66" cy="106.83" r="2.4"/><circle cx="116.61" cy="169.1" r="2.4"/><circle cx="130.58" cy="158.93" r="2.4"/><circle cx="125.69" cy="146.48" r="2.4"/><circle cx="126.69" cy="163.61" r="2.4"/><circle cx="183.73" cy="121.66" r="2.4"/><circle cx="115.31" cy="140.74" r="2.4"/><circle cx="196.6" cy="111.67" r="2.4"/><circle cx="231.64" cy="96.56" r="2.4"/><circle cx="245.45" cy="91.17" r="2.4"/><circle cx="108.42" cy="179.13" r="2.4"/><circle cx="135.62" cy="138.95" r="2.4"/><circle cx="162.99" cy="147.55" r="2.4"/><circle cx="99.9" cy="165.12" r="2.4"/><circle cx="196.65" cy="103.24" r="2.4"/><circle cx="164.94" cy="142.99" r="2.4"/><circle cx="161.01" cy="143.47" r="2.4"/><circle cx="122.86" cy="151.92" r="2.4"/><circle cx="110.56" cy="160.08" r="2.4"/><circle cx="234.58" cy="77.98" r="2.4"/><circle cx="185.59" cy="107.66" r="2.4"/><circle cx="149.68" cy="133.5" r="2.4"/><circle cx="233.65" cy="107.59" r="2.4"/><circle cx="117.4" cy="157.19" r="2.4"/><circle cx="156.91" cy="139.74" r="2.4"/><circle cx="111.22" cy="164.95" r="2.4"/><circle cx="216.07" cy="119.98" r="2.4"/><circle cx="234.3" cy="93.91" r="2.4"/><circle cx="141.02" cy="135.48" r="2.4"/><circle cx="220.64" cy="88.77" r="2.4"/><circle cx="257.21" cy="87.32" r="2.4"/><circle cx="133.37" cy="153.22" r="2.4"/><circle cx="265.68" cy="64.68" r="2.4"/><circle cx="148.19" cy="135.85" r="2.4"/><circle cx="201.86" cy="117.07" r="2.4"/><circle cx="176.66" cy="136.24" r="2.4"/><circle cx="150.11" cy="158.89" r="2.4"/><circle cx="186.03" cy="109.68" r="2.4"/><circle cx="89.61" cy="159.97" r="2.4"/><circle cx="171.64" cy="128.05" r="2.4"/><circle cx="171.3" cy="124.51" r="2.4"/><circle cx="190.8" cy="104.17" r="2.4"/><circle cx="211.12" cy="116.98" r="2.4"/><circle cx="233.63" cy="86.79" r="2.4"/><circle cx="217.58" cy="84.27" r="2.4"/><circle cx="231.65" cy="73.46" r="2.4"/><circle cx="153.76" cy="143.98" r="2.4"/><circle cx="115.86" cy="167.3" r="2.4"/><circle cx="193.22" cy="123.5" r="2.4"/><circle cx="106.65" cy="155.2" r="2.4"/><circle cx="258.81" cy="77.63" r="2.4"/><circle cx="168.84" cy="134.2" r="2.4"/><circle cx="137.05" cy="147.41" r="2.4"/><circle cx="104.02" cy="164.79" r="2.4"/><circle cx="225.48" cy="107.6" r="2.4"/><circle cx="223.65" cy="94.79" r="2.4"/><circle cx="119.82" cy="164.12" r="2.4"/><circle cx="212.28" cy="109.41" r="2.4"/><circle cx="113.26" cy="147.93" r="2.4"/><circle cx="199.96" cy="105.39" r="2.4"/><circle cx="176.11" cy="142.8" r="2.4"/><circle cx="191.83" cy="130.14" r="2.4"/><circle cx="120.28" cy="153.67" r="2.4"/><circle cx="215.92" cy="112.43" r="2.4"/><circle cx="214.88" cy="93.67" r="2.4"/><circle cx="225.18" cy="88.25" r="2.4"/><circle cx="157.6" cy="133.41" r="2.4"/><circle cx="137.4" cy="134.78" r="2.4"/><circle cx="178.54" cy="140.71" r="2.4"/><circle cx="200.36" cy="120.23" r="2.4"/><circle cx="210.29" cy="111.06" r="2.4"/><circle cx="164.12" cy="139.4" r="2.4"/><circle cx="187.12" cy="111.21" r="2.4"/><circle cx="192.59" cy="111.61" r="2.4"/><circle cx="184.58" cy="129.38" r="2.4"/><circle cx="203.34" cy="116.03" r="2.4"/><circle cx="144.49" cy="158.41" r="2.4"/><circle cx="134.01" cy="153.75" r="2.4"/><circle cx="141.59" cy="160.34" r="2.4"/><circle cx="215.75" cy="80.17" r="2.4"/><circle cx="267.57" cy="51.44" r="2.4"/><circle cx="145.68" cy="150.95" r="2.4"/><circle cx="193.78" cy="115.38" r="2.4"/><circle cx="183.1" cy="118.75" r="2.4"/><circle cx="233.7" cy="90.86" r="2.4"/><circle cx="100.06" cy="154.92" r="2.4"/><circle cx="189.02" cy="117.57" r="2.4"/><circle cx="231.22" cy="67.36" r="2.4"/><circle cx="265.14" cy="51.02" r="2.4"/><circle cx="159.52" cy="148.62" r="2.4"/><circle cx="168.76" cy="141.39" r="2.4"/><circle cx="224.81" cy="109.58" r="2.4"/><circle cx="249.72" cy="61.52" r="2.4"/><circle cx="134.17" cy="154.11" r="2.4"/><circle cx="235.56" cy="80.68" r="2.4"/><circle cx="117.86" cy="169.99" r="2.4"/><circle cx="107.73" cy="160.3" r="2.4"/><circle cx="104.37" cy="174.24" r="2.4"/><circle cx="111.5" cy="163.98" r="2.4"/><circle cx="114.5" cy="159.68" r="2.4"/><circle cx="133.99" cy="162.57" r="2.4"/><circle cx="141.47" cy="126.49" r="2.4"/><circle cx="268.23" cy="76.45" r="2.4"/><circle cx="217.64" cy="108.04" r="2.4"/><circle cx="115.54" cy="148.66" r="2.4"/><circle cx="128.1" cy="147.48" r="2.4"/><circle cx="199.59" cy="136.96" r="2.4"/><circle cx="185.9" cy="116.69" r="2.4"/><circle cx="163.69" cy="127.09" r="2.4"/><circle cx="160.82" cy="147.89" r="2.4"/><circle cx="207.86" cy="108.75" r="2.4"/><circle cx="170.15" cy="140.28" r="2.4"/><circle cx="203.65" cy="116.96" r="2.4"/><circle cx="98.85" cy="156.03" r="2.4"/><circle cx="115.1" cy="151.93" r="2.4"/><circle cx="127.09" cy="161.27" r="2.4"/><circle cx="184.72" cy="134.19" r="2.4"/><circle cx="183.17" cy="108.04" r="2.4"/><circle cx="231" cy="92.6" r="2.4"/><circle cx="235.28" cy="96.86" r="2.4"/><circle cx="218.7" cy="96" r="2.4"/><circle cx="147.55" cy="158.78" r="2.4"/><circle cx="108.98" cy="169.37" r="2.4"/><circle cx="234.84" cy="99.79" r="2.4"/><circle cx="248.22" cy="67.82" r="2.4"/><circle cx="102.59" cy="162.92" r="2.4"/><circle cx="95.08" cy="175.79" r="2.4"/><circle cx="125.98" cy="160.72" r="2.4"/><circle cx="151.71" cy="131.55" r="2.4"/><circle cx="201.49" cy="107.67" r="2.4"/><circle cx="165.15" cy="141.52" r="2.4"/><circle cx="194.78" cy="114.64" r="2.4"/><circle cx="219.79" cy="94.06" r="2.4"/><circle cx="125.79" cy="158.1" r="2.4"/><circle cx="144.55" cy="148.88" r="2.4"/><circle cx="269.23" cy="75.24" r="2.4"/><circle cx="177.27" cy="152.08" r="2.4"/><circle cx="170.37" cy="126.64" r="2.4"/><circle cx="178.74" cy="125.98" r="2.4"/><circle cx="178.19" cy="119.61" r="2.4"/><circle cx="204.43" cy="75.75" r="2.4"/><circle cx="231.35" cy="98.66" r="2.4"/><circle cx="189.35" cy="110.12" r="2.4"/><circle cx="190.41" cy="120.51" r="2.4"/><circle cx="182.67" cy="130.36" r="2.4"/><circle cx="134.59" cy="158.59" r="2.4"/><circle cx="210.91" cy="106.91" r="2.4"/><circle cx="128.85" cy="151.44" r="2.4"/><circle cx="137.19" cy="132.93" r="2.4"/><circle cx="148.72" cy="141.89" r="2.4"/><circle cx="174.95" cy="134.93" r="2.4"/><circle cx="220.61" cy="89.72" r="2.4"/><circle cx="151.09" cy="152.08" r="2.4"/><circle cx="186.22" cy="115.18" r="2.4"/><circle cx="162.17" cy="133.82" r="2.4"/><circle cx="163.76" cy="138.42" r="2.4"/><circle cx="266.15" cy="56.99" r="2.4"/><circle cx="192.82" cy="98.52" r="2.4"/><circle cx="100.85" cy="161.45" r="2.4"/><circle cx="229.97" cy="117.02" r="2.4"/><circle cx="171.55" cy="148.08" r="2.4"/><circle cx="264.23" cy="66.27" r="2.4"/><circle cx="118.5" cy="159.35" r="2.4"/><circle cx="261.76" cy="85.51" r="2.4"/><circle cx="193.93" cy="109.55" r="2.4"/><circle cx="188.96" cy="111.83" r="2.4"/><circle cx="171.02" cy="116.94" r="2.4"/><circle cx="266.62" cy="57.32" r="2.4"/><circle cx="224.23" cy="79.49" r="2.4"/><circle cx="174.81" cy="136.44" r="2.4"/><circle cx="153.73" cy="147.35" r="2.4"/><circle cx="155.61" cy="135.16" r="2.4"/><circle cx="168.23" cy="127.83" r="2.4"/><circle cx="126.25" cy="169" r="2.4"/><circle cx="133.82" cy="155.9" r="2.4"/><circle cx="194.86" cy="108.62" r="2.4"/><circle cx="212.13" cy="100.75" r="2.4"/><circle cx="240.53" cy="102.17" r="2.4"/><circle cx="123.24" cy="159.87" r="2.4"/><circle cx="144.42" cy="148.78" r="2.4"/><circle cx="126.97" cy="156.62" r="2.4"/><circle cx="189.64" cy="114.09" r="2.4"/><circle cx="143.42" cy="141.89" r="2.4"/><circle cx="145.98" cy="152.69" r="2.4"/><circle cx="110.32" cy="149.88" r="2.4"/><circle cx="212.48" cy="100.86" r="2.4"/><circle cx="248.79" cy="81.66" r="2.4"/><circle cx="120.16" cy="144.16" r="2.4"/><circle cx="169.98" cy="132.37" r="2.4"/><circle cx="214.55" cy="114.43" r="2.4"/><circle cx="231.07" cy="110.08" r="2.4"/><circle cx="150.39" cy="149.97" r="2.4"/><circle cx="109.12" cy="165.82" r="2.4"/><circle cx="211.27" cy="122.2" r="2.4"/><circle cx="202.06" cy="113.68" r="2.4"/><circle cx="156.66" cy="149.68" r="2.4"/><circle cx="203.12" cy="103.66" r="2.4"/><circle cx="181.5" cy="133.68" r="2.4"/><circle cx="184.37" cy="113.8" r="2.4"/><circle cx="112.2" cy="163.95" r="2.4"/><circle cx="261.76" cy="95.51" r="2.4"/><circle cx="124.15" cy="146.25" r="2.4"/><circle cx="211.7" cy="103.16" r="2.4"/><circle cx="182.82" cy="128.22" r="2.4"/><circle cx="156.41" cy="139.48" r="2.4"/><circle cx="184.46" cy="129.26" r="2.4"/><circle cx="118.02" cy="153.08" r="2.4"/><circle cx="150.23" cy="142.84" r="2.4"/><circle cx="147.85" cy="148.45" r="2.4"/><circle cx="197.77" cy="106.44" r="2.4"/><circle cx="175.38" cy="111.24" r="2.4"/><circle cx="103.01" cy="162.37" r="2.4"/><circle cx="141.52" cy="137.17" r="2.4"/><circle cx="154.94" cy="134.59" r="2.4"/><circle cx="152.04" cy="142.89" r="2.4"/><circle cx="214.85" cy="100.94" r="2.4"/><circle cx="222.66" cy="67.57" r="2.4"/><circle cx="257.22" cy="64.37" r="2.4"/><circle cx="252.13" cy="64.97" r="2.4"/><circle cx="169.77" cy="150.11" r="2.4"/><circle cx="179.81" cy="117.41" r="2.4"/><circle cx="186.27" cy="137.48" r="2.4"/><circle cx="172.43" cy="112.96" r="2.4"/><circle cx="105.38" cy="163.39" r="2.4"/><circle cx="116.53" cy="153.75" r="2.4"/><circle cx="216.55" cy="109.61" r="2.4"/><circle cx="209.03" cy="104.04" r="2.4"/><circle cx="144.66" cy="156.33" r="2.4"/><circle cx="128.78" cy="163.1" r="2.4"/><circle cx="181.27" cy="121.21" r="2.4"/><circle cx="226.5" cy="99.78" r="2.4"/><circle cx="108.35" cy="163.73" r="2.4"/><circle cx="193.43" cy="116.58" r="2.4"/><circle cx="132.65" cy="132.87" r="2.4"/><circle cx="136.99" cy="140.73" r="2.4"/><circle cx="163.03" cy="117.96" r="2.4"/><circle cx="124.01" cy="156.81" r="2.4"/><circle cx="207.71" cy="113.34" r="2.4"/><circle cx="114.49" cy="155.93" r="2.4"/><circle cx="170.71" cy="123.92" r="2.4"/><circle cx="195.85" cy="128.87" r="2.4"/><circle cx="222.9" cy="91.81" r="2.4"/><circle cx="179.06" cy="129.64" r="2.4"/><circle cx="119.24" cy="155.96" r="2.4"/><circle cx="218.8" cy="99.33" r="2.4"/><circle cx="251.32" cy="82.01" r="2.4"/><circle cx="103.83" cy="171.09" r="2.4"/><circle cx="243.06" cy="88.5" r="2.4"/><circle cx="188.96" cy="106.88" r="2.4"/><circle cx="185.46" cy="136.08" r="2.4"/><circle cx="155.58" cy="139.6" r="2.4"/><circle cx="123.86" cy="157.95" r="2.4"/><circle cx="185.9" cy="123.97" r="2.4"/><circle cx="234.85" cy="90.34" r="2.4"/><circle cx="102.52" cy="160.37" r="2.4"/><circle cx="179.29" cy="127" r="2.4"/><circle cx="191.32" cy="93.92" r="2.4"/><circle cx="244.34" cy="86.55" r="2.4"/><circle cx="100.07" cy="143.5" r="2.4"/><circle cx="152.96" cy="158.17" r="2.4"/><circle cx="118.83" cy="145.2" r="2.4"/><circle cx="144.69" cy="150.59" r="2.4"/><circle cx="240.75" cy="100.11" r="2.4"/><circle cx="126.31" cy="161.86" r="2.4"/><circle cx="151.47" cy="147.51" r="2.4"/><circle cx="221.31" cy="98.4" r="2.4"/><circle cx="208.46" cy="104.63" r="2.4"/><circle cx="243.65" cy="70.92" r="2.4"/><circle cx="118.4" cy="159.67" r="2.4"/><circle cx="111" cy="164.99" r="2.4"/><circle cx="132.18" cy="155.45" r="2.4"/><circle cx="170.62" cy="125.13" r="2.4"/><circle cx="197.54" cy="113.64" r="2.4"/><circle cx="117.5" cy="140.62" r="2.4"/><circle cx="189.89" cy="123.66" r="2.4"/><circle cx="132.22" cy="158.94" r="2.4"/><circle cx="263.62" cy="75.18" r="2.4"/><circle cx="179.41" cy="133.07" r="2.4"/><circle cx="120.63" cy="161.42" r="2.4"/><circle cx="223.44" cy="108.61" r="2.4"/><circle cx="170.52" cy="153.4" r="2.4"/><circle cx="211.93" cy="123.37" r="2.4"/><circle cx="177.46" cy="138.84" r="2.4"/><circle cx="234.8" cy="123.63" r="2.4"/><circle cx="140.55" cy="155.7" r="2.4"/><circle cx="268.43" cy="53.01" r="2.4"/><circle cx="100.95" cy="163.38" r="2.4"/><circle cx="153.99" cy="157.89" r="2.4"/><circle cx="123.11" cy="169.7" r="2.4"/><circle cx="101.36" cy="171.03" r="2.4"/><circle cx="141.52" cy="143.5" r="2.4"/><circle cx="155.57" cy="141.45" r="2.4"/><circle cx="111.53" cy="159.83" r="2.4"/><circle cx="244.02" cy="89.5" r="2.4"/><circle cx="212.06" cy="94.09" r="2.4"/><circle cx="176.86" cy="127.39" r="2.4"/><circle cx="158.1" cy="116.48" r="2.4"/><circle cx="128.29" cy="147.22" r="2.4"/><circle cx="124.16" cy="154.99" r="2.4"/><circle cx="158.1" cy="144.96" r="2.4"/><circle cx="187.77" cy="125.57" r="2.4"/><circle cx="227.68" cy="108.23" r="2.4"/><circle cx="135.18" cy="151.78" r="2.4"/><circle cx="229.65" cy="91.06" r="2.4"/><circle cx="194.86" cy="99.19" r="2.4"/><circle cx="123.39" cy="154.27" r="2.4"/><circle cx="104.14" cy="159" r="2.4"/><circle cx="102.62" cy="164.59" r="2.4"/><circle cx="264.57" cy="67.54" r="2.4"/><circle cx="135.5" cy="143.12" r="2.4"/><circle cx="110.1" cy="158.86" r="2.4"/><circle cx="194.48" cy="119.39" r="2.4"/><circle cx="139.73" cy="150.71" r="2.4"/><circle cx="253.43" cy="80.22" r="2.4"/><circle cx="195.18" cy="136.58" r="2.4"/><circle cx="235.29" cy="90.34" r="2.4"/><circle cx="193.27" cy="131.55" r="2.4"/><circle cx="205.66" cy="65.17" r="2.4"/><circle cx="165.85" cy="136.8" r="2.4"/><circle cx="160.69" cy="130.74" r="2.4"/><circle cx="213.9" cy="94.78" r="2.4"/><circle cx="126.65" cy="168.58" r="2.4"/><circle cx="110.07" cy="152.02" r="2.4"/><circle cx="241.86" cy="94.75" r="2.4"/><circle cx="154.88" cy="132.73" r="2.4"/><circle cx="179.88" cy="111.08" r="2.4"/><circle cx="156.48" cy="132.66" r="2.4"/><circle cx="207.59" cy="139.41" r="2.4"/><circle cx="213.1" cy="117.3" r="2.4"/><circle cx="126.78" cy="157.65" r="2.4"/><circle cx="212.33" cy="116.04" r="2.4"/><circle cx="145.63" cy="142.33" r="2.4"/><circle cx="181.37" cy="109.01" r="2.4"/><circle cx="168.99" cy="109.65" r="2.4"/><circle cx="226.12" cy="106.43" r="2.4"/><circle cx="159.71" cy="149.6" r="2.4"/><circle cx="222.01" cy="89.21" r="2.4"/><circle cx="252.26" cy="69.33" r="2.4"/><circle cx="182.19" cy="126.02" r="2.4"/><circle cx="220.17" cy="115.28" r="2.4"/><circle cx="235.35" cy="72.94" r="2.4"/><circle cx="133.12" cy="136.94" r="2.4"/><circle cx="164.46" cy="123.54" r="2.4"/><circle cx="239.08" cy="77.62" r="2.4"/><circle cx="210.34" cy="112.55" r="2.4"/><circle cx="226.25" cy="93.32" r="2.4"/><circle cx="186.16" cy="131.13" r="2.4"/><circle cx="154.32" cy="118.4" r="2.4"/><circle cx="214.85" cy="114.36" r="2.4"/><circle cx="149.52" cy="153.07" r="2.4"/><circle cx="183.21" cy="123.95" r="2.4"/><circle cx="130.61" cy="151.97" r="2.4"/><circle cx="157.32" cy="126.2" r="2.4"/><circle cx="164.08" cy="128.59" r="2.4"/><circle cx="116.99" cy="167.19" r="2.4"/><circle cx="115.28" cy="155.79" r="2.4"/><circle cx="234.97" cy="88.57" r="2.4"/><circle cx="123.73" cy="169.65" r="2.4"/><circle cx="152.45" cy="148.97" r="2.4"/><circle cx="196.7" cy="123.97" r="2.4"/><circle cx="121.11" cy="155.61" r="2.4"/><circle cx="110.22" cy="155.12" r="2.4"/><circle cx="240.42" cy="88.28" r="2.4"/><circle cx="140.64" cy="129.48" r="2.4"/><circle cx="259.59" cy="82.89" r="2.4"/><circle cx="174.33" cy="127.63" r="2.4"/><circle cx="183.94" cy="129.09" r="2.4"/><circle cx="177.14" cy="140.03" r="2.4"/><circle cx="172.43" cy="135.54" r="2.4"/><circle cx="138.72" cy="150.82" r="2.4"/><circle cx="189.69" cy="123.87" r="2.4"/><circle cx="162.83" cy="145.24" r="2.4"/><circle cx="226.63" cy="95.91" r="2.4"/><circle cx="141.67" cy="156.05" r="2.4"/><circle cx="128.07" cy="143.3" r="2.4"/><circle cx="229.23" cy="87.94" r="2.4"/><circle cx="176.54" cy="127.07" r="2.4"/><circle cx="133.2" cy="134.48" r="2.4"/><circle cx="213.27" cy="143.49" r="2.4"/><circle cx="141.29" cy="156.57" r="2.4"/><circle cx="203.57" cy="95.12" r="2.4"/><circle cx="194.01" cy="123.97" r="2.4"/><circle cx="142.07" cy="138.36" r="2.4"/><circle cx="192" cy="109.39" r="2.4"/><circle cx="169.82" cy="129.74" r="2.4"/><circle cx="103.72" cy="165.33" r="2.4"/><circle cx="275.13" cy="70.7" r="2.4"/><circle cx="137.66" cy="164.4" r="2.4"/><circle cx="154.98" cy="160.23" r="2.4"/><circle cx="233.71" cy="70.95" r="2.4"/><circle cx="199.09" cy="114.86" r="2.4"/><circle cx="124.88" cy="152.36" r="2.4"/><circle cx="191.9" cy="130.49" r="2.4"/><circle cx="101.92" cy="162.96" r="2.4"/><circle cx="208.34" cy="96.18" r="2.4"/><circle cx="186.51" cy="130.01" r="2.4"/><circle cx="194.99" cy="121.72" r="2.4"/><circle cx="181.13" cy="128.02" r="2.4"/><circle cx="150.76" cy="124.57" r="2.4"/><circle cx="193.99" cy="103.48" r="2.4"/><circle cx="165.67" cy="117.5" r="2.4"/><circle cx="208.36" cy="76.87" r="2.4"/><circle cx="104.8" cy="166.93" r="2.4"/><circle cx="138.28" cy="145.42" r="2.4"/><circle cx="122.94" cy="176.45" r="2.4"/><circle cx="173.03" cy="129.44" r="2.4"/><circle cx="188.91" cy="123.49" r="2.4"/><circle cx="131.9" cy="153.15" r="2.4"/><circle cx="254.51" cy="75.6" r="2.4"/><circle cx="153.08" cy="163.91" r="2.4"/><circle cx="99.73" cy="165.27" r="2.4"/><circle cx="204.7" cy="114.31" r="2.4"/><circle cx="116.72" cy="168.8" r="2.4"/><circle cx="99.94" cy="169.28" r="2.4"/><circle cx="141.64" cy="141.29" r="2.4"/><circle cx="166.97" cy="140.16" r="2.4"/><circle cx="134.83" cy="139.92" r="2.4"/><circle cx="147.46" cy="140.07" r="2.4"/><circle cx="119.48" cy="160.4" r="2.4"/><circle cx="151.16" cy="153.59" r="2.4"/><circle cx="216.51" cy="113.91" r="2.4"/><circle cx="144.72" cy="136.54" r="2.4"/><circle cx="183.17" cy="124.45" r="2.4"/><circle cx="130.53" cy="150.47" r="2.4"/><circle cx="118.51" cy="159.62" r="2.4"/><circle cx="145.69" cy="139.94" r="2.4"/><circle cx="104.45" cy="160.49" r="2.4"/><circle cx="167.62" cy="141.79" r="2.4"/><circle cx="201.39" cy="106.84" r="2.4"/><circle cx="160.26" cy="143.91" r="2.4"/><circle cx="132.7" cy="147.79" r="2.4"/><circle cx="146.61" cy="162.93" r="2.4"/><circle cx="220.86" cy="104.12" r="2.4"/><circle cx="134.89" cy="133.09" r="2.4"/><circle cx="147.59" cy="159.02" r="2.4"/><circle cx="198.61" cy="123.98" r="2.4"/><circle cx="136.03" cy="149.78" r="2.4"/><circle cx="247.92" cy="96.04" r="2.4"/><circle cx="125.29" cy="153.94" r="2.4"/><circle cx="102.61" cy="162.45" r="2.4"/><circle cx="161" cy="131.51" r="2.4"/><circle cx="177.17" cy="126.37" r="2.4"/><circle cx="181.38" cy="123.24" r="2.4"/><circle cx="146.47" cy="156.01" r="2.4"/><circle cx="213.72" cy="101.38" r="2.4"/><circle cx="225.86" cy="95.3" r="2.4"/><circle cx="169.62" cy="130.19" r="2.4"/><circle cx="220.94" cy="89.81" r="2.4"/><circle cx="218.09" cy="94.29" r="2.4"/><circle cx="126.09" cy="150.02" r="2.4"/><circle cx="120.71" cy="157.98" r="2.4"/><circle cx="119.55" cy="157.36" r="2.4"/><circle cx="113.09" cy="165.83" r="2.4"/><circle cx="213.12" cy="92.96" r="2.4"/><circle cx="154.66" cy="133.57" r="2.4"/><circle cx="120.88" cy="163.9" r="2.4"/><circle cx="178.44" cy="115.84" r="2.4"/><circle cx="142.65" cy="151.23" r="2.4"/><circle cx="107.08" cy="164.5" r="2.4"/><circle cx="159.28" cy="149.08" r="2.4"/><circle cx="222.15" cy="103.84" r="2.4"/><circle cx="201.34" cy="105.21" r="2.4"/><circle cx="167.75" cy="121.84" r="2.4"/><circle cx="263.99" cy="74.06" r="2.4"/><circle cx="154.75" cy="177.57" r="2.4"/><circle cx="169.91" cy="124.05" r="2.4"/><circle cx="207.88" cy="105.56" r="2.4"/><circle cx="165.48" cy="129.64" r="2.4"/><circle cx="124.48" cy="142.25" r="2.4"/><circle cx="202.16" cy="100.51" r="2.4"/><circle cx="243.38" cy="112.76" r="2.4"/><circle cx="151.09" cy="148.85" r="2.4"/><circle cx="159.45" cy="147.84" r="2.4"/><circle cx="144.42" cy="135.34" r="2.4"/><circle cx="198.88" cy="120.25" r="2.4"/><circle cx="170.29" cy="135.04" r="2.4"/><circle cx="133.3" cy="142.35" r="2.4"/><circle cx="238.29" cy="112.19" r="2.4"/><circle cx="99.84" cy="170.99" r="2.4"/><circle cx="223.85" cy="127.26" r="2.4"/><circle cx="229.95" cy="118.91" r="2.4"/><circle cx="114.26" cy="156.66" r="2.4"/><circle cx="100.64" cy="167.3" r="2.4"/><circle cx="192.68" cy="119.82" r="2.4"/><circle cx="183.4" cy="127.24" r="2.4"/><circle cx="125.24" cy="160.58" r="2.4"/><circle cx="161.83" cy="141.02" r="2.4"/><circle cx="114.51" cy="156.61" r="2.4"/><circle cx="159.14" cy="147.36" r="2.4"/><circle cx="175" cy="128.5" r="2.4"/><circle cx="237.27" cy="94.33" r="2.4"/><circle cx="153.71" cy="134.54" r="2.4"/><circle cx="123.28" cy="147.05" r="2.4"/><circle cx="257.06" cy="66.61" r="2.4"/><circle cx="191.26" cy="107.13" r="2.4"/><circle cx="119.94" cy="163.84" r="2.4"/><circle cx="109.16" cy="164.76" r="2.4"/><circle cx="154.55" cy="141.78" r="2.4"/><circle cx="135.05" cy="153.95" r="2.4"/><circle cx="152.57" cy="138.62" r="2.4"/><circle cx="139.19" cy="153.49" r="2.4"/><circle cx="242.27" cy="102.02" r="2.4"/><circle cx="219.45" cy="108.5" r="2.4"/><circle cx="196.2" cy="110.86" r="2.4"/><circle cx="113.63" cy="142.99" r="2.4"/><circle cx="215.69" cy="100.3" r="2.4"/><circle cx="156.87" cy="155.37" r="2.4"/><circle cx="230.95" cy="93.75" r="2.4"/><circle cx="107.7" cy="168.4" r="2.4"/><circle cx="121.52" cy="176.75" r="2.4"/><circle cx="119.26" cy="138.87" r="2.4"/><circle cx="220.18" cy="73.18" r="2.4"/><circle cx="258.34" cy="71.27" r="2.4"/><circle cx="207.9" cy="107.44" r="2.4"/><circle cx="144.3" cy="150.42" r="2.4"/><circle cx="107.79" cy="152.72" r="2.4"/><circle cx="264.47" cy="53.95" r="2.4"/><circle cx="125" cy="143.99" r="2.4"/><circle cx="219.17" cy="114.13" r="2.4"/><circle cx="167.34" cy="139.67" r="2.4"/><circle cx="148.61" cy="139.13" r="2.4"/><circle cx="158.65" cy="138.26" r="2.4"/><circle cx="111.81" cy="170.71" r="2.4"/><circle cx="117.39" cy="159.03" r="2.4"/><circle cx="230.61" cy="77.55" r="2.4"/><circle cx="164.68" cy="171.81" r="2.4"/><circle cx="196.4" cy="98.43" r="2.4"/><circle cx="147.74" cy="147.66" r="2.4"/><circle cx="168.87" cy="116.51" r="2.4"/><circle cx="216.24" cy="91" r="2.4"/><circle cx="192.53" cy="112.7" r="2.4"/><circle cx="157.03" cy="141.46" r="2.4"/><circle cx="165.85" cy="137.2" r="2.4"/><circle cx="104.28" cy="160.56" r="2.4"/><circle cx="157.46" cy="138.67" r="2.4"/><circle cx="119.3" cy="171.03" r="2.4"/><circle cx="115.72" cy="165.86" r="2.4"/><circle cx="108.05" cy="176.82" r="2.4"/><circle cx="211.15" cy="121.52" r="2.4"/><circle cx="165.28" cy="144.04" r="2.4"/><circle cx="178.43" cy="120.17" r="2.4"/><circle cx="143.39" cy="147.96" r="2.4"/><circle cx="156.46" cy="141.24" r="2.4"/><circle cx="164.54" cy="144.97" r="2.4"/><circle cx="222.68" cy="116.62" r="2.4"/><circle cx="113.8" cy="156.27" r="2.4"/><circle cx="126.24" cy="150.61" r="2.4"/><circle cx="124.84" cy="162.11" r="2.4"/><circle cx="166.48" cy="138.76" r="2.4"/><circle cx="168.14" cy="130.25" r="2.4"/><circle cx="197.62" cy="127.66" r="2.4"/><circle cx="243.67" cy="83.01" r="2.4"/><circle cx="134.75" cy="151.05" r="2.4"/><circle cx="158.32" cy="126.5" r="2.4"/><circle cx="175.79" cy="131.67" r="2.4"/><circle cx="215.6" cy="94.83" r="2.4"/><circle cx="173.08" cy="126.32" r="2.4"/><circle cx="123.42" cy="132.68" r="2.4"/><circle cx="107.51" cy="170.17" r="2.4"/><circle cx="148.78" cy="146.35" r="2.4"/><circle cx="186.81" cy="138.55" r="2.4"/><circle cx="126.29" cy="149.96" r="2.4"/><circle cx="164.94" cy="128.49" r="2.4"/><circle cx="154.91" cy="124.32" r="2.4"/><circle cx="262.19" cy="70.33" r="2.4"/><circle cx="200.55" cy="103.14" r="2.4"/><circle cx="272.99" cy="50.74" r="2.4"/><circle cx="174.09" cy="112.41" r="2.4"/><circle cx="170.17" cy="132.13" r="2.4"/><circle cx="274.53" cy="56.45" r="2.4"/><circle cx="158.29" cy="131.43" r="2.4"/><circle cx="179.05" cy="125.45" r="2.4"/><circle cx="102.47" cy="170.35" r="2.4"/><circle cx="124.75" cy="170.44" r="2.4"/><circle cx="141.31" cy="144.41" r="2.4"/><circle cx="135.43" cy="137.33" r="2.4"/><circle cx="161.94" cy="134.75" r="2.4"/><circle cx="235.86" cy="80.86" r="2.4"/><circle cx="130.45" cy="156.87" r="2.4"/><circle cx="107.07" cy="156.42" r="2.4"/><circle cx="180.38" cy="113.94" r="2.4"/><circle cx="152.1" cy="146.85" r="2.4"/><circle cx="106.91" cy="171.44" r="2.4"/><circle cx="210.22" cy="107.33" r="2.4"/><circle cx="250.93" cy="78.81" r="2.4"/><circle cx="207.77" cy="97.23" r="2.4"/><circle cx="217.17" cy="123.21" r="2.4"/><circle cx="209.94" cy="80.03" r="2.4"/><circle cx="275.71" cy="46.32" r="2.4"/><circle cx="120.61" cy="161.2" r="2.4"/><circle cx="232.91" cy="106.27" r="2.4"/><circle cx="200.83" cy="122.13" r="2.4"/><circle cx="256.15" cy="68.32" r="2.4"/><circle cx="226.31" cy="90.94" r="2.4"/><circle cx="178.89" cy="123.01" r="2.4"/><circle cx="194.33" cy="130.93" r="2.4"/><circle cx="135.58" cy="153.18" r="2.4"/><circle cx="148.02" cy="146.99" r="2.4"/><circle cx="122" cy="160.98" r="2.4"/><circle cx="157.64" cy="144.81" r="2.4"/><circle cx="222.18" cy="93.88" r="2.4"/><circle cx="148.97" cy="126.64" r="2.4"/><circle cx="234.03" cy="108.07" r="2.4"/><circle cx="128.5" cy="144.78" r="2.4"/><circle cx="192.69" cy="126.83" r="2.4"/><circle cx="133.9" cy="159.18" r="2.4"/><circle cx="191.18" cy="126.72" r="2.4"/><circle cx="214.77" cy="53.96" r="2.4"/><circle cx="233.21" cy="88.2" r="2.4"/><circle cx="210.58" cy="84.83" r="2.4"/><circle cx="120.97" cy="165.2" r="2.4"/><circle cx="198.37" cy="126.19" r="2.4"/><circle cx="142.35" cy="127.11" r="2.4"/><circle cx="172.27" cy="122.01" r="2.4"/><circle cx="120.85" cy="177.29" r="2.4"/><circle cx="163.16" cy="146.64" r="2.4"/><circle cx="194.38" cy="117.12" r="2.4"/><circle cx="117.06" cy="147.81" r="2.4"/><circle cx="184.21" cy="103.38" r="2.4"/><circle cx="234.87" cy="103.31" r="2.4"/><circle cx="175.22" cy="122.99" r="2.4"/><circle cx="146.91" cy="149.83" r="2.4"/><circle cx="130.01" cy="156.65" r="2.4"/><circle cx="166.24" cy="139.23" r="2.4"/><circle cx="156.45" cy="151.48" r="2.4"/><circle cx="199.65" cy="124.98" r="2.4"/><circle cx="206.99" cy="110.31" r="2.4"/><circle cx="200.24" cy="104.44" r="2.4"/><circle cx="209.91" cy="122.55" r="2.4"/><circle cx="215.44" cy="76.71" r="2.4"/><circle cx="204.56" cy="116.03" r="2.4"/><circle cx="136.17" cy="141.76" r="2.4"/><circle cx="182.56" cy="133.38" r="2.4"/><circle cx="155.98" cy="152.35" r="2.4"/><circle cx="111.81" cy="153.25" r="2.4"/><circle cx="190.11" cy="111.76" r="2.4"/><circle cx="120.93" cy="173.09" r="2.4"/><circle cx="198.42" cy="107.81" r="2.4"/><circle cx="176.78" cy="145.58" r="2.4"/><circle cx="110.93" cy="155.95" r="2.4"/><circle cx="160.21" cy="129.87" r="2.4"/><circle cx="178.09" cy="127.62" r="2.4"/><circle cx="136.02" cy="153.84" r="2.4"/><circle cx="248.32" cy="84.12" r="2.4"/><circle cx="256.78" cy="76.46" r="2.4"/><circle cx="115.6" cy="171.14" r="2.4"/><circle cx="203.31" cy="107.61" r="2.4"/><circle cx="161.11" cy="148.24" r="2.4"/><circle cx="223.57" cy="119.75" r="2.4"/><circle cx="250.6" cy="75.3" r="2.4"/><circle cx="171.47" cy="114.8" r="2.4"/><circle cx="190.82" cy="106.83" r="2.4"/><circle cx="152.6" cy="148.3" r="2.4"/><circle cx="195.46" cy="128.33" r="2.4"/><circle cx="147.72" cy="135.61" r="2.4"/><circle cx="103.72" cy="158.59" r="2.4"/><circle cx="269.41" cy="72.54" r="2.4"/><circle cx="103.2" cy="165.31" r="2.4"/><circle cx="198.72" cy="96.4" r="2.4"/><circle cx="182.9" cy="123.57" r="2.4"/><circle cx="157.78" cy="142.05" r="2.4"/><circle cx="247.85" cy="88.51" r="2.4"/><circle cx="117.89" cy="171.81" r="2.4"/><circle cx="134.55" cy="144.42" r="2.4"/><circle cx="222.72" cy="91.44" r="2.4"/><circle cx="96.97" cy="165.25" r="2.4"/><circle cx="137.92" cy="136.85" r="2.4"/><circle cx="124.78" cy="153.56" r="2.4"/><circle cx="160.14" cy="146.22" r="2.4"/><circle cx="206.33" cy="100.24" r="2.4"/><circle cx="257.72" cy="88.3" r="2.4"/><circle cx="135.32" cy="175.7" r="2.4"/><circle cx="99.45" cy="167.64" r="2.4"/><circle cx="207.24" cy="113.11" r="2.4"/><circle cx="241.43" cy="98.09" r="2.4"/><circle cx="99.94" cy="165.12" r="2.4"/><circle cx="187.87" cy="112.6" r="2.4"/><circle cx="184.91" cy="132.88" r="2.4"/><circle cx="179.31" cy="146.74" r="2.4"/><circle cx="189.76" cy="136.5" r="2.4"/><circle cx="140.19" cy="157.98" r="2.4"/><circle cx="237.15" cy="91.54" r="2.4"/><circle cx="132.09" cy="153.16" r="2.4"/><circle cx="254.11" cy="71.61" r="2.4"/><circle cx="257.21" cy="28" r="2.4"/><circle cx="223.17" cy="110.63" r="2.4"/><circle cx="155.36" cy="134.34" r="2.4"/><circle cx="255.01" cy="75.18" r="2.4"/><circle cx="131.17" cy="151.95" r="2.4"/><circle cx="170.18" cy="136.34" r="2.4"/><circle cx="172.08" cy="117.53" r="2.4"/><circle cx="120.67" cy="150.84" r="2.4"/><circle cx="126.42" cy="138.18" r="2.4"/><circle cx="168.47" cy="154.59" r="2.4"/><circle cx="113.07" cy="163.89" r="2.4"/><circle cx="140.48" cy="130.01" r="2.4"/><circle cx="222.94" cy="84.75" r="2.4"/><circle cx="197.47" cy="106.64" r="2.4"/><circle cx="152.26" cy="147.88" r="2.4"/><circle cx="193.05" cy="79.12" r="2.4"/><circle cx="124.94" cy="168.08" r="2.4"/><circle cx="194.62" cy="97.14" r="2.4"/><circle cx="236.04" cy="97.93" r="2.4"/><circle cx="99.76" cy="166.24" r="2.4"/><circle cx="143.14" cy="139.07" r="2.4"/><circle cx="137.08" cy="159.15" r="2.4"/><circle cx="113.38" cy="153.11" r="2.4"/><circle cx="243.09" cy="83.41" r="2.4"/><circle cx="198.93" cy="123.41" r="2.4"/><circle cx="188.04" cy="118.88" r="2.4"/><circle cx="187.62" cy="118.78" r="2.4"/><circle cx="196.49" cy="105.21" r="2.4"/><circle cx="141.06" cy="130.32" r="2.4"/><circle cx="129.26" cy="166.15" r="2.4"/><circle cx="111.76" cy="168.94" r="2.4"/><circle cx="122.82" cy="160.42" r="2.4"/><circle cx="128.9" cy="165.5" r="2.4"/><circle cx="216.68" cy="79.77" r="2.4"/><circle cx="146.28" cy="151.17" r="2.4"/><circle cx="155.35" cy="145.03" r="2.4"/><circle cx="206.82" cy="112.86" r="2.4"/><circle cx="267.56" cy="79.48" r="2.4"/><circle cx="115.57" cy="154.6" r="2.4"/><circle cx="183.92" cy="118.89" r="2.4"/><circle cx="159.7" cy="149.84" r="2.4"/><circle cx="126.49" cy="157.35" r="2.4"/><circle cx="148.74" cy="140.05" r="2.4"/><circle cx="214.16" cy="99.47" r="2.4"/><circle cx="138.74" cy="140.91" r="2.4"/><circle cx="180.04" cy="112.2" r="2.4"/><circle cx="165.08" cy="142.13" r="2.4"/><circle cx="100.99" cy="173.01" r="2.4"/><circle cx="228.99" cy="102.27" r="2.4"/><circle cx="229.42" cy="92.94" r="2.4"/><circle cx="223.97" cy="105.11" r="2.4"/><circle cx="162.15" cy="133.09" r="2.4"/><circle cx="161.34" cy="148.07" r="2.4"/><circle cx="196.57" cy="117.42" r="2.4"/><circle cx="171.23" cy="139.02" r="2.4"/><circle cx="142.88" cy="135.58" r="2.4"/><circle cx="167.79" cy="117.75" r="2.4"/><circle cx="181.74" cy="153.95" r="2.4"/><circle cx="190.15" cy="128.6" r="2.4"/><circle cx="251.79" cy="80.53" r="2.4"/><circle cx="182.67" cy="113.85" r="2.4"/><circle cx="221.35" cy="110.93" r="2.4"/><circle cx="167.42" cy="131.13" r="2.4"/><circle cx="164.7" cy="121.45" r="2.4"/><circle cx="240.51" cy="84.25" r="2.4"/><circle cx="140.99" cy="155.13" r="2.4"/><circle cx="143.5" cy="153.48" r="2.4"/><circle cx="178.12" cy="121.93" r="2.4"/><circle cx="116.66" cy="151.96" r="2.4"/><circle cx="124.17" cy="151.83" r="2.4"/><circle cx="173.76" cy="128.76" r="2.4"/><circle cx="191.75" cy="138.59" r="2.4"/><circle cx="276.67" cy="62.41" r="2.4"/><circle cx="116.86" cy="163.35" r="2.4"/><circle cx="106.14" cy="164.53" r="2.4"/><circle cx="198.81" cy="105.66" r="2.4"/><circle cx="237.61" cy="100.89" r="2.4"/><circle cx="113.92" cy="156.86" r="2.4"/><circle cx="142.82" cy="133.6" r="2.4"/><circle cx="197.75" cy="106.58" r="2.4"/><circle cx="191.83" cy="105.7" r="2.4"/><circle cx="231.17" cy="97.46" r="2.4"/><circle cx="195" cy="126.4" r="2.4"/><circle cx="255.3" cy="67.48" r="2.4"/><circle cx="142.21" cy="144.62" r="2.4"/><circle cx="207.79" cy="93.59" r="2.4"/><circle cx="184.31" cy="124.15" r="2.4"/><circle cx="156.3" cy="157.25" r="2.4"/><circle cx="203.81" cy="119.85" r="2.4"/><circle cx="226" cy="95.97" r="2.4"/><circle cx="182.85" cy="143.28" r="2.4"/><circle cx="203.05" cy="98.19" r="2.4"/><circle cx="158.91" cy="145.09" r="2.4"/><circle cx="229.09" cy="94.11" r="2.4"/><circle cx="155.05" cy="144.3" r="2.4"/><circle cx="189.29" cy="104.61" r="2.4"/><circle cx="185.22" cy="138.07" r="2.4"/><circle cx="173.3" cy="120.42" r="2.4"/><circle cx="244.03" cy="77.01" r="2.4"/><circle cx="201.14" cy="99.01" r="2.4"/><circle cx="184.28" cy="106.74" r="2.4"/><circle cx="202.64" cy="123.07" r="2.4"/><circle cx="201.95" cy="130.37" r="2.4"/><circle cx="147.52" cy="166.37" r="2.4"/><circle cx="145.47" cy="152.09" r="2.4"/><circle cx="187.23" cy="116.71" r="2.4"/><circle cx="120.61" cy="156.08" r="2.4"/><circle cx="219.2" cy="106.82" r="2.4"/><circle cx="211.75" cy="98.83" r="2.4"/><circle cx="191.86" cy="133.14" r="2.4"/><circle cx="147.8" cy="133.85" r="2.4"/><circle cx="275.65" cy="34.5" r="2.4"/><circle cx="207.23" cy="94.24" r="2.4"/><circle cx="229.36" cy="90.57" r="2.4"/><circle cx="203.6" cy="90.92" r="2.4"/><circle cx="179.82" cy="141.65" r="2.4"/><circle cx="140.84" cy="159.1" r="2.4"/><circle cx="126.37" cy="155.19" r="2.4"/><circle cx="220.31" cy="102.02" r="2.4"/><circle cx="188.97" cy="125.85" r="2.4"/><circle cx="134.25" cy="146.97" r="2.4"/><circle cx="130.35" cy="154.61" r="2.4"/><circle cx="169.5" cy="116.88" r="2.4"/><circle cx="190.92" cy="119.11" r="2.4"/><circle cx="210.55" cy="131.51" r="2.4"/><circle cx="168.56" cy="137.48" r="2.4"/><circle cx="136.16" cy="156.13" r="2.4"/><circle cx="197.14" cy="141.46" r="2.4"/><circle cx="119.22" cy="151.54" r="2.4"/><circle cx="125.14" cy="166.16" r="2.4"/><circle cx="153.26" cy="161.49" r="2.4"/><circle cx="180.32" cy="128.86" r="2.4"/><circle cx="101.21" cy="155.38" r="2.4"/><circle cx="120.03" cy="157.02" r="2.4"/><circle cx="201.79" cy="91.92" r="2.4"/><circle cx="158.78" cy="133.58" r="2.4"/><circle cx="163.85" cy="118.2" r="2.4"/><circle cx="167.37" cy="126.59" r="2.4"/><circle cx="125.6" cy="151.71" r="2.4"/><circle cx="265.14" cy="108.04" r="2.4"/><circle cx="245.62" cy="101.24" r="2.4"/><circle cx="190.85" cy="133.99" r="2.4"/><circle cx="113.89" cy="163.82" r="2.4"/><circle cx="198.65" cy="98.9" r="2.4"/><circle cx="218.86" cy="71.51" r="2.4"/><circle cx="148.09" cy="140.63" r="2.4"/><circle cx="122.17" cy="172.2" r="2.4"/><circle cx="204.74" cy="121.51" r="2.4"/><circle cx="190.99" cy="120.93" r="2.4"/><circle cx="156.17" cy="135.29" r="2.4"/><circle cx="142.49" cy="145.84" r="2.4"/><circle cx="247.56" cy="96.56" r="2.4"/><circle cx="113.23" cy="177.04" r="2.4"/><circle cx="144.6" cy="139.13" r="2.4"/><circle cx="168.42" cy="130.29" r="2.4"/><circle cx="184.27" cy="126.94" r="2.4"/><circle cx="136.96" cy="152.75" r="2.4"/><circle cx="184.98" cy="115.33" r="2.4"/><circle cx="116.8" cy="165.21" r="2.4"/><circle cx="175.92" cy="144.77" r="2.4"/><circle cx="112.94" cy="162.37" r="2.4"/><circle cx="155.81" cy="157.65" r="2.4"/><circle cx="202.51" cy="109.42" r="2.4"/><circle cx="129.07" cy="165.4" r="2.4"/><circle cx="122.39" cy="161.83" r="2.4"/><circle cx="265.43" cy="82.77" r="2.4"/><circle cx="161.28" cy="119.62" r="2.4"/><circle cx="108.73" cy="174.78" r="2.4"/><circle cx="160.79" cy="144.87" r="2.4"/><circle cx="139.26" cy="152.69" r="2.4"/><circle cx="220.53" cy="112.19" r="2.4"/><circle cx="233.41" cy="107.59" r="2.4"/><circle cx="210.55" cy="116.47" r="2.4"/><circle cx="196.66" cy="117.93" r="2.4"/><circle cx="181.6" cy="110.2" r="2.4"/><circle cx="108.81" cy="155.55" r="2.4"/><circle cx="193.27" cy="97.88" r="2.4"/><circle cx="155.41" cy="149.44" r="2.4"/><circle cx="140.61" cy="148.72" r="2.4"/><circle cx="180.73" cy="113.7" r="2.4"/><circle cx="135.02" cy="145.45" r="2.4"/><circle cx="185.53" cy="118.74" r="2.4"/><circle cx="208.35" cy="98.24" r="2.4"/><circle cx="116.26" cy="163.69" r="2.4"/><circle cx="105.11" cy="160.68" r="2.4"/><circle cx="125.22" cy="163.66" r="2.4"/><circle cx="126.9" cy="145.96" r="2.4"/><circle cx="178.63" cy="120.14" r="2.4"/><circle cx="194.01" cy="115.88" r="2.4"/><circle cx="237.54" cy="103.65" r="2.4"/><circle cx="114.38" cy="160.31" r="2.4"/><circle cx="171.04" cy="115.07" r="2.4"/><circle cx="194.55" cy="121.62" r="2.4"/><circle cx="159.5" cy="137.09" r="2.4"/><circle cx="111.05" cy="173.11" r="2.4"/><circle cx="114.56" cy="168.11" r="2.4"/><circle cx="97.9" cy="167.78" r="2.4"/><circle cx="146.14" cy="137.26" r="2.4"/><circle cx="123.56" cy="149.5" r="2.4"/><circle cx="256.09" cy="81.28" r="2.4"/><circle cx="190.32" cy="85.61" r="2.4"/><circle cx="114.76" cy="176.36" r="2.4"/><circle cx="195.43" cy="140.18" r="2.4"/><circle cx="172.03" cy="112.47" r="2.4"/><circle cx="222.98" cy="83.75" r="2.4"/><circle cx="127.48" cy="139.57" r="2.4"/><circle cx="149.74" cy="153.05" r="2.4"/><circle cx="169.79" cy="158.81" r="2.4"/><circle cx="173.06" cy="144.99" r="2.4"/><circle cx="121.12" cy="167.58" r="2.4"/><circle cx="222.98" cy="93.77" r="2.4"/><circle cx="123.18" cy="158.15" r="2.4"/><circle cx="166.09" cy="138.55" r="2.4"/><circle cx="181.31" cy="120.41" r="2.4"/><circle cx="162.63" cy="142.4" r="2.4"/><circle cx="148.86" cy="144.47" r="2.4"/><circle cx="204.04" cy="93.39" r="2.4"/><circle cx="174.86" cy="137.65" r="2.4"/><circle cx="198.09" cy="112.43" r="2.4"/><circle cx="210.62" cy="114.29" r="2.4"/><circle cx="245.89" cy="75.92" r="2.4"/><circle cx="170.35" cy="141.76" r="2.4"/><circle cx="159.67" cy="149.37" r="2.4"/><circle cx="244.47" cy="77.29" r="2.4"/><circle cx="265.48" cy="93.69" r="2.4"/><circle cx="231.93" cy="72.16" r="2.4"/><circle cx="129.6" cy="148.13" r="2.4"/><circle cx="241.08" cy="91.24" r="2.4"/><circle cx="192.66" cy="121.4" r="2.4"/><circle cx="174.59" cy="125.69" r="2.4"/><circle cx="119.45" cy="156.14" r="2.4"/><circle cx="123.81" cy="165.55" r="2.4"/><circle cx="230.38" cy="96.48" r="2.4"/><circle cx="141.58" cy="157.79" r="2.4"/><circle cx="167.68" cy="143.91" r="2.4"/><circle cx="161.13" cy="138.05" r="2.4"/><circle cx="155.16" cy="140.01" r="2.4"/><circle cx="160.81" cy="142.2" r="2.4"/><circle cx="140.38" cy="152.35" r="2.4"/><circle cx="238.61" cy="95.08" r="2.4"/><circle cx="173.46" cy="132.3" r="2.4"/><circle cx="142.28" cy="134" r="2.4"/><circle cx="130.85" cy="140.62" r="2.4"/><circle cx="217.5" cy="111.62" r="2.4"/><circle cx="215.28" cy="143.03" r="2.4"/><circle cx="221.21" cy="91.77" r="2.4"/><circle cx="185.17" cy="105.18" r="2.4"/><circle cx="147.43" cy="150.53" r="2.4"/><circle cx="130.77" cy="149.48" r="2.4"/><circle cx="153.43" cy="132.37" r="2.4"/><circle cx="113.6" cy="158.88" r="2.4"/><circle cx="139.73" cy="154.26" r="2.4"/><circle cx="149.84" cy="145.48" r="2.4"/><circle cx="117.25" cy="161.37" r="2.4"/><circle cx="122.35" cy="158.89" r="2.4"/><circle cx="117.82" cy="159.07" r="2.4"/><circle cx="155.67" cy="155.07" r="2.4"/><circle cx="246.79" cy="69.96" r="2.4"/><circle cx="261.38" cy="65.7" r="2.4"/><circle cx="115.52" cy="156.06" r="2.4"/><circle cx="185.14" cy="127.41" r="2.4"/><circle cx="96.11" cy="177.26" r="2.4"/><circle cx="195.58" cy="116.83" r="2.4"/><circle cx="189.63" cy="123.62" r="2.4"/><circle cx="173.26" cy="153.31" r="2.4"/><circle cx="140.09" cy="138.62" r="2.4"/><circle cx="166.4" cy="119.2" r="2.4"/><circle cx="105.51" cy="163.56" r="2.4"/><circle cx="193.91" cy="108.17" r="2.4"/><circle cx="213.31" cy="88.56" r="2.4"/><circle cx="113.02" cy="157.33" r="2.4"/><circle cx="125.92" cy="139.43" r="2.4"/><circle cx="243.22" cy="108.72" r="2.4"/><circle cx="275.84" cy="57.65" r="2.4"/><circle cx="160.6" cy="113.87" r="2.4"/><circle cx="225.04" cy="107.65" r="2.4"/><circle cx="180.27" cy="141.3" r="2.4"/><circle cx="139.3" cy="151.98" r="2.4"/><circle cx="198.62" cy="116.19" r="2.4"/><circle cx="151.45" cy="162.8" r="2.4"/><circle cx="122.53" cy="144.32" r="2.4"/><circle cx="212.2" cy="103.6" r="2.4"/><circle cx="127.76" cy="156.27" r="2.4"/><circle cx="249.56" cy="81.11" r="2.4"/><circle cx="128.91" cy="152.42" r="2.4"/><circle cx="146.39" cy="135.91" r="2.4"/><circle cx="217.49" cy="104.79" r="2.4"/><circle cx="224.1" cy="113.04" r="2.4"/><circle cx="157.45" cy="135.94" r="2.4"/><circle cx="187.2" cy="117.85" r="2.4"/><circle cx="253.48" cy="69.24" r="2.4"/><circle cx="141.88" cy="157.17" r="2.4"/><circle cx="138.7" cy="147.24" r="2.4"/><circle cx="115.72" cy="157.77" r="2.4"/><circle cx="198.89" cy="124.72" r="2.4"/><circle cx="199.22" cy="108.75" r="2.4"/><circle cx="118.24" cy="160.81" r="2.4"/><circle cx="203.66" cy="94.83" r="2.4"/><circle cx="141.48" cy="132.4" r="2.4"/><circle cx="173" cy="127.6" r="2.4"/><circle cx="180.27" cy="136.43" r="2.4"/><circle cx="183.4" cy="124.46" r="2.4"/><circle cx="178.91" cy="141.68" r="2.4"/><circle cx="157.12" cy="146.08" r="2.4"/><circle cx="200.67" cy="97.87" r="2.4"/><circle cx="130.56" cy="148.03" r="2.4"/><circle cx="231.18" cy="98.98" r="2.4"/><circle cx="155.52" cy="152.09" r="2.4"/><circle cx="212.43" cy="99.48" r="2.4"/><circle cx="187.05" cy="92.6" r="2.4"/><circle cx="164.49" cy="131.44" r="2.4"/><circle cx="167.92" cy="130.76" r="2.4"/><circle cx="174.98" cy="128.11" r="2.4"/><circle cx="159.83" cy="127.67" r="2.4"/><circle cx="180.23" cy="116.61" r="2.4"/><circle cx="168.03" cy="130.13" r="2.4"/><circle cx="225.58" cy="122.04" r="2.4"/><circle cx="137.73" cy="143.58" r="2.4"/><circle cx="208.98" cy="104.46" r="2.4"/><circle cx="158.85" cy="141.51" r="2.4"/><circle cx="227.24" cy="84.38" r="2.4"/><circle cx="222.5" cy="108.73" r="2.4"/><circle cx="111.49" cy="160.16" r="2.4"/><circle cx="247.03" cy="81.88" r="2.4"/><circle cx="219.52" cy="126.5" r="2.4"/><circle cx="193.98" cy="119.68" r="2.4"/><circle cx="127.97" cy="153.45" r="2.4"/><circle cx="223.38" cy="84.79" r="2.4"/><circle cx="184.58" cy="116.19" r="2.4"/><circle cx="133.57" cy="150.68" r="2.4"/><circle cx="191.64" cy="109.52" r="2.4"/><circle cx="117.85" cy="175.95" r="2.4"/><circle cx="200.47" cy="117.92" r="2.4"/><circle cx="128.09" cy="158.7" r="2.4"/><circle cx="143.97" cy="142.95" r="2.4"/><circle cx="102.23" cy="154.59" r="2.4"/><circle cx="153.47" cy="137.72" r="2.4"/><circle cx="186.77" cy="110.38" r="2.4"/><circle cx="194.06" cy="107.11" r="2.4"/><circle cx="159.48" cy="124.94" r="2.4"/><circle cx="140.36" cy="159.39" r="2.4"/><circle cx="114.38" cy="151.95" r="2.4"/><circle cx="151.06" cy="155.61" r="2.4"/><circle cx="213.97" cy="113.61" r="2.4"/><circle cx="249.18" cy="67.67" r="2.4"/><circle cx="244.83" cy="77.36" r="2.4"/><circle cx="112.84" cy="161.93" r="2.4"/><circle cx="118.95" cy="150.88" r="2.4"/><circle cx="152.72" cy="145.21" r="2.4"/><circle cx="179.86" cy="125.69" r="2.4"/><circle cx="107.53" cy="161.44" r="2.4"/><circle cx="113.58" cy="161.15" r="2.4"/><circle cx="221.92" cy="87.49" r="2.4"/><circle cx="162.6" cy="140.45" r="2.4"/><circle cx="215.91" cy="106.3" r="2.4"/><circle cx="200.98" cy="114.73" r="2.4"/><circle cx="211.71" cy="99.03" r="2.4"/><circle cx="160.16" cy="133.38" r="2.4"/><circle cx="247.68" cy="77.25" r="2.4"/><circle cx="118.33" cy="167.81" r="2.4"/><circle cx="138.42" cy="146.98" r="2.4"/><circle cx="191.05" cy="127.2" r="2.4"/><circle cx="136.07" cy="158.49" r="2.4"/><circle cx="224.63" cy="97.42" r="2.4"/><circle cx="221.26" cy="101.58" r="2.4"/><circle cx="215.25" cy="97.14" r="2.4"/><circle cx="233.18" cy="88.3" r="2.4"/><circle cx="191.03" cy="119.68" r="2.4"/><circle cx="126.61" cy="145.71" r="2.4"/><circle cx="147.23" cy="143.36" r="2.4"/><circle cx="95.42" cy="168.41" r="2.4"/><circle cx="156.58" cy="154.51" r="2.4"/><circle cx="191.07" cy="107.47" r="2.4"/><circle cx="200.1" cy="100.3" r="2.4"/><circle cx="202.83" cy="89.51" r="2.4"/><circle cx="137.48" cy="157.42" r="2.4"/><circle cx="245.78" cy="96.26" r="2.4"/><circle cx="177.79" cy="123.64" r="2.4"/><circle cx="130.15" cy="145.18" r="2.4"/><circle cx="250.57" cy="80.41" r="2.4"/><circle cx="196.45" cy="102.51" r="2.4"/><circle cx="197.99" cy="131.91" r="2.4"/><circle cx="186.93" cy="115.26" r="2.4"/><circle cx="92.38" cy="178.37" r="2.4"/><circle cx="178.82" cy="135.35" r="2.4"/><circle cx="203.98" cy="119.69" r="2.4"/><circle cx="195.47" cy="106.39" r="2.4"/><circle cx="131.26" cy="158.36" r="2.4"/><circle cx="167.78" cy="94.84" r="2.4"/><circle cx="204.28" cy="101.12" r="2.4"/><circle cx="239.22" cy="93.76" r="2.4"/><circle cx="133.29" cy="144.57" r="2.4"/><circle cx="181.87" cy="133.06" r="2.4"/><circle cx="110.54" cy="153.05" r="2.4"/><circle cx="125.67" cy="164.05" r="2.4"/><circle cx="154.3" cy="152.31" r="2.4"/><circle cx="100.65" cy="161.7" r="2.4"/><circle cx="150.81" cy="131.87" r="2.4"/><circle cx="231.45" cy="115.02" r="2.4"/><circle cx="143.48" cy="137.53" r="2.4"/><circle cx="122.2" cy="148.99" r="2.4"/><circle cx="115.65" cy="159.8" r="2.4"/><circle cx="178.9" cy="140.32" r="2.4"/><circle cx="157.55" cy="150.39" r="2.4"/><circle cx="189.65" cy="110.73" r="2.4"/><circle cx="157.5" cy="162.16" r="2.4"/><circle cx="175.27" cy="117.27" r="2.4"/><circle cx="157.96" cy="124.35" r="2.4"/><circle cx="141.53" cy="158.94" r="2.4"/><circle cx="98.39" cy="172.21" r="2.4"/><circle cx="140.75" cy="141.43" r="2.4"/><circle cx="207.23" cy="114.05" r="2.4"/><circle cx="149.48" cy="138.99" r="2.4"/><circle cx="212.26" cy="106.61" r="2.4"/><circle cx="106.06" cy="165.09" r="2.4"/><circle cx="201.1" cy="115.3" r="2.4"/><circle cx="221.99" cy="90.82" r="2.4"/><circle cx="135.24" cy="144.89" r="2.4"/><circle cx="154.31" cy="143.67" r="2.4"/><circle cx="138.11" cy="136.37" r="2.4"/><circle cx="162.29" cy="120.66" r="2.4"/><circle cx="244.33" cy="75.38" r="2.4"/><circle cx="200.12" cy="126.71" r="2.4"/><circle cx="115.66" cy="163.77" r="2.4"/><circle cx="197.55" cy="105.34" r="2.4"/><circle cx="219.79" cy="76.99" r="2.4"/><circle cx="224.84" cy="109.68" r="2.4"/><circle cx="244.42" cy="70.85" r="2.4"/><circle cx="213.06" cy="124.66" r="2.4"/><circle cx="138.89" cy="145.22" r="2.4"/><circle cx="208.04" cy="112.48" r="2.4"/><circle cx="195.88" cy="115.92" r="2.4"/><circle cx="159.64" cy="120.08" r="2.4"/><circle cx="231.28" cy="102.48" r="2.4"/><circle cx="98.99" cy="163.7" r="2.4"/><circle cx="172.07" cy="101.16" r="2.4"/><circle cx="234.7" cy="88.61" r="2.4"/><circle cx="175.98" cy="142.7" r="2.4"/><circle cx="154.69" cy="139.72" r="2.4"/><circle cx="116.18" cy="162.26" r="2.4"/><circle cx="127.69" cy="152.2" r="2.4"/><circle cx="138.22" cy="147.44" r="2.4"/><circle cx="178.35" cy="146.4" r="2.4"/><circle cx="144.2" cy="159.03" r="2.4"/><circle cx="235.3" cy="92.62" r="2.4"/><circle cx="187.4" cy="116.55" r="2.4"/><circle cx="142.4" cy="149.52" r="2.4"/><circle cx="193.78" cy="108.64" r="2.4"/><circle cx="102.85" cy="163.99" r="2.4"/><circle cx="174.53" cy="130.28" r="2.4"/><circle cx="175.16" cy="113.27" r="2.4"/><circle cx="110.48" cy="151.82" r="2.4"/><circle cx="194.66" cy="121.92" r="2.4"/><circle cx="102.3" cy="169.17" r="2.4"/><circle cx="128.27" cy="144.95" r="2.4"/><circle cx="207.1" cy="109.13" r="2.4"/><circle cx="157.45" cy="148.03" r="2.4"/><circle cx="203.82" cy="107.44" r="2.4"/><circle cx="177" cy="141.46" r="2.4"/><circle cx="166.26" cy="133.47" r="2.4"/><circle cx="184.74" cy="130.06" r="2.4"/><circle cx="101.55" cy="162.73" r="2.4"/><circle cx="94.52" cy="157.5" r="2.4"/><circle cx="251.01" cy="75.35" r="2.4"/><circle cx="199.09" cy="124.66" r="2.4"/><circle cx="126.81" cy="176.48" r="2.4"/><circle cx="199.56" cy="110.17" r="2.4"/><circle cx="246.54" cy="88.88" r="2.4"/><circle cx="224.26" cy="114.41" r="2.4"/><circle cx="191.91" cy="124.43" r="2.4"/><circle cx="174.98" cy="130.49" r="2.4"/><circle cx="189.12" cy="138.21" r="2.4"/><circle cx="126.63" cy="156.3" r="2.4"/><circle cx="163.72" cy="103.54" r="2.4"/><circle cx="232.61" cy="108.82" r="2.4"/><circle cx="152.02" cy="122.33" r="2.4"/><circle cx="138.62" cy="155.21" r="2.4"/><circle cx="174.36" cy="140.07" r="2.4"/><circle cx="219.58" cy="86.46" r="2.4"/><circle cx="234.08" cy="99.34" r="2.4"/><circle cx="264.7" cy="76.54" r="2.4"/><circle cx="116.16" cy="157.13" r="2.4"/><circle cx="165.09" cy="142.31" r="2.4"/><circle cx="178.9" cy="129.31" r="2.4"/><circle cx="197.26" cy="134.43" r="2.4"/><circle cx="116.64" cy="170.31" r="2.4"/><circle cx="152.18" cy="147.65" r="2.4"/><circle cx="153.89" cy="157.11" r="2.4"/><circle cx="186.91" cy="127.32" r="2.4"/><circle cx="152.88" cy="134.33" r="2.4"/><circle cx="145.33" cy="147.4" r="2.4"/><circle cx="127.16" cy="146.72" r="2.4"/><circle cx="195.04" cy="123.93" r="2.4"/><circle cx="144.41" cy="142.28" r="2.4"/><circle cx="129.77" cy="155.9" r="2.4"/><circle cx="241.93" cy="77.02" r="2.4"/><circle cx="155.06" cy="153.24" r="2.4"/><circle cx="141.18" cy="147.98" r="2.4"/><circle cx="113.71" cy="153.31" r="2.4"/><circle cx="174.2" cy="129.76" r="2.4"/><circle cx="148.96" cy="143.81" r="2.4"/><circle cx="183.63" cy="128.45" r="2.4"/><circle cx="144.7" cy="160.52" r="2.4"/><circle cx="167" cy="142.45" r="2.4"/><circle cx="119.02" cy="164.97" r="2.4"/><circle cx="109.49" cy="155.7" r="2.4"/><circle cx="249.15" cy="80.17" r="2.4"/><circle cx="206" cy="119.81" r="2.4"/><circle cx="159.99" cy="130.09" r="2.4"/><circle cx="129" cy="150.79" r="2.4"/><circle cx="195.12" cy="134.18" r="2.4"/><circle cx="186.25" cy="107.78" r="2.4"/><circle cx="188.86" cy="116.59" r="2.4"/><circle cx="274.79" cy="12.84" r="2.4"/><circle cx="150.59" cy="133.64" r="2.4"/><circle cx="247.37" cy="102.88" r="2.4"/><circle cx="161.93" cy="125.88" r="2.4"/><circle cx="272.55" cy="52.3" r="2.4"/><circle cx="270.4" cy="65.01" r="2.4"/><circle cx="159.35" cy="138.04" r="2.4"/><circle cx="171.22" cy="126.63" r="2.4"/><circle cx="237.36" cy="94.9" r="2.4"/><circle cx="236.76" cy="102.78" r="2.4"/><circle cx="114.41" cy="154.77" r="2.4"/><circle cx="172.08" cy="128.23" r="2.4"/><circle cx="114.79" cy="176.08" r="2.4"/><circle cx="226.2" cy="83.47" r="2.4"/><circle cx="138.95" cy="151.31" r="2.4"/><circle cx="147.28" cy="128.93" r="2.4"/><circle cx="145.94" cy="136.32" r="2.4"/><circle cx="203.49" cy="115.21" r="2.4"/><circle cx="146.5" cy="138.07" r="2.4"/><circle cx="162.99" cy="146.64" r="2.4"/><circle cx="232.11" cy="88.88" r="2.4"/><circle cx="162.89" cy="169.96" r="2.4"/><circle cx="243.88" cy="96.51" r="2.4"/><circle cx="243.64" cy="85.9" r="2.4"/><circle cx="164.88" cy="91.13" r="2.4"/><circle cx="133.58" cy="145.58" r="2.4"/><circle cx="251.17" cy="55.69" r="2.4"/><circle cx="179.71" cy="113.64" r="2.4"/><circle cx="150.92" cy="148.22" r="2.4"/><circle cx="109.04" cy="163.57" r="2.4"/><circle cx="166.25" cy="139.3" r="2.4"/><circle cx="104.7" cy="165.18" r="2.4"/><circle cx="189.77" cy="137.14" r="2.4"/><circle cx="156.47" cy="154.18" r="2.4"/><circle cx="141.96" cy="133.8" r="2.4"/><circle cx="131.86" cy="149.85" r="2.4"/><circle cx="209.69" cy="117.82" r="2.4"/><circle cx="238.49" cy="83.92" r="2.4"/><circle cx="97.74" cy="165.87" r="2.4"/><circle cx="175.64" cy="129.18" r="2.4"/><circle cx="111.93" cy="163.85" r="2.4"/><circle cx="104.85" cy="174.93" r="2.4"/><circle cx="145.03" cy="145.36" r="2.4"/><circle cx="176.23" cy="126.88" r="2.4"/><circle cx="239.52" cy="59.03" r="2.4"/><circle cx="192.01" cy="118.45" r="2.4"/><circle cx="150.1" cy="140.93" r="2.4"/><circle cx="200.91" cy="96.45" r="2.4"/><circle cx="214.18" cy="93.24" r="2.4"/><circle cx="192.51" cy="139.22" r="2.4"/><circle cx="155.34" cy="143.16" r="2.4"/><circle cx="209.48" cy="116.22" r="2.4"/><circle cx="153.48" cy="157.23" r="2.4"/><circle cx="151.89" cy="135.47" r="2.4"/><circle cx="140.54" cy="131.86" r="2.4"/><circle cx="271.62" cy="50.71" r="2.4"/><circle cx="117.79" cy="174.54" r="2.4"/><circle cx="107.97" cy="163.67" r="2.4"/><circle cx="142.07" cy="149.35" r="2.4"/><circle cx="118.36" cy="163.17" r="2.4"/><circle cx="152.48" cy="129.69" r="2.4"/><circle cx="251.25" cy="73.53" r="2.4"/><circle cx="255.31" cy="66.69" r="2.4"/><circle cx="133.05" cy="153.76" r="2.4"/><circle cx="142.54" cy="139.31" r="2.4"/><circle cx="157.52" cy="143.71" r="2.4"/><circle cx="256.23" cy="89.84" r="2.4"/><circle cx="138.24" cy="149.25" r="2.4"/><circle cx="210.66" cy="112.38" r="2.4"/><circle cx="191.55" cy="134.54" r="2.4"/><circle cx="233.48" cy="118.37" r="2.4"/><circle cx="139.91" cy="156.73" r="2.4"/><circle cx="247.25" cy="87.79" r="2.4"/><circle cx="156.7" cy="150.27" r="2.4"/><circle cx="250.07" cy="93.12" r="2.4"/><circle cx="205.63" cy="109.71" r="2.4"/><circle cx="132.71" cy="139.5" r="2.4"/><circle cx="163.09" cy="153.34" r="2.4"/><circle cx="136.26" cy="154.25" r="2.4"/><circle cx="239.51" cy="63.99" r="2.4"/><circle cx="133.28" cy="138.84" r="2.4"/><circle cx="233.07" cy="103.04" r="2.4"/><circle cx="139.92" cy="175.19" r="2.4"/><circle cx="236.55" cy="93.22" r="2.4"/><circle cx="215.97" cy="106.69" r="2.4"/><circle cx="205.72" cy="95.49" r="2.4"/><circle cx="138.76" cy="142.47" r="2.4"/><circle cx="203.18" cy="111.09" r="2.4"/><circle cx="189.74" cy="134.81" r="2.4"/><circle cx="149.85" cy="140.53" r="2.4"/><circle cx="260" cy="83.75" r="2.4"/><circle cx="193.62" cy="119.76" r="2.4"/><circle cx="240.86" cy="64.4" r="2.4"/><circle cx="147.99" cy="119" r="2.4"/><circle cx="124.88" cy="144.05" r="2.4"/><circle cx="148.07" cy="171.95" r="2.4"/><circle cx="181.24" cy="118.31" r="2.4"/><circle cx="239.19" cy="104.05" r="2.4"/><circle cx="224.64" cy="93.32" r="2.4"/><circle cx="134.86" cy="138.78" r="2.4"/><circle cx="220.64" cy="91.85" r="2.4"/><circle cx="234.78" cy="105.64" r="2.4"/><circle cx="183.43" cy="133.74" r="2.4"/><circle cx="170.71" cy="123.98" r="2.4"/><circle cx="167.1" cy="122.51" r="2.4"/><circle cx="128.74" cy="159.62" r="2.4"/><circle cx="137.22" cy="155.3" r="2.4"/><circle cx="172.35" cy="132.96" r="2.4"/><circle cx="173.15" cy="136.55" r="2.4"/><circle cx="175.82" cy="112.01" r="2.4"/><circle cx="163.81" cy="118.86" r="2.4"/><circle cx="226.83" cy="79.58" r="2.4"/><circle cx="124.52" cy="162.01" r="2.4"/><circle cx="126.01" cy="163.91" r="2.4"/><circle cx="248.71" cy="86.12" r="2.4"/><circle cx="183.72" cy="119.03" r="2.4"/><circle cx="188.41" cy="112.14" r="2.4"/><circle cx="167.35" cy="129.92" r="2.4"/><circle cx="161.19" cy="140.23" r="2.4"/><circle cx="150.26" cy="138.1" r="2.4"/><circle cx="176.22" cy="121.62" r="2.4"/><circle cx="222.29" cy="102.3" r="2.4"/><circle cx="106.47" cy="167.9" r="2.4"/><circle cx="252.78" cy="71.59" r="2.4"/><circle cx="127.67" cy="143.22" r="2.4"/><circle cx="169.86" cy="127.11" r="2.4"/><circle cx="222.37" cy="111.92" r="2.4"/><circle cx="119.65" cy="159.55" r="2.4"/><circle cx="193.23" cy="114.54" r="2.4"/><circle cx="186.68" cy="124.53" r="2.4"/><circle cx="179.17" cy="130.27" r="2.4"/><circle cx="222.93" cy="105.52" r="2.4"/><circle cx="119.25" cy="166.69" r="2.4"/><circle cx="131.96" cy="151.12" r="2.4"/><circle cx="242.04" cy="85.23" r="2.4"/><circle cx="256" cy="72.34" r="2.4"/><circle cx="118.45" cy="165.62" r="2.4"/><circle cx="196.16" cy="111.15" r="2.4"/><circle cx="114.75" cy="150.86" r="2.4"/><circle cx="249.59" cy="94.74" r="2.4"/><circle cx="253.31" cy="74.57" r="2.4"/><circle cx="199.22" cy="113.54" r="2.4"/><circle cx="168.5" cy="129.46" r="2.4"/><circle cx="193.39" cy="107.66" r="2.4"/><circle cx="180.02" cy="131.14" r="2.4"/><circle cx="221.91" cy="87.87" r="2.4"/><circle cx="223.53" cy="87.28" r="2.4"/><circle cx="229.28" cy="99.81" r="2.4"/><circle cx="224.52" cy="90.37" r="2.4"/><circle cx="132.05" cy="142.45" r="2.4"/><circle cx="129.92" cy="140.76" r="2.4"/><circle cx="200.15" cy="113.98" r="2.4"/><circle cx="178.76" cy="117.23" r="2.4"/><circle cx="267.43" cy="61.86" r="2.4"/><circle cx="108.54" cy="165.48" r="2.4"/><circle cx="157.78" cy="103.76" r="2.4"/><circle cx="230.72" cy="82.03" r="2.4"/><circle cx="164.12" cy="128.64" r="2.4"/><circle cx="119.84" cy="158.35" r="2.4"/><circle cx="146.98" cy="143.47" r="2.4"/><circle cx="263.25" cy="69.12" r="2.4"/><circle cx="212.16" cy="80.67" r="2.4"/><circle cx="224.73" cy="101.12" r="2.4"/><circle cx="137.58" cy="146.95" r="2.4"/><circle cx="217.67" cy="89.97" r="2.4"/><circle cx="96.03" cy="166.59" r="2.4"/><circle cx="131.83" cy="142.61" r="2.4"/><circle cx="189.58" cy="114.31" r="2.4"/><circle cx="194.38" cy="112.45" r="2.4"/><circle cx="165.06" cy="135.61" r="2.4"/><circle cx="261.31" cy="109.15" r="2.4"/><circle cx="152.97" cy="134.02" r="2.4"/><circle cx="139.25" cy="144.78" r="2.4"/><circle cx="129.67" cy="148.23" r="2.4"/><circle cx="208.02" cy="103.54" r="2.4"/><circle cx="220.27" cy="109.93" r="2.4"/><circle cx="221.85" cy="97.55" r="2.4"/><circle cx="189.04" cy="134.13" r="2.4"/><circle cx="104.77" cy="167.16" r="2.4"/><circle cx="159.23" cy="151.57" r="2.4"/><circle cx="124.5" cy="159.01" r="2.4"/><circle cx="140.79" cy="139.05" r="2.4"/><circle cx="103.29" cy="160.14" r="2.4"/><circle cx="199.69" cy="120.24" r="2.4"/><circle cx="136.16" cy="158.37" r="2.4"/><circle cx="180.41" cy="115.6" r="2.4"/><circle cx="263.19" cy="66.28" r="2.4"/><circle cx="134.13" cy="142.81" r="2.4"/><circle cx="141.18" cy="131.38" r="2.4"/><circle cx="137.03" cy="142.92" r="2.4"/><circle cx="110.13" cy="175.76" r="2.4"/><circle cx="181.08" cy="145.55" r="2.4"/><circle cx="178.87" cy="108.95" r="2.4"/><circle cx="185.69" cy="135.58" r="2.4"/><circle cx="263.72" cy="84.9" r="2.4"/><circle cx="182.42" cy="127.55" r="2.4"/><circle cx="187.28" cy="124.67" r="2.4"/><circle cx="236.2" cy="82.31" r="2.4"/><circle cx="232.25" cy="104.06" r="2.4"/><circle cx="174.8" cy="138.29" r="2.4"/><circle cx="186.68" cy="107.08" r="2.4"/><circle cx="152.59" cy="153.83" r="2.4"/><circle cx="171.08" cy="105.09" r="2.4"/><circle cx="168.98" cy="147.83" r="2.4"/><circle cx="175.75" cy="126.91" r="2.4"/><circle cx="134.11" cy="140.16" r="2.4"/><circle cx="185.94" cy="119.85" r="2.4"/><circle cx="140.88" cy="162.15" r="2.4"/><circle cx="144.66" cy="148.73" r="2.4"/><circle cx="144.1" cy="136.81" r="2.4"/><circle cx="214.49" cy="109.3" r="2.4"/><circle cx="110.75" cy="178.39" r="2.4"/><circle cx="124.19" cy="173.05" r="2.4"/><circle cx="188.53" cy="113.39" r="2.4"/><circle cx="133.63" cy="145.22" r="2.4"/><circle cx="198.28" cy="112.67" r="2.4"/><circle cx="228.28" cy="119.22" r="2.4"/><circle cx="162" cy="121.3" r="2.4"/><circle cx="166.94" cy="119.67" r="2.4"/><circle cx="184.27" cy="126.54" r="2.4"/><circle cx="152.46" cy="136.31" r="2.4"/><circle cx="133.32" cy="157.46" r="2.4"/><circle cx="226.7" cy="75.87" r="2.4"/><circle cx="200.47" cy="116.41" r="2.4"/><circle cx="144.75" cy="158.22" r="2.4"/><circle cx="172.27" cy="134.39" r="2.4"/><circle cx="120.32" cy="154.04" r="2.4"/><circle cx="213.13" cy="104.24" r="2.4"/><circle cx="238.68" cy="88.39" r="2.4"/><circle cx="204.92" cy="118.5" r="2.4"/><circle cx="202.41" cy="109.98" r="2.4"/><circle cx="119.28" cy="160.91" r="2.4"/><circle cx="241.83" cy="83.31" r="2.4"/><circle cx="185.13" cy="123.13" r="2.4"/><circle cx="237.67" cy="89.98" r="2.4"/><circle cx="207.93" cy="117.29" r="2.4"/><circle cx="235.66" cy="68.01" r="2.4"/><circle cx="218.74" cy="129.2" r="2.4"/><circle cx="205.46" cy="103.99" r="2.4"/><circle cx="185.77" cy="109.44" r="2.4"/><circle cx="140.21" cy="163.08" r="2.4"/><circle cx="136.3" cy="165.98" r="2.4"/><circle cx="243.08" cy="70.98" r="2.4"/><circle cx="216.79" cy="74.21" r="2.4"/><circle cx="136.47" cy="138.98" r="2.4"/><circle cx="115.65" cy="166.06" r="2.4"/><circle cx="232.75" cy="100.54" r="2.4"/><circle cx="99.58" cy="170.63" r="2.4"/><circle cx="189.34" cy="129.51" r="2.4"/><circle cx="201.76" cy="115.89" r="2.4"/><circle cx="160.75" cy="130.34" r="2.4"/><circle cx="242.66" cy="92" r="2.4"/><circle cx="192.58" cy="112.1" r="2.4"/><circle cx="199.21" cy="92.67" r="2.4"/><circle cx="179.7" cy="130.14" r="2.4"/><circle cx="112.27" cy="157.98" r="2.4"/><circle cx="233.91" cy="108.42" r="2.4"/><circle cx="117.49" cy="159.57" r="2.4"/><circle cx="139.75" cy="138.18" r="2.4"/><circle cx="192.93" cy="96.69" r="2.4"/><circle cx="198.18" cy="129.24" r="2.4"/><circle cx="246.45" cy="78.65" r="2.4"/><circle cx="254.42" cy="75.58" r="2.4"/><circle cx="245.07" cy="85.87" r="2.4"/><circle cx="215.42" cy="115.78" r="2.4"/><circle cx="154.68" cy="139.92" r="2.4"/><circle cx="204.29" cy="109.28" r="2.4"/><circle cx="122.86" cy="164.21" r="2.4"/><circle cx="146.59" cy="152.39" r="2.4"/><circle cx="191.6" cy="139.29" r="2.4"/><circle cx="247.54" cy="77.34" r="2.4"/><circle cx="124.33" cy="160.84" r="2.4"/><circle cx="185.65" cy="111.26" r="2.4"/><circle cx="126.84" cy="168.16" r="2.4"/><circle cx="201.61" cy="116.72" r="2.4"/><circle cx="246.94" cy="78.61" r="2.4"/><circle cx="162.36" cy="135.34" r="2.4"/><circle cx="100.82" cy="170.7" r="2.4"/><circle cx="147.76" cy="137.8" r="2.4"/><circle cx="113.18" cy="168.74" r="2.4"/><circle cx="165.33" cy="127.96" r="2.4"/><circle cx="217.55" cy="102.52" r="2.4"/><circle cx="278.47" cy="57.17" r="2.4"/><circle cx="140.08" cy="157.5" r="2.4"/><circle cx="121.97" cy="163.35" r="2.4"/><circle cx="107.02" cy="168.52" r="2.4"/><circle cx="144.24" cy="144.41" r="2.4"/><circle cx="137.25" cy="155.37" r="2.4"/><circle cx="130.13" cy="166.25" r="2.4"/><circle cx="234.71" cy="85.02" r="2.4"/><circle cx="141.19" cy="147.03" r="2.4"/><circle cx="123.31" cy="153.07" r="2.4"/><circle cx="122.21" cy="153.59" r="2.4"/><circle cx="204.54" cy="80.26" r="2.4"/><circle cx="161.48" cy="133.09" r="2.4"/><circle cx="155.54" cy="137.48" r="2.4"/><circle cx="201.31" cy="104.27" r="2.4"/><circle cx="190.46" cy="108.71" r="2.4"/><circle cx="165.96" cy="131.31" r="2.4"/><circle cx="188.71" cy="114.35" r="2.4"/><circle cx="144.33" cy="150.31" r="2.4"/><circle cx="161.72" cy="123.19" r="2.4"/><circle cx="196.96" cy="115.79" r="2.4"/><circle cx="101.94" cy="180.17" r="2.4"/><circle cx="158.37" cy="133.47" r="2.4"/><circle cx="154.7" cy="143.82" r="2.4"/><circle cx="146.41" cy="148.35" r="2.4"/><circle cx="171.54" cy="123.22" r="2.4"/><circle cx="198.94" cy="142.31" r="2.4"/><circle cx="206.73" cy="125.4" r="2.4"/><circle cx="212.01" cy="107.52" r="2.4"/><circle cx="188.77" cy="132.89" r="2.4"/><circle cx="100.22" cy="164.73" r="2.4"/><circle cx="135.68" cy="146.67" r="2.4"/><circle cx="195.79" cy="119.79" r="2.4"/><circle cx="117.49" cy="152.11" r="2.4"/><circle cx="182.92" cy="145.81" r="2.4"/><circle cx="100.16" cy="166.95" r="2.4"/><circle cx="224.67" cy="87.53" r="2.4"/><circle cx="124.48" cy="142.31" r="2.4"/><circle cx="162.1" cy="132.9" r="2.4"/><circle cx="117.96" cy="148.68" r="2.4"/><circle cx="125.82" cy="150.94" r="2.4"/><circle cx="167.25" cy="134.69" r="2.4"/><circle cx="174.47" cy="123.78" r="2.4"/><circle cx="229.84" cy="68.83" r="2.4"/><circle cx="130.16" cy="131.64" r="2.4"/><circle cx="234.1" cy="90" r="2.4"/><circle cx="134.31" cy="146.46" r="2.4"/><circle cx="156.37" cy="138.25" r="2.4"/><circle cx="261.43" cy="99.51" r="2.4"/><circle cx="173.4" cy="134.16" r="2.4"/><circle cx="136.77" cy="148.96" r="2.4"/><circle cx="164.69" cy="144.24" r="2.4"/><circle cx="221.44" cy="102.65" r="2.4"/><circle cx="231.39" cy="107.86" r="2.4"/><circle cx="116.85" cy="160.85" r="2.4"/><circle cx="173.61" cy="120.35" r="2.4"/><circle cx="153.75" cy="142.31" r="2.4"/><circle cx="112.69" cy="154.15" r="2.4"/><circle cx="162.77" cy="139.67" r="2.4"/><circle cx="142.44" cy="155.51" r="2.4"/><circle cx="206.66" cy="105.52" r="2.4"/><circle cx="100.44" cy="174.92" r="2.4"/><circle cx="164.65" cy="141.75" r="2.4"/><circle cx="149.41" cy="146.27" r="2.4"/><circle cx="160.15" cy="147.8" r="2.4"/><circle cx="161.92" cy="133.49" r="2.4"/><circle cx="275.73" cy="63.62" r="2.4"/><circle cx="198.4" cy="104.4" r="2.4"/><circle cx="155.01" cy="133.5" r="2.4"/><circle cx="148.39" cy="143.26" r="2.4"/><circle cx="162.42" cy="144.29" r="2.4"/><circle cx="249.44" cy="92.89" r="2.4"/><circle cx="185.35" cy="120.37" r="2.4"/><circle cx="258.33" cy="75.87" r="2.4"/><circle cx="129.88" cy="130.76" r="2.4"/><circle cx="174.4" cy="122.44" r="2.4"/><circle cx="203.89" cy="95.47" r="2.4"/><circle cx="221.96" cy="109.45" r="2.4"/><circle cx="115.58" cy="159.49" r="2.4"/><circle cx="158.05" cy="144.29" r="2.4"/><circle cx="231.77" cy="123.54" r="2.4"/><circle cx="187.81" cy="118.13" r="2.4"/><circle cx="120.94" cy="160.92" r="2.4"/><circle cx="160.11" cy="140.51" r="2.4"/><circle cx="171.65" cy="128.68" r="2.4"/><circle cx="93.21" cy="163.22" r="2.4"/><circle cx="160.17" cy="136.2" r="2.4"/><circle cx="167.7" cy="117.93" r="2.4"/><circle cx="263.64" cy="78.65" r="2.4"/><circle cx="173.96" cy="122.59" r="2.4"/><circle cx="175.26" cy="134.01" r="2.4"/><circle cx="111.69" cy="164.32" r="2.4"/><circle cx="105.25" cy="158.9" r="2.4"/><circle cx="165.68" cy="129.66" r="2.4"/><circle cx="190.28" cy="114.05" r="2.4"/><circle cx="131.65" cy="152.44" r="2.4"/><circle cx="181.95" cy="118.4" r="2.4"/><circle cx="114.39" cy="150.75" r="2.4"/><circle cx="139.51" cy="139.75" r="2.4"/><circle cx="174.48" cy="132.72" r="2.4"/><circle cx="144.19" cy="138.1" r="2.4"/><circle cx="163.53" cy="138.76" r="2.4"/><circle cx="202.55" cy="106.34" r="2.4"/><circle cx="126.08" cy="149.2" r="2.4"/><circle cx="193.98" cy="100.22" r="2.4"/><circle cx="262.85" cy="62.9" r="2.4"/><circle cx="221.92" cy="103.66" r="2.4"/><circle cx="153.73" cy="153.76" r="2.4"/><circle cx="191.49" cy="140.3" r="2.4"/><circle cx="116.85" cy="159.52" r="2.4"/><circle cx="203.97" cy="119.92" r="2.4"/><circle cx="208.22" cy="94.46" r="2.4"/><circle cx="132.07" cy="150.53" r="2.4"/><circle cx="154.39" cy="140.44" r="2.4"/><circle cx="186.52" cy="121.83" r="2.4"/><circle cx="194.34" cy="87.5" r="2.4"/><circle cx="188.79" cy="110.43" r="2.4"/><circle cx="208.32" cy="101" r="2.4"/><circle cx="227.05" cy="84.36" r="2.4"/><circle cx="167.05" cy="157.36" r="2.4"/><circle cx="100.09" cy="172.77" r="2.4"/><circle cx="218.37" cy="87.73" r="2.4"/><circle cx="116.36" cy="151.67" r="2.4"/><circle cx="175.7" cy="137.58" r="2.4"/><circle cx="202.7" cy="144.76" r="2.4"/><circle cx="218.57" cy="114.67" r="2.4"/><circle cx="175.75" cy="123.76" r="2.4"/><circle cx="190.65" cy="121.69" r="2.4"/><circle cx="264.85" cy="52.08" r="2.4"/><circle cx="211.95" cy="108.36" r="2.4"/><circle cx="140.95" cy="147.94" r="2.4"/><circle cx="249.75" cy="73.18" r="2.4"/><circle cx="197.3" cy="115.68" r="2.4"/><circle cx="143.46" cy="150.45" r="2.4"/><circle cx="139.8" cy="156.63" r="2.4"/><circle cx="163.27" cy="138.53" r="2.4"/><circle cx="172.75" cy="131.71" r="2.4"/><circle cx="225.87" cy="86.36" r="2.4"/><circle cx="165.22" cy="133.37" r="2.4"/><circle cx="202.31" cy="117.63" r="2.4"/><circle cx="148.09" cy="160.99" r="2.4"/><circle cx="166.98" cy="139.09" r="2.4"/><circle cx="146.58" cy="142.77" r="2.4"/><circle cx="156.12" cy="141.42" r="2.4"/><circle cx="200.47" cy="98.4" r="2.4"/><circle cx="287" cy="11.4" r="2.4"/><circle cx="293.7" cy="9.7" r="2.4"/><circle cx="282.6" cy="19.2" r="2.4"/><circle cx="280.4" cy="33.6" r="2.4"/><circle cx="290.3" cy="31.4" r="2.4"/><circle cx="298.1" cy="27" r="2.4"/><circle cx="297" cy="29.2" r="2.4"/><circle cx="308.7" cy="19.2" r="2.4"/><circle cx="307" cy="29.2" r="2.4"/><circle cx="309.2" cy="35.4" r="2.4"/><circle cx="311" cy="40.2" r="2.4"/><circle cx="314" cy="39.8" r="2.4"/><circle cx="316.3" cy="46.4" r="2.4"/><circle cx="307" cy="46.4" r="2.4"/><circle cx="324.2" cy="23.6" r="2.4"/><circle cx="291.4" cy="38" r="2.4"/><circle cx="294.8" cy="42.9" r="2.4"/><circle cx="290.3" cy="46.9" r="2.4"/><circle cx="285.9" cy="50.2" r="2.4"/><circle cx="295.9" cy="53.1" r="2.4"/><circle cx="297" cy="58.4" r="2.4"/><circle cx="282.6" cy="52.4" r="2.4"/><circle cx="279.3" cy="54.6" r="2.4"/><circle cx="290.3" cy="66.4" r="2.4"/><circle cx="282.1" cy="59.7" r="2.4"/><circle cx="284.8" cy="56.8" r="2.4"/><circle cx="295.4" cy="62.8" r="2.4"/><circle cx="282.1" cy="63.4" r="2.4"/><circle cx="280.4" cy="60.5" r="2.4"/><circle cx="282.1" cy="82.7" r="2.4"/><circle cx="85.1" cy="167.6" r="2.4"/><circle cx="84.1" cy="173.6" r="2.4"/><circle cx="90.6" cy="149.3" r="2.4"/><circle cx="159.9" cy="69.5" r="2.4"/><circle cx="175.4" cy="69.5" r="2.4"/><circle cx="174.2" cy="84.3" r="2.4"/><circle cx="184.2" cy="82.1" r="2.4"/><circle cx="193.1" cy="84.3" r="2.4"/><circle cx="145.5" cy="95.4" r="2.4"/><circle cx="151" cy="96.5" r="2.4"/><circle cx="142.2" cy="106.4" r="2.4"/><circle cx="146.6" cy="107.1" r="2.4"/><circle cx="163.2" cy="92" r="2.4"/><circle cx="206.3" cy="57.7" r="2.4"/><circle cx="214.1" cy="57.7" r="2.4"/><circle cx="220.7" cy="61.1" r="2.4"/><circle cx="227.3" cy="52.2" r="2.4"/><circle cx="245.2" cy="129.1" r="2.4"/><circle cx="250.4" cy="133" r="2.4"/><circle cx="242.6" cy="118.8" r="2.4"/><circle cx="249.1" cy="112.3" r="2.4"/><circle cx="254.3" cy="107.1" r="2.4"/><circle cx="259.4" cy="105.8" r="2.4"/><circle cx="263.3" cy="100.7" r="2.4"/><circle cx="264.6" cy="105.8" r="2.4"/><circle cx="273.6" cy="100.2" r="2.4"/><circle cx="274.9" cy="85.7" r="2.4"/><circle cx="265.9" cy="81.3" r="2.4"/><circle cx="256.8" cy="92.9" r="2.4"/><circle cx="209" cy="144.1" r="2.4"/><circle cx="212.9" cy="140" r="2.4"/></g><g clip-path="url(#ca)"><line x1="46.5" y1="232.6" x2="325.6" y2="7.6" stroke="#000" stroke-width="1.25"/><line x1="46.5" y1="219.55" x2="309.41" y2="7.6" stroke="#d42030" stroke-width="1.35" stroke-dasharray="6.1 5.5"/><line x1="62.69" y1="232.6" x2="325.6" y2="20.65" stroke="#d42030" stroke-width="1.35" stroke-dasharray="6.1 5.5" stroke-dashoffset="-1.15"/></g><path d="M46.5 7.8H325.6V233.2H46.5Z" fill="none" stroke="#4a4a4a" stroke-width="1.3"/><path d="M74.41 233.2v-2.4M46.5 210.1h2.3M102.32 233.2v-4.4M46.5 187.6h4.3M130.23 233.2v-2.4M46.5 165.1h2.3M158.14 233.2v-4.4M46.5 142.6h4.3M186.05 233.2v-2.4M46.5 120.1h2.3M213.96 233.2v-4.4M46.5 97.6h4.3M241.87 233.2v-2.4M46.5 75.1h2.3M269.78 233.2v-4.4M46.5 52.6h4.3M297.69 233.2v-2.4M46.5 30.1h2.3" stroke="#3a3a3a" stroke-width="1.2" fill="none"/><text transform="translate(25.45 255) scale(0.97 1)" font-size="15.5">10</text><text x="40.85" y="244.8" font-size="11.2">−7</text><text transform="translate(19.95 241.8) scale(0.97 1)" font-size="15.5">10</text><text x="30.75" y="232.1" font-size="11.2">−7</text><text transform="translate(80.89 255) scale(0.97 1)" font-size="15.5">10</text><text x="96.67" y="244.8" font-size="11.2">−6</text><text transform="translate(19.95 197.4) scale(0.97 1)" font-size="15.5">10</text><text x="30.75" y="187.1" font-size="11.2">−6</text><text transform="translate(136.33 255) scale(0.97 1)" font-size="15.5">10</text><text x="152.49" y="244.8" font-size="11.2">−5</text><text transform="translate(19.95 153) scale(0.97 1)" font-size="15.5">10</text><text x="30.75" y="142.1" font-size="11.2">−5</text><text transform="translate(191.77 255) scale(0.97 1)" font-size="15.5">10</text><text x="208.31" y="244.8" font-size="11.2">−4</text><text transform="translate(19.95 108.6) scale(0.97 1)" font-size="15.5">10</text><text x="30.75" y="97.1" font-size="11.2">−4</text><text transform="translate(247.21 255) scale(0.97 1)" font-size="15.5">10</text><text x="264.13" y="244.8" font-size="11.2">−3</text><text transform="translate(19.95 64.2) scale(0.97 1)" font-size="15.5">10</text><text x="30.75" y="52.1" font-size="11.2">−3</text><text transform="translate(302.65 255) scale(0.97 1)" font-size="15.5">10</text><text x="319.95" y="244.8" font-size="11.2">−2</text><text transform="translate(19.95 19.8) scale(0.97 1)" font-size="15.5">10</text><text x="30.75" y="7.1" font-size="11.2">−2</text><text x="185.25" y="270.9" font-size="14.6" text-anchor="middle">True MDR</text><text transform="translate(13.8 129.1) rotate(-90)" font-size="15.2" text-anchor="middle">Predicted MDR</text><clipPath id="cb"><rect x="400.3" y="7.6" width="278.3" height="225.0"/></clipPath><g clip-path="url(#cb)" fill="#0d6fbe" fill-opacity="0.56"><circle cx="561.18" cy="105.01" r="2.4"/><circle cx="538.29" cy="121.1" r="2.4"/><circle cx="551.39" cy="115.23" r="2.4"/><circle cx="473.2" cy="162.85" r="2.4"/><circle cx="541.42" cy="151.68" r="2.4"/><circle cx="515.31" cy="142.25" r="2.4"/><circle cx="476.13" cy="155.89" r="2.4"/><circle cx="547.12" cy="113.83" r="2.4"/><circle cx="486.81" cy="153.49" r="2.4"/><circle cx="546.63" cy="103.61" r="2.4"/><circle cx="488.36" cy="152.79" r="2.4"/><circle cx="573.23" cy="96.36" r="2.4"/><circle cx="550.01" cy="110.74" r="2.4"/><circle cx="489.9" cy="142.63" r="2.4"/><circle cx="485.25" cy="151.18" r="2.4"/><circle cx="504.86" cy="119.07" r="2.4"/><circle cx="517.57" cy="170.51" r="2.4"/><circle cx="544.62" cy="113.57" r="2.4"/><circle cx="517.44" cy="124.47" r="2.4"/><circle cx="449.65" cy="172.02" r="2.4"/><circle cx="494.76" cy="149.81" r="2.4"/><circle cx="521.46" cy="135.22" r="2.4"/><circle cx="558.3" cy="122.72" r="2.4"/><circle cx="538.36" cy="120.33" r="2.4"/><circle cx="516.16" cy="146.47" r="2.4"/><circle cx="486.04" cy="151.73" r="2.4"/><circle cx="561.71" cy="101.28" r="2.4"/><circle cx="485.55" cy="146.62" r="2.4"/><circle cx="553.19" cy="99.87" r="2.4"/><circle cx="524.63" cy="128.41" r="2.4"/><circle cx="531.53" cy="123.39" r="2.4"/><circle cx="510.34" cy="142.79" r="2.4"/><circle cx="487.54" cy="153.65" r="2.4"/><circle cx="483.36" cy="149.35" r="2.4"/><circle cx="542.78" cy="113.16" r="2.4"/><circle cx="496.76" cy="144.63" r="2.4"/><circle cx="459.34" cy="163.79" r="2.4"/><circle cx="486.24" cy="146.58" r="2.4"/><circle cx="588.21" cy="100.45" r="2.4"/><circle cx="551.63" cy="121.34" r="2.4"/><circle cx="535.06" cy="123.87" r="2.4"/><circle cx="512.56" cy="129.35" r="2.4"/><circle cx="566.93" cy="117.54" r="2.4"/><circle cx="495.13" cy="157.41" r="2.4"/><circle cx="541.72" cy="134.65" r="2.4"/><circle cx="458.44" cy="160.41" r="2.4"/><circle cx="543.31" cy="112.6" r="2.4"/><circle cx="551.21" cy="91.62" r="2.4"/><circle cx="471.62" cy="166.96" r="2.4"/><circle cx="536.48" cy="127.19" r="2.4"/><circle cx="501.88" cy="150.14" r="2.4"/><circle cx="587.8" cy="100.34" r="2.4"/><circle cx="460.68" cy="163.1" r="2.4"/><circle cx="458.39" cy="166.76" r="2.4"/><circle cx="474.09" cy="158.15" r="2.4"/><circle cx="504.71" cy="147.05" r="2.4"/><circle cx="578.91" cy="111.06" r="2.4"/><circle cx="533.1" cy="121.32" r="2.4"/><circle cx="545.41" cy="113.75" r="2.4"/><circle cx="466.68" cy="163.85" r="2.4"/><circle cx="484" cy="181.83" r="2.4"/><circle cx="509.93" cy="161.55" r="2.4"/><circle cx="541.05" cy="136.87" r="2.4"/><circle cx="556.93" cy="107.56" r="2.4"/><circle cx="534.37" cy="119.81" r="2.4"/><circle cx="497.18" cy="147.59" r="2.4"/><circle cx="484.58" cy="154.3" r="2.4"/><circle cx="515.08" cy="161.59" r="2.4"/><circle cx="494.21" cy="146.97" r="2.4"/><circle cx="558.11" cy="118.23" r="2.4"/><circle cx="581.24" cy="96.03" r="2.4"/><circle cx="564.71" cy="116.32" r="2.4"/><circle cx="477.22" cy="170.86" r="2.4"/><circle cx="562.09" cy="99.37" r="2.4"/><circle cx="459.67" cy="161.81" r="2.4"/><circle cx="479.01" cy="164.52" r="2.4"/><circle cx="550.25" cy="133.38" r="2.4"/><circle cx="502.57" cy="150.61" r="2.4"/><circle cx="568.47" cy="93.15" r="2.4"/><circle cx="548.69" cy="112.07" r="2.4"/><circle cx="542.62" cy="120.78" r="2.4"/><circle cx="537.63" cy="115.31" r="2.4"/><circle cx="586.05" cy="85.31" r="2.4"/><circle cx="569.34" cy="112.78" r="2.4"/><circle cx="463.67" cy="159.01" r="2.4"/><circle cx="516.3" cy="151.64" r="2.4"/><circle cx="499.2" cy="138.11" r="2.4"/><circle cx="576.24" cy="92.01" r="2.4"/><circle cx="587.62" cy="104.8" r="2.4"/><circle cx="559.96" cy="101.07" r="2.4"/><circle cx="552.68" cy="112.94" r="2.4"/><circle cx="457.7" cy="166.14" r="2.4"/><circle cx="496.81" cy="152.07" r="2.4"/><circle cx="565.98" cy="116.14" r="2.4"/><circle cx="497.33" cy="146.02" r="2.4"/><circle cx="558.25" cy="105.64" r="2.4"/><circle cx="476.21" cy="160.61" r="2.4"/><circle cx="556.41" cy="109.42" r="2.4"/><circle cx="506.89" cy="146.23" r="2.4"/><circle cx="471.7" cy="162.04" r="2.4"/><circle cx="484.13" cy="151.63" r="2.4"/><circle cx="533.48" cy="122.36" r="2.4"/><circle cx="521.49" cy="120.86" r="2.4"/><circle cx="548.55" cy="122.87" r="2.4"/><circle cx="505.86" cy="140.6" r="2.4"/><circle cx="537.09" cy="126.82" r="2.4"/><circle cx="509.28" cy="139.69" r="2.4"/><circle cx="559.29" cy="96.32" r="2.4"/><circle cx="455.73" cy="163.3" r="2.4"/><circle cx="536.16" cy="133.68" r="2.4"/><circle cx="535.99" cy="130.5" r="2.4"/><circle cx="468.97" cy="164.16" r="2.4"/><circle cx="558.78" cy="113.17" r="2.4"/><circle cx="541.9" cy="129.01" r="2.4"/><circle cx="485.55" cy="155.55" r="2.4"/><circle cx="515.5" cy="135.05" r="2.4"/><circle cx="575.35" cy="107.08" r="2.4"/><circle cx="548.29" cy="117.67" r="2.4"/><circle cx="506.41" cy="136.09" r="2.4"/><circle cx="555.88" cy="109.87" r="2.4"/><circle cx="519.2" cy="131.02" r="2.4"/><circle cx="529.31" cy="127.22" r="2.4"/><circle cx="547.29" cy="106.79" r="2.4"/><circle cx="456.98" cy="171.75" r="2.4"/><circle cx="550.13" cy="113.32" r="2.4"/><circle cx="586.44" cy="100.25" r="2.4"/><circle cx="509.13" cy="160.99" r="2.4"/><circle cx="491.81" cy="147.65" r="2.4"/><circle cx="533.74" cy="127.71" r="2.4"/><circle cx="463.81" cy="161.48" r="2.4"/><circle cx="564.84" cy="100.88" r="2.4"/><circle cx="523.46" cy="135.38" r="2.4"/><circle cx="545.56" cy="108.83" r="2.4"/><circle cx="560.96" cy="108.2" r="2.4"/><circle cx="461.14" cy="166.34" r="2.4"/><circle cx="485.87" cy="154.17" r="2.4"/><circle cx="514.58" cy="172.21" r="2.4"/><circle cx="538.79" cy="119.11" r="2.4"/><circle cx="508.15" cy="155.03" r="2.4"/><circle cx="497.02" cy="145.53" r="2.4"/><circle cx="462.67" cy="163.63" r="2.4"/><circle cx="515.81" cy="137.45" r="2.4"/><circle cx="463.8" cy="153.8" r="2.4"/><circle cx="537.55" cy="145.82" r="2.4"/><circle cx="487.68" cy="154.41" r="2.4"/><circle cx="565.12" cy="123" r="2.4"/><circle cx="489.17" cy="142.48" r="2.4"/><circle cx="501.17" cy="127.01" r="2.4"/><circle cx="548.96" cy="109.9" r="2.4"/><circle cx="494.94" cy="143.17" r="2.4"/><circle cx="498.77" cy="143.23" r="2.4"/><circle cx="469.82" cy="174" r="2.4"/><circle cx="499" cy="157.78" r="2.4"/><circle cx="513.65" cy="116.65" r="2.4"/><circle cx="463.14" cy="155.32" r="2.4"/><circle cx="458.33" cy="167.82" r="2.4"/><circle cx="457.73" cy="163.91" r="2.4"/><circle cx="578.43" cy="93.49" r="2.4"/><circle cx="514.23" cy="127.98" r="2.4"/><circle cx="586.95" cy="84.74" r="2.4"/><circle cx="522.41" cy="140.77" r="2.4"/><circle cx="532.4" cy="119.98" r="2.4"/><circle cx="508.82" cy="146.46" r="2.4"/><circle cx="561.04" cy="102.45" r="2.4"/><circle cx="505.2" cy="148.74" r="2.4"/><circle cx="565.29" cy="139.2" r="2.4"/><circle cx="511.3" cy="126.29" r="2.4"/><circle cx="477.99" cy="163.74" r="2.4"/><circle cx="514.56" cy="129.55" r="2.4"/><circle cx="463.63" cy="159.13" r="2.4"/><circle cx="510.77" cy="145.24" r="2.4"/><circle cx="510.72" cy="150.75" r="2.4"/><circle cx="551.1" cy="96.01" r="2.4"/><circle cx="481.56" cy="147.91" r="2.4"/><circle cx="538.72" cy="120.41" r="2.4"/><circle cx="570.22" cy="90.87" r="2.4"/><circle cx="547.88" cy="115.68" r="2.4"/><circle cx="491.39" cy="160.42" r="2.4"/><circle cx="514.85" cy="145.1" r="2.4"/><circle cx="527.51" cy="142.51" r="2.4"/><circle cx="547.13" cy="122.04" r="2.4"/><circle cx="500.86" cy="146.89" r="2.4"/><circle cx="562.89" cy="94.89" r="2.4"/><circle cx="532.8" cy="111.23" r="2.4"/><circle cx="562.02" cy="147.13" r="2.4"/><circle cx="497.26" cy="142.04" r="2.4"/><circle cx="491.23" cy="138.04" r="2.4"/><circle cx="484.74" cy="163.76" r="2.4"/><circle cx="536.94" cy="135.77" r="2.4"/><circle cx="471.92" cy="152.79" r="2.4"/><circle cx="505.51" cy="142.04" r="2.4"/><circle cx="545.66" cy="125.09" r="2.4"/><circle cx="496.96" cy="146.51" r="2.4"/><circle cx="494.68" cy="143.84" r="2.4"/><circle cx="491.46" cy="150.27" r="2.4"/><circle cx="521.59" cy="130.43" r="2.4"/><circle cx="557.59" cy="108.44" r="2.4"/><circle cx="495.2" cy="145.84" r="2.4"/><circle cx="529.01" cy="127.41" r="2.4"/><circle cx="525.1" cy="133.3" r="2.4"/><circle cx="495.96" cy="139.82" r="2.4"/><circle cx="570.49" cy="103.6" r="2.4"/><circle cx="584.09" cy="95.39" r="2.4"/><circle cx="556.23" cy="126.5" r="2.4"/><circle cx="502.97" cy="150.45" r="2.4"/><circle cx="525.02" cy="130.1" r="2.4"/><circle cx="502.47" cy="146.73" r="2.4"/><circle cx="457.86" cy="169.42" r="2.4"/><circle cx="577.19" cy="102.03" r="2.4"/><circle cx="494.9" cy="163.55" r="2.4"/><circle cx="480.45" cy="158.15" r="2.4"/><circle cx="570.65" cy="89.62" r="2.4"/><circle cx="562.81" cy="96.51" r="2.4"/><circle cx="465.9" cy="163.42" r="2.4"/><circle cx="499.12" cy="142.79" r="2.4"/><circle cx="473.83" cy="157.09" r="2.4"/><circle cx="556.31" cy="120.76" r="2.4"/><circle cx="583.79" cy="101.44" r="2.4"/><circle cx="498.67" cy="154.03" r="2.4"/><circle cx="506.81" cy="138.61" r="2.4"/><circle cx="464.48" cy="156.02" r="2.4"/><circle cx="474.63" cy="156.13" r="2.4"/><circle cx="469.85" cy="161.55" r="2.4"/><circle cx="553.25" cy="93.95" r="2.4"/><circle cx="488.11" cy="153.9" r="2.4"/><circle cx="520.69" cy="129.72" r="2.4"/><circle cx="496.06" cy="146.88" r="2.4"/><circle cx="527.44" cy="120.1" r="2.4"/><circle cx="531.83" cy="144.34" r="2.4"/><circle cx="505.66" cy="138.72" r="2.4"/><circle cx="495.15" cy="150.17" r="2.4"/><circle cx="584.78" cy="90.35" r="2.4"/><circle cx="520.84" cy="146.15" r="2.4"/><circle cx="512.09" cy="128.68" r="2.4"/><circle cx="527.25" cy="121.91" r="2.4"/><circle cx="530.21" cy="142.81" r="2.4"/><circle cx="516.58" cy="141.15" r="2.4"/><circle cx="505.23" cy="134.43" r="2.4"/><circle cx="543.68" cy="112.36" r="2.4"/><circle cx="478.87" cy="157.52" r="2.4"/><circle cx="530.88" cy="127.74" r="2.4"/><circle cx="567.04" cy="110.15" r="2.4"/><circle cx="533.1" cy="141.82" r="2.4"/><circle cx="495.2" cy="153" r="2.4"/><circle cx="507.68" cy="131.53" r="2.4"/><circle cx="553.98" cy="99.16" r="2.4"/><circle cx="532.08" cy="142.76" r="2.4"/><circle cx="460.02" cy="167.51" r="2.4"/><circle cx="502.41" cy="151" r="2.4"/><circle cx="555.39" cy="120.56" r="2.4"/><circle cx="469.46" cy="166.93" r="2.4"/><circle cx="512.62" cy="145.29" r="2.4"/><circle cx="532.28" cy="121.11" r="2.4"/><circle cx="500.09" cy="140.61" r="2.4"/><circle cx="548.39" cy="100.03" r="2.4"/><circle cx="470" cy="161.16" r="2.4"/><circle cx="557.6" cy="116.87" r="2.4"/><circle cx="577.6" cy="107.29" r="2.4"/><circle cx="527.74" cy="134.06" r="2.4"/><circle cx="520.61" cy="147.3" r="2.4"/><circle cx="500.86" cy="138.48" r="2.4"/><circle cx="474.64" cy="163.92" r="2.4"/><circle cx="527.1" cy="131.1" r="2.4"/><circle cx="501" cy="131.85" r="2.4"/><circle cx="575.25" cy="97.56" r="2.4"/><circle cx="482.63" cy="166.71" r="2.4"/><circle cx="466.08" cy="156.79" r="2.4"/><circle cx="562.29" cy="102.47" r="2.4"/><circle cx="516.37" cy="131.16" r="2.4"/><circle cx="576.53" cy="106.93" r="2.4"/><circle cx="552.52" cy="125.41" r="2.4"/><circle cx="561.97" cy="106.12" r="2.4"/><circle cx="536.23" cy="142.53" r="2.4"/><circle cx="525.79" cy="140.21" r="2.4"/><circle cx="541.3" cy="110.63" r="2.4"/><circle cx="563.56" cy="120.12" r="2.4"/><circle cx="580.58" cy="81.56" r="2.4"/><circle cx="554.43" cy="114.23" r="2.4"/><circle cx="463.08" cy="155.85" r="2.4"/><circle cx="457.87" cy="170.8" r="2.4"/><circle cx="494.04" cy="137.52" r="2.4"/><circle cx="455.83" cy="169.27" r="2.4"/><circle cx="532.5" cy="127.57" r="2.4"/><circle cx="486.89" cy="161.17" r="2.4"/><circle cx="577.81" cy="107.44" r="2.4"/><circle cx="474.08" cy="153.23" r="2.4"/><circle cx="559.96" cy="108.56" r="2.4"/><circle cx="469.32" cy="157.72" r="2.4"/><circle cx="507.8" cy="145.39" r="2.4"/><circle cx="497.07" cy="157.72" r="2.4"/><circle cx="502.42" cy="145.68" r="2.4"/><circle cx="550.78" cy="111.66" r="2.4"/><circle cx="575.48" cy="91.83" r="2.4"/><circle cx="546.3" cy="113.96" r="2.4"/><circle cx="479.7" cy="161.52" r="2.4"/><circle cx="509.07" cy="136.77" r="2.4"/><circle cx="523.32" cy="137.67" r="2.4"/><circle cx="496.34" cy="138.39" r="2.4"/><circle cx="551.05" cy="103.79" r="2.4"/><circle cx="550.34" cy="120.46" r="2.4"/><circle cx="493.24" cy="145.39" r="2.4"/><circle cx="528.85" cy="127.9" r="2.4"/><circle cx="491.26" cy="161.9" r="2.4"/><circle cx="502.58" cy="139.97" r="2.4"/><circle cx="560.51" cy="118.67" r="2.4"/><circle cx="493.43" cy="163.36" r="2.4"/><circle cx="547.95" cy="116.78" r="2.4"/><circle cx="492.39" cy="142.45" r="2.4"/><circle cx="563.02" cy="99.07" r="2.4"/><circle cx="482.14" cy="161.65" r="2.4"/><circle cx="579.21" cy="113.48" r="2.4"/><circle cx="467.97" cy="175.89" r="2.4"/><circle cx="488.86" cy="157.13" r="2.4"/><circle cx="544.75" cy="125.64" r="2.4"/><circle cx="507.23" cy="144.11" r="2.4"/><circle cx="482.51" cy="147.78" r="2.4"/><circle cx="480.89" cy="158.07" r="2.4"/><circle cx="527.85" cy="150.14" r="2.4"/><circle cx="500.73" cy="155.24" r="2.4"/><circle cx="583.55" cy="101.87" r="2.4"/><circle cx="556.3" cy="125.11" r="2.4"/><circle cx="523.69" cy="130.19" r="2.4"/><circle cx="544.09" cy="123.97" r="2.4"/><circle cx="490.16" cy="152.46" r="2.4"/><circle cx="516.28" cy="136.63" r="2.4"/><circle cx="565.25" cy="103.04" r="2.4"/><circle cx="583.44" cy="83.91" r="2.4"/><circle cx="480.69" cy="149.31" r="2.4"/><circle cx="502.33" cy="153.52" r="2.4"/><circle cx="560.07" cy="112.4" r="2.4"/><circle cx="498.07" cy="148.64" r="2.4"/><circle cx="504.6" cy="145.51" r="2.4"/><circle cx="474.3" cy="154.15" r="2.4"/><circle cx="570.03" cy="93.63" r="2.4"/><circle cx="475.87" cy="165.53" r="2.4"/><circle cx="546.98" cy="101.55" r="2.4"/><circle cx="473.58" cy="156.16" r="2.4"/><circle cx="495.25" cy="143.95" r="2.4"/><circle cx="477.11" cy="149.3" r="2.4"/><circle cx="561.66" cy="111.37" r="2.4"/><circle cx="489.33" cy="159" r="2.4"/><circle cx="567.69" cy="101.92" r="2.4"/><circle cx="503.96" cy="152.84" r="2.4"/><circle cx="529.88" cy="140.2" r="2.4"/><circle cx="566.22" cy="99.5" r="2.4"/><circle cx="473.28" cy="154.61" r="2.4"/><circle cx="509.77" cy="147.07" r="2.4"/><circle cx="583.71" cy="80.07" r="2.4"/><circle cx="495.3" cy="140.28" r="2.4"/><circle cx="533.5" cy="115.62" r="2.4"/><circle cx="585.56" cy="85.53" r="2.4"/><circle cx="550.73" cy="119.49" r="2.4"/><circle cx="587.09" cy="56.68" r="2.4"/><circle cx="531.78" cy="131.95" r="2.4"/><circle cx="546.48" cy="114.06" r="2.4"/><circle cx="469.91" cy="153.95" r="2.4"/><circle cx="514.95" cy="135.31" r="2.4"/><circle cx="529.35" cy="126.88" r="2.4"/><circle cx="529.01" cy="124.46" r="2.4"/><circle cx="501.56" cy="143.8" r="2.4"/><circle cx="544.77" cy="108.74" r="2.4"/><circle cx="528.79" cy="112.65" r="2.4"/><circle cx="481.22" cy="156.57" r="2.4"/><circle cx="554.17" cy="105.42" r="2.4"/><circle cx="542.71" cy="128.17" r="2.4"/><circle cx="533.76" cy="112.2" r="2.4"/><circle cx="503.45" cy="146.54" r="2.4"/><circle cx="540.81" cy="156.29" r="2.4"/><circle cx="480.67" cy="159.96" r="2.4"/><circle cx="490.59" cy="154.98" r="2.4"/><circle cx="534.25" cy="144.47" r="2.4"/><circle cx="543.09" cy="118.64" r="2.4"/><circle cx="465.32" cy="164.34" r="2.4"/><circle cx="577.62" cy="84.21" r="2.4"/><circle cx="513.1" cy="157.08" r="2.4"/><circle cx="464.03" cy="158.08" r="2.4"/><circle cx="512" cy="139.58" r="2.4"/><circle cx="537.39" cy="101.49" r="2.4"/><circle cx="508.43" cy="140.86" r="2.4"/><circle cx="506.19" cy="143.04" r="2.4"/><circle cx="566.54" cy="103.88" r="2.4"/><circle cx="515.5" cy="140.55" r="2.4"/><circle cx="494.57" cy="143.96" r="2.4"/><circle cx="474.38" cy="157.04" r="2.4"/><circle cx="522.93" cy="127.58" r="2.4"/><circle cx="553.91" cy="110.47" r="2.4"/><circle cx="506.14" cy="148.48" r="2.4"/><circle cx="492.74" cy="124.87" r="2.4"/><circle cx="532.76" cy="137.05" r="2.4"/><circle cx="567.43" cy="92.81" r="2.4"/><circle cx="534.49" cy="127.69" r="2.4"/><circle cx="537.62" cy="113.57" r="2.4"/><circle cx="511.83" cy="141.45" r="2.4"/><circle cx="544.39" cy="108.61" r="2.4"/><circle cx="558.14" cy="104.78" r="2.4"/><circle cx="471.87" cy="152.62" r="2.4"/><circle cx="516.45" cy="134.79" r="2.4"/><circle cx="519.75" cy="133.35" r="2.4"/><circle cx="524.32" cy="155.15" r="2.4"/><circle cx="554.37" cy="111.81" r="2.4"/><circle cx="521.3" cy="125.45" r="2.4"/><circle cx="538.35" cy="125.91" r="2.4"/><circle cx="499.49" cy="145.84" r="2.4"/><circle cx="493.96" cy="150.96" r="2.4"/><circle cx="526.62" cy="149.51" r="2.4"/><circle cx="477.05" cy="152.37" r="2.4"/><circle cx="467.11" cy="164.76" r="2.4"/><circle cx="551.46" cy="129.06" r="2.4"/><circle cx="480.24" cy="150.3" r="2.4"/><circle cx="540.58" cy="117.96" r="2.4"/><circle cx="587.99" cy="80.29" r="2.4"/><circle cx="569.55" cy="99.56" r="2.4"/><circle cx="475.4" cy="162.11" r="2.4"/><circle cx="520.69" cy="125.83" r="2.4"/><circle cx="531.4" cy="136.17" r="2.4"/><circle cx="505.48" cy="138.64" r="2.4"/><circle cx="508.29" cy="149.69" r="2.4"/><circle cx="481.84" cy="150.38" r="2.4"/><circle cx="572.34" cy="107.13" r="2.4"/><circle cx="561.26" cy="90.45" r="2.4"/><circle cx="485.15" cy="162.56" r="2.4"/><circle cx="508.57" cy="132.16" r="2.4"/><circle cx="528.13" cy="132.52" r="2.4"/><circle cx="583.82" cy="81.18" r="2.4"/><circle cx="450.26" cy="162.22" r="2.4"/><circle cx="581.73" cy="111.46" r="2.4"/><circle cx="468.72" cy="156.9" r="2.4"/><circle cx="499.66" cy="148.53" r="2.4"/><circle cx="453.56" cy="170.29" r="2.4"/><circle cx="516.61" cy="132.68" r="2.4"/><circle cx="551.37" cy="100.48" r="2.4"/><circle cx="467.74" cy="155.05" r="2.4"/><circle cx="531.81" cy="126.33" r="2.4"/><circle cx="505.85" cy="149.25" r="2.4"/><circle cx="531.44" cy="113.12" r="2.4"/><circle cx="500.66" cy="150.59" r="2.4"/><circle cx="545.77" cy="134.78" r="2.4"/><circle cx="522.38" cy="99.79" r="2.4"/><circle cx="524.04" cy="112.16" r="2.4"/><circle cx="523.83" cy="147.64" r="2.4"/><circle cx="506" cy="139.43" r="2.4"/><circle cx="526.17" cy="144.48" r="2.4"/><circle cx="552.48" cy="107.39" r="2.4"/><circle cx="541.66" cy="125.59" r="2.4"/><circle cx="478.94" cy="172.04" r="2.4"/><circle cx="545.23" cy="109.12" r="2.4"/><circle cx="487.03" cy="158.7" r="2.4"/><circle cx="543.68" cy="115.73" r="2.4"/><circle cx="555.38" cy="118.66" r="2.4"/><circle cx="542.94" cy="102.99" r="2.4"/><circle cx="562.65" cy="94.66" r="2.4"/><circle cx="513.44" cy="142.06" r="2.4"/><circle cx="579.75" cy="88.73" r="2.4"/><circle cx="528.79" cy="138.25" r="2.4"/><circle cx="500.12" cy="136.57" r="2.4"/><circle cx="534.64" cy="125.33" r="2.4"/><circle cx="480.32" cy="145.5" r="2.4"/><circle cx="513.65" cy="149.58" r="2.4"/><circle cx="476.89" cy="154.03" r="2.4"/><circle cx="523.57" cy="116.72" r="2.4"/><circle cx="495.1" cy="158.72" r="2.4"/><circle cx="481.44" cy="151.09" r="2.4"/><circle cx="558.04" cy="107.25" r="2.4"/><circle cx="501.39" cy="138.42" r="2.4"/><circle cx="548.86" cy="117.54" r="2.4"/><circle cx="510.59" cy="129.84" r="2.4"/><circle cx="498.79" cy="146.47" r="2.4"/><circle cx="479.76" cy="151.06" r="2.4"/><circle cx="506.24" cy="153.84" r="2.4"/><circle cx="531.78" cy="123.72" r="2.4"/><circle cx="459.45" cy="157.13" r="2.4"/><circle cx="534.09" cy="127.59" r="2.4"/><circle cx="488.75" cy="152.45" r="2.4"/><circle cx="482.81" cy="168.29" r="2.4"/><circle cx="481.28" cy="162.79" r="2.4"/><circle cx="498.44" cy="149.05" r="2.4"/><circle cx="538.66" cy="126.49" r="2.4"/><circle cx="494.57" cy="133.03" r="2.4"/><circle cx="546.56" cy="110.49" r="2.4"/><circle cx="524.59" cy="143.5" r="2.4"/><circle cx="506.64" cy="123.71" r="2.4"/><circle cx="487.55" cy="158.87" r="2.4"/><circle cx="520.77" cy="134.88" r="2.4"/><circle cx="532.34" cy="101.88" r="2.4"/><circle cx="505.77" cy="145.16" r="2.4"/><circle cx="508.38" cy="136.88" r="2.4"/><circle cx="536.56" cy="129.14" r="2.4"/><circle cx="505.71" cy="132.26" r="2.4"/><circle cx="543.54" cy="110.92" r="2.4"/><circle cx="530.8" cy="113.19" r="2.4"/><circle cx="563.02" cy="100.07" r="2.4"/><circle cx="489.54" cy="147.88" r="2.4"/><circle cx="465.41" cy="171.49" r="2.4"/><circle cx="565.7" cy="120.23" r="2.4"/><circle cx="580.74" cy="99.82" r="2.4"/><circle cx="466.85" cy="162.8" r="2.4"/><circle cx="578.03" cy="103.43" r="2.4"/><circle cx="522.24" cy="120.61" r="2.4"/><circle cx="471.39" cy="148.98" r="2.4"/><circle cx="493.62" cy="149.59" r="2.4"/><circle cx="483.31" cy="165.36" r="2.4"/><circle cx="527.86" cy="142.22" r="2.4"/><circle cx="511.76" cy="132.47" r="2.4"/><circle cx="548.7" cy="114.52" r="2.4"/><circle cx="499.84" cy="141.1" r="2.4"/><circle cx="478.84" cy="149.92" r="2.4"/><circle cx="579.56" cy="89.82" r="2.4"/><circle cx="474.45" cy="160.59" r="2.4"/><circle cx="493.6" cy="164.17" r="2.4"/><circle cx="530.33" cy="127.39" r="2.4"/><circle cx="556.05" cy="111.94" r="2.4"/><circle cx="500.66" cy="142.62" r="2.4"/><circle cx="467.79" cy="163.77" r="2.4"/><circle cx="495.9" cy="145.23" r="2.4"/><circle cx="533.07" cy="122.98" r="2.4"/><circle cx="574.66" cy="101.92" r="2.4"/><circle cx="461.1" cy="168.01" r="2.4"/><circle cx="551.62" cy="122.42" r="2.4"/><circle cx="538.58" cy="120.02" r="2.4"/><circle cx="503.56" cy="137.22" r="2.4"/><circle cx="520.63" cy="117.19" r="2.4"/><circle cx="465.74" cy="161.96" r="2.4"/><circle cx="523.68" cy="127.8" r="2.4"/><circle cx="559.46" cy="96.13" r="2.4"/><circle cx="501.36" cy="153.57" r="2.4"/><circle cx="532.65" cy="120.86" r="2.4"/><circle cx="546.77" cy="123.14" r="2.4"/><circle cx="476.78" cy="160.24" r="2.4"/><circle cx="514.86" cy="130.85" r="2.4"/><circle cx="498.61" cy="148.83" r="2.4"/><circle cx="491.31" cy="148.39" r="2.4"/><circle cx="537.21" cy="135.65" r="2.4"/><circle cx="466.89" cy="161.43" r="2.4"/><circle cx="526.69" cy="139.63" r="2.4"/><circle cx="553.13" cy="117.25" r="2.4"/><circle cx="489.06" cy="131.58" r="2.4"/><circle cx="464.7" cy="161.65" r="2.4"/><circle cx="575.07" cy="99.38" r="2.4"/><circle cx="573.11" cy="102.92" r="2.4"/><circle cx="504.69" cy="150.11" r="2.4"/><circle cx="572.48" cy="78.79" r="2.4"/><circle cx="490.49" cy="156.32" r="2.4"/><circle cx="487.07" cy="136.14" r="2.4"/><circle cx="551.65" cy="117.43" r="2.4"/><circle cx="478.44" cy="149.37" r="2.4"/><circle cx="506.86" cy="141.36" r="2.4"/><circle cx="543.62" cy="126.96" r="2.4"/><circle cx="494.96" cy="150.31" r="2.4"/><circle cx="455.62" cy="158.6" r="2.4"/><circle cx="585.21" cy="91.01" r="2.4"/><circle cx="502.8" cy="160.74" r="2.4"/><circle cx="495.38" cy="134.11" r="2.4"/><circle cx="527.42" cy="137.52" r="2.4"/><circle cx="569.4" cy="105.01" r="2.4"/><circle cx="514.4" cy="124.52" r="2.4"/><circle cx="601.5" cy="20.2" r="2.4"/><circle cx="602.2" cy="34.4" r="2.4"/><circle cx="601.5" cy="47.7" r="2.4"/><circle cx="602.8" cy="48.3" r="2.4"/><circle cx="597.1" cy="52.8" r="2.4"/><circle cx="615.5" cy="49.9" r="2.4"/><circle cx="608.8" cy="59" r="2.4"/><circle cx="614.8" cy="59.4" r="2.4"/><circle cx="618.1" cy="60.5" r="2.4"/><circle cx="627" cy="35.5" r="2.4"/><circle cx="636.5" cy="31.7" r="2.4"/><circle cx="635.8" cy="37.3" r="2.4"/><circle cx="646.9" cy="22.4" r="2.4"/><circle cx="589.6" cy="64.7" r="2.4"/><circle cx="591.8" cy="68.1" r="2.4"/><circle cx="597.1" cy="66.9" r="2.4"/><circle cx="598.7" cy="64.9" r="2.4"/><circle cx="607" cy="67.2" r="2.4"/><circle cx="598.2" cy="73" r="2.4"/><circle cx="603.2" cy="72.5" r="2.4"/><circle cx="609.2" cy="74.4" r="2.4"/><circle cx="611.4" cy="76.6" r="2.4"/><circle cx="601.5" cy="77.3" r="2.4"/><circle cx="617" cy="61.1" r="2.4"/><circle cx="608.1" cy="88.8" r="2.4"/><circle cx="601.5" cy="92.8" r="2.4"/><circle cx="604.4" cy="96.1" r="2.4"/><circle cx="593.7" cy="97.7" r="2.4"/><circle cx="597" cy="101" r="2.4"/><circle cx="599.3" cy="103.2" r="2.4"/><circle cx="613.7" cy="111" r="2.4"/><circle cx="590.4" cy="82.2" r="2.4"/><circle cx="589.3" cy="93.2" r="2.4"/></g><g clip-path="url(#cb)"><line x1="400.3" y1="232.6" x2="678.6" y2="7.6" stroke="#000" stroke-width="1.25"/><line x1="400.3" y1="218.65" x2="661.35" y2="7.6" stroke="#d42030" stroke-width="1.35" stroke-dasharray="6.1 5.5"/><line x1="417.55" y1="232.6" x2="678.6" y2="21.55" stroke="#d42030" stroke-width="1.35" stroke-dasharray="6.1 5.5" stroke-dashoffset="0.6"/></g><path d="M400.05 7.6H678.6V233.7H400.05Z" fill="none" stroke="#4a4a4a" stroke-width="1.3"/><path d="M428.13 233.7v-2.4M400.05 210.1h2.3M455.96 233.7v-4.4M400.05 187.6h4.3M483.79 233.7v-2.4M400.05 165.1h2.3M511.62 233.7v-4.4M400.05 142.6h4.3M539.45 233.7v-2.4M400.05 120.1h2.3M567.28 233.7v-4.4M400.05 97.6h4.3M595.11 233.7v-2.4M400.05 75.1h2.3M622.94 233.7v-4.4M400.05 52.6h4.3M650.77 233.7v-2.4M400.05 30.1h2.3" stroke="#3a3a3a" stroke-width="1.2" fill="none"/><text transform="translate(380.95 255) scale(0.97 1)" font-size="15.5">10</text><text x="394.65" y="244.8" font-size="11.2">−7</text><text transform="translate(373.45 241.8) scale(0.97 1)" font-size="15.5">10</text><text x="385.15" y="232.1" font-size="11.2">−7</text><text transform="translate(436.37 255) scale(0.97 1)" font-size="15.5">10</text><text x="450.31" y="244.8" font-size="11.2">−6</text><text transform="translate(373.45 197.4) scale(0.97 1)" font-size="15.5">10</text><text x="385.15" y="187.1" font-size="11.2">−6</text><text transform="translate(491.79 255) scale(0.97 1)" font-size="15.5">10</text><text x="505.97" y="244.8" font-size="11.2">−5</text><text transform="translate(373.45 153) scale(0.97 1)" font-size="15.5">10</text><text x="385.15" y="142.1" font-size="11.2">−5</text><text transform="translate(547.21 255) scale(0.97 1)" font-size="15.5">10</text><text x="561.63" y="244.8" font-size="11.2">−4</text><text transform="translate(373.45 108.6) scale(0.97 1)" font-size="15.5">10</text><text x="385.15" y="97.1" font-size="11.2">−4</text><text transform="translate(602.63 255) scale(0.97 1)" font-size="15.5">10</text><text x="617.29" y="244.8" font-size="11.2">−3</text><text transform="translate(373.45 64.2) scale(0.97 1)" font-size="15.5">10</text><text x="385.15" y="52.1" font-size="11.2">−3</text><text transform="translate(658.05 255) scale(0.97 1)" font-size="15.5">10</text><text x="672.95" y="244.8" font-size="11.2">−2</text><text transform="translate(373.45 19.8) scale(0.97 1)" font-size="15.5">10</text><text x="385.15" y="7.1" font-size="11.2">−2</text><text x="538.65" y="270.9" font-size="14.6" text-anchor="middle">True MDR</text><text transform="translate(366.9 129.1) rotate(-90)" font-size="15.2" text-anchor="middle">Predicted MDR</text><text x="-0.4" y="11.6" font-size="14.4">(a)</text><text x="352.3" y="11.4" font-size="14.4">(b)</text><text x="234.8" y="196.8" font-size="15">Training set</text><text x="235.1" y="214.8" font-size="15">σ =0.290</text><text x="610.9" y="196.8" font-size="15">Test set</text><text x="610.3" y="214.8" font-size="15">σ =0.310</text><g transform="translate(0 0)"><rect x="53.5" y="13.5" width="99.9" height="44" fill="#fff" stroke="#8a8a8a" stroke-width="1.1"/><circle cx="67.9" cy="21.2" r="2.4" fill="#72afdc"/><text x="83.2" y="25.2" font-size="11.7">Data</text><line x1="55" y1="35.5" x2="81" y2="35.5" stroke="#8c8c8c" stroke-width="1.0"/><text x="83.6" y="39.6" font-size="11.7">1:1 line</text><line x1="54.4" y1="49.8" x2="81.4" y2="49.8" stroke="#d42030" stroke-width="1.35" stroke-dasharray="5.2 5.8"/><text x="82.6" y="53.8" font-size="11.7">±1 SD of error</text></g><g transform="translate(0 -0.9)"><rect x="406.5" y="13.5" width="99.9" height="44" fill="#fff" stroke="#8a8a8a" stroke-width="1.1"/><circle cx="420.9" cy="21.2" r="2.4" fill="#72afdc"/><text x="436.2" y="25.2" font-size="11.7">Data</text><line x1="407.6" y1="34.9" x2="433.6" y2="34.9" stroke="#cdcdcd" stroke-width="1.5"/><text x="436.6" y="39.6" font-size="11.7">1:1 line</text><line x1="407.4" y1="49.8" x2="434.4" y2="49.8" stroke="#d42030" stroke-width="1.35" stroke-dasharray="5.2 5.8"/><text x="435.6" y="53.8" font-size="11.7">±1 SD of error</text></g></svg></body></html>
